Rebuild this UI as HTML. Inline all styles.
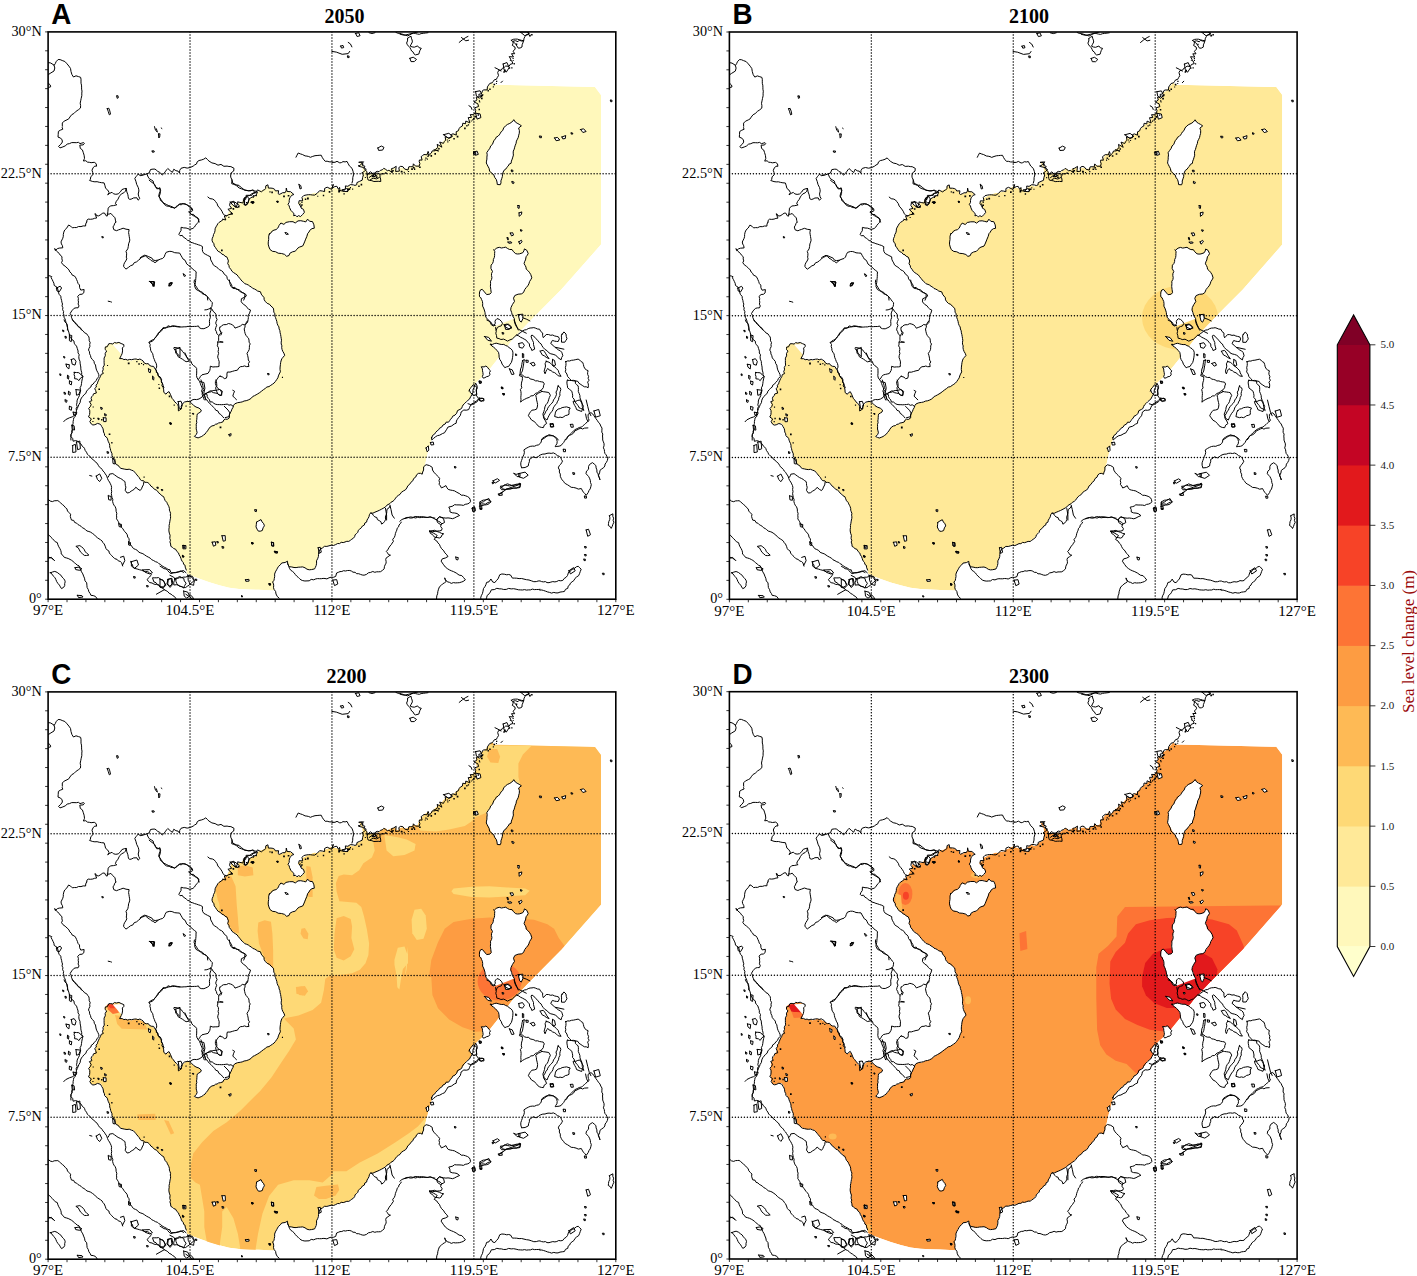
<!DOCTYPE html>
<html><head><meta charset="utf-8"><style>
html,body{margin:0;padding:0;background:#fff;width:1417px;height:1276px;overflow:hidden}
svg{display:block}
text{font-family:"Liberation Serif",serif}
</style></head><body>
<svg width="1417" height="1276" viewBox="0 0 1417 1276">
<defs>
<clipPath id="clp"><rect x="0" y="0" width="567.7" height="567.3"/></clipPath>
<g id="coast" fill="none" stroke="#000" stroke-width="1" stroke-linejoin="round" stroke-linecap="round"><path d="M480.4,-0.6 480.7,2.7 478.1,3.0 477.0,4.5 476.0,6.2 475.5,9.1 473.4,9.1 471.1,8.3 469.9,9.8 467.3,8.8 465.0,9.3 464.9,11.6 464.2,13.5 466.8,15.1 467.1,17.1 465.0,19.3 466.6,21.8 463.4,21.8 465.4,25.1 461.1,24.7 462.7,27.4 461.9,28.3 463.6,28.8 464.8,31.6 462.0,32.5 460.9,34.5 457.6,34.1 456.2,35.4 454.2,36.4 453.3,38.1 450.6,38.5 449.6,40.6 450.4,43.7 449.2,45.6 448.3,47.4 446.2,47.9 445.2,49.4 444.1,50.9 441.7,51.5 440.5,53.2 439.3,55.0 439.1,58.0 435.7,58.0 434.5,58.6 433.7,60.9 432.8,62.0 430.7,62.4 431.2,64.9 428.1,65.2 428.9,68.0 425.9,70.1 429.7,71.8 430.5,74.6 426.6,75.9 427.6,78.6 427.1,80.8 425.6,82.8 422.1,82.7 423.4,85.5 420.1,85.7 420.8,87.9 421.8,91.0 417.7,89.1 417.4,91.9 414.7,91.3 414.3,94.1 412.3,95.1 411.0,96.7 410.2,98.9 408.1,99.8 408.2,103.2 404.9,101.9 403.2,102.6 402.9,105.7 400.3,105.9 397.0,104.7 397.6,108.2 396.3,109.6 395.3,111.5 391.6,110.1 393.8,115.3 389.1,112.4 389.7,115.7 388.0,116.9 387.0,118.9 384.1,119.0 383.3,121.1 381.8,122.4 379.7,125.0 380.8,121.8 380.0,119.5 379.0,122.9 375.9,122.6 374.4,123.7 373.1,124.7 374.0,128.2 371.3,128.1 371.1,129.8 371.8,131.7 371.1,134.3 367.4,134.2 365.3,131.9 364.8,135.0 362.5,134.7 360.7,134.9 359.9,138.1 356.6,137.2 354.8,134.8 352.6,134.4 350.7,135.7 351.3,139.2 347.5,139.6 348.1,134.4 345.3,136.2 343.4,136.7 344.2,140.6 340.8,138.4 339.3,138.8 337.4,137.4 335.7,136.4 334.2,137.9 332.2,138.5 330.9,139.8 329.1,139.4 327.6,140.1 326.1,142.3 324.2,141.6 322.5,139.8 318.9,142.8 318.8,139.9 317.9,138.8 315.8,136.5 316.8,134.3 314.4,133.6 313.8,130.3 310.6,130.4 315.5,129.9 310.9,134.5 315.6,135.6 318.2,137.5 316.0,139.6 313.6,141.2 315.4,142.9 314.5,145.6 314.1,148.3 311.6,149.4 308.8,150.7 308.7,152.8 306.9,153.5 305.2,153.0 302.3,152.7 299.7,154.4 297.3,154.0 297.4,156.9 295.3,159.3 291.8,158.6 291.5,155.5 290.4,157.5 288.8,154.4 286.8,154.6 284.2,156.2 285.2,152.5 283.6,157.5 279.1,155.3 276.5,156.5 276.5,159.7 274.2,159.1 271.5,158.8 269.1,161.4 266.6,163.2 264.2,163.1 262.2,162.8 260.2,162.8 258.0,163.1 255.6,163.7 253.9,165.4 254.6,169.0 251.0,168.8 250.6,171.5 251.1,172.0 252.6,174.8M253.1,173.7 252.9,176.1 255.4,177.5 256.3,180.4 254.5,182.6 252.4,184.7 250.5,183.7 248.9,184.9 247.4,183.4 245.5,183.8 245.9,182.0 244.8,180.5 242.8,178.5 241.5,175.8 241.1,174.0 239.9,172.5 241.1,170.4 241.1,168.4 241.7,165.7 242.9,164.6 243.7,163.3 245.8,162.6 244.8,161.8 242.5,159.8 239.0,159.6 238.2,156.1 238.0,159.0 237.0,160.8 234.6,160.8 232.8,161.8 231.1,162.5 230.1,161.8 230.5,158.8 227.3,159.0 226.4,157.3 224.8,156.5 222.9,156.2 220.3,156.2 219.8,152.9 217.7,153.9 217.5,156.6 216.1,158.2M215.5,158.1 213.3,159.9 209.4,158.0 207.5,160.9 204.7,161.2 203.8,163.4 201.5,163.4 198.0,163.4 197.7,167.3 195.4,168.1 195.0,171.1 191.8,170.5 189.5,169.9 189.7,171.1 187.8,175.8 185.6,169.3 182.0,170.8 181.5,173.6 183.6,176.4 179.8,177.4 184.8,182.1 180.8,182.7 178.6,183.9 176.2,184.1 177.7,188.1 174.4,187.3M174.8,187.8 173.0,189.2 171.0,190.5 169.8,191.7 169.0,193.2 167.9,195.0 167.0,196.9 166.9,198.9 166.4,200.8 165.4,202.6 165.1,204.5 164.2,206.3 163.9,208.3 164.5,210.1 165.8,211.8 166.1,214.0 167.4,215.7 168.6,217.6 170.1,219.5 172.2,220.4 173.8,222.3 175.6,222.8 176.8,224.3 178.7,225.0 179.6,227.0 180.3,229.0 179.6,231.8 180.8,233.5 181.2,235.6 182.7,237.4 183.9,239.4 185.5,240.7 187.2,241.8 188.9,242.9 190.3,244.8 191.8,246.6 192.9,248.0 194.1,249.4 195.5,250.5 196.7,251.8 198.6,252.4 200.2,253.1 201.7,254.3 203.3,255.1 204.6,256.5 206.4,257.1 208.0,258.0 209.4,259.1 212.4,259.9 213.1,262.2 214.5,264.0 215.9,265.6 216.1,267.9 217.4,269.8 219.1,271.5 221.3,272.3 222.9,274.2 225.2,276.2 225.6,278.2 225.7,280.2 226.8,281.9 226.6,283.9 227.4,285.7 228.1,287.6 228.7,289.5 229.0,291.4 229.7,293.3 230.8,295.0 231.0,297.0 231.8,298.8 232.0,300.8 232.5,302.7 232.8,304.5 233.1,306.4 233.4,308.3 233.1,310.2 233.1,312.1 233.8,313.9 233.6,315.8 234.0,317.7 234.7,319.5 235.8,321.3 236.6,323.4 235.0,325.3 233.9,326.6 233.2,328.1 232.6,330.4 232.3,332.8 232.0,335.1 231.9,337.5 232.3,339.9 231.1,342.1 230.3,344.0 229.8,345.9 228.5,347.8 227.3,349.6 226.0,351.1 224.4,352.3 222.7,353.4 220.9,354.7 218.8,355.1 217.2,356.5 215.3,357.8 213.4,359.3 211.6,360.7 209.6,362.0 208.0,362.9 206.4,363.8 204.7,364.5 203.4,366.1 201.9,367.2 200.1,368.1 198.1,368.8 196.0,369.1 194.1,370.0 192.1,370.4 189.4,370.8 186.7,371.9 185.5,373.4 184.9,375.5 183.8,377.3 183.1,379.3 182.0,381.1 181.2,383.0 181.3,385.9 179.2,387.4 177.1,387.2 175.7,388.1 174.8,390.0 172.6,390.7 170.4,391.1 169.0,392.1 167.3,392.4 166.0,393.6 163.9,394.0 162.1,395.1 160.5,397.2 159.4,399.0 158.0,400.6 156.9,402.2 155.3,403.3 153.7,404.5 151.8,405.3 150.0,406.0 148.0,405.4 146.3,404.5 148.1,402.7 149.0,400.8 148.6,398.9 148.1,397.0 148.2,394.7 148.1,392.3 148.7,390.7 148.4,389.0 148.7,387.4 148.8,385.7 148.9,383.8 149.2,382.1 150.8,381.1 152.6,380.0 153.2,378.2 150.9,376.2 147.9,375.1 145.6,373.6 143.5,371.4 142.0,370.0 139.6,369.4M139.4,369.5 136.4,370.1 135.0,371.3 133.8,372.7 133.1,374.4 133.5,376.8 130.3,379.0 130.2,374.4 129.6,372.7 128.4,371.5 126.6,369.9 125.3,367.9 124.1,366.7 123.4,365.1 122.3,362.4 120.9,359.7 119.0,360.8 117.9,362.3 115.7,360.5 115.6,358.0 115.1,355.6 113.8,353.9 114.3,351.8 113.1,350.1 113.6,347.9 112.2,345.1 110.1,343.9 110.0,341.5 108.2,340.5 108.3,338.3 106.9,337.0 105.5,334.5 103.1,334.3 101.2,333.3 100.2,331.7 98.1,331.9 96.2,331.2 94.9,329.0 93.4,328.0 91.8,327.1 89.8,327.8 88.1,327.1 86.1,327.2 83.3,327.8 81.6,327.5 79.5,328.2 77.7,327.4 75.8,327.7 74.1,326.7 71.5,326.7 73.1,323.7 73.9,322.0 74.3,320.1 74.5,318.2 74.2,316.1 75.8,314.5 75.7,312.7 73.0,311.6 70.8,310.5 68.3,311.1 66.3,310.6 64.7,312.1 62.7,311.7 60.7,311.8 59.1,314.9 57.3,315.0 57.1,316.3 57.1,317.7 58.6,319.1 57.1,321.4 57.2,323.9 56.0,326.1 56.0,328.5 56.0,330.9 56.2,333.2 54.9,335.4 55.1,337.9 54.3,339.4 55.2,341.6 53.0,342.5 52.4,344.6 51.3,346.4 50.5,348.3 49.6,350.2 49.2,351.9 47.9,353.2 48.3,355.1 46.6,356.6 47.6,358.7 48.3,361.1 45.4,361.9 44.8,363.6 43.4,365.0 43.0,366.7 43.8,368.8 41.3,369.7 43.1,372.6 42.2,374.8 40.5,376.5 41.6,378.4 41.7,380.3 41.5,382.6 40.4,385.0 43.3,387.0 41.7,389.7 43.3,392.2 44.8,393.1 46.8,392.8 49.5,391.5 52.1,392.3 52.9,393.2 53.6,394.6 54.7,396.3 55.2,398.1 55.4,400.1 56.3,401.8 56.5,403.6 57.7,404.9M57.8,404.8 59.2,406.3 59.7,408.2 60.3,409.9 61.2,411.6 61.6,413.4 61.6,415.1 62.2,416.7 62.5,418.4 63.1,420.0 63.9,421.8 63.9,423.8 64.8,425.5 65.3,427.4 66.7,428.9 67.1,430.8 68.1,432.6 70.2,433.5 71.3,435.3 72.9,436.5 74.9,436.9 76.7,437.3 78.9,437.6 81.1,437.3 83.2,438.2 85.3,438.9 86.5,440.2 87.7,441.6 88.8,443.0 90.0,444.4 91.2,445.8 92.0,447.5 93.5,448.7 95.6,448.9 96.6,450.4 98.1,450.4 99.8,450.7 101.5,452.3 102.8,454.2 104.8,455.6 106.3,457.4 108.1,458.1 109.5,459.3 110.5,460.9 112.2,462.1 113.5,463.7 115.5,464.7 116.3,466.8 117.1,468.8 118.7,470.4 119.3,471.9 120.1,473.3 120.8,474.8 121.3,476.5 121.3,478.2 121.9,479.8 122.5,481.5 122.2,483.1 122.5,484.8 122.4,486.4 122.0,488.0 121.7,489.9 121.4,491.7 121.0,493.5 121.1,495.4 120.8,497.2 120.8,499.0 121.2,501.2 122.0,503.4 121.8,505.1 121.7,506.7 122.4,508.4 121.8,510.0 122.5,512.1 122.7,514.4 124.3,515.4 125.6,516.7 127.5,517.3 128.7,519.5 130.4,521.0 131.0,522.9 132.1,524.6 132.8,526.4 133.3,528.0 134.1,529.4 135.2,530.7 135.5,532.4 137.0,533.4 137.1,535.2 138.2,538.1"/><path fill="#000" stroke="none" d="M483.0,2.0h1.5v1.5h-1.5zM480.9,2.8h1.8v1.8h-1.8zM467.9,11.7h1.3v1.3h-1.3zM464.4,26.0h1.2v1.2h-1.2zM464.6,28.1h1.0v1.0h-1.0zM465.5,31.2h1.3v1.3h-1.3zM463.1,35.3h1.3v1.3h-1.3zM460.7,35.4h1.4v1.4h-1.4zM455.8,37.7h1.8v1.8h-1.8zM455.2,39.3h1.5v1.5h-1.5zM447.9,48.8h1.3v1.3h-1.3zM447.8,51.0h1.0v1.0h-1.0zM445.4,51.8h1.6v1.6h-1.6zM444.7,54.4h1.1v1.1h-1.1zM441.1,56.5h1.5v1.5h-1.5zM439.4,58.1h1.4v1.4h-1.4zM434.1,62.3h1.2v1.2h-1.2zM433.6,63.0h1.3v1.3h-1.3zM432.2,63.2h1.8v1.8h-1.8zM432.8,65.7h1.7v1.7h-1.7zM430.7,68.3h1.2v1.2h-1.2zM431.2,69.6h1.0v1.0h-1.0zM430.4,76.9h1.5v1.5h-1.5zM429.5,82.4h1.4v1.4h-1.4zM426.3,84.0h1.7v1.7h-1.7zM424.9,85.8h1.7v1.7h-1.7zM424.1,87.4h1.3v1.3h-1.3zM422.6,88.6h1.1v1.1h-1.1zM419.7,92.4h1.3v1.3h-1.3zM418.1,93.2h1.3v1.3h-1.3zM416.0,95.7h1.6v1.6h-1.6zM408.6,103.8h1.7v1.7h-1.7zM405.2,106.0h1.5v1.5h-1.5zM400.7,108.1h1.0v1.0h-1.0zM398.7,107.5h1.1v1.1h-1.1zM399.2,109.4h1.1v1.1h-1.1zM390.1,116.2h1.5v1.5h-1.5zM389.0,117.9h1.3v1.3h-1.3zM386.3,121.2h1.6v1.6h-1.6zM382.4,123.2h1.6v1.6h-1.6zM378.7,126.7h1.1v1.1h-1.1zM377.2,125.6h1.3v1.3h-1.3zM376.6,127.6h1.1v1.1h-1.1zM371.0,134.5h1.6v1.6h-1.6zM364.9,135.0h1.6v1.6h-1.6zM365.9,136.7h1.3v1.3h-1.3zM363.1,136.4h1.7v1.7h-1.7zM359.8,139.0h1.2v1.2h-1.2zM355.6,139.9h1.1v1.1h-1.1zM352.6,138.8h1.7v1.7h-1.7zM352.9,139.1h1.6v1.6h-1.6zM344.2,138.0h1.5v1.5h-1.5zM342.9,139.0h1.6v1.6h-1.6zM337.2,140.5h1.6v1.6h-1.6zM336.8,140.4h1.0v1.0h-1.0zM333.9,141.0h1.6v1.6h-1.6zM332.2,142.3h1.1v1.1h-1.1zM327.7,144.4h1.7v1.7h-1.7zM325.6,144.1h1.2v1.2h-1.2zM323.6,143.7h1.6v1.6h-1.6zM310.1,133.2h1.5v1.5h-1.5zM313.9,131.5h1.4v1.4h-1.4zM316.7,145.1h1.1v1.1h-1.1zM312.5,151.9h1.6v1.6h-1.6zM310.1,153.7h1.5v1.5h-1.5zM304.0,156.7h1.1v1.1h-1.1zM301.8,155.2h1.1v1.1h-1.1zM300.5,156.4h1.6v1.6h-1.6zM299.0,156.5h1.8v1.8h-1.8zM298.7,158.7h1.3v1.3h-1.3zM295.3,161.3h1.4v1.4h-1.4zM290.1,158.8h1.7v1.7h-1.7zM290.2,158.0h1.8v1.8h-1.8zM290.6,159.2h1.0v1.0h-1.0zM280.6,159.2h1.7v1.7h-1.7zM274.7,162.9h1.4v1.4h-1.4zM269.1,163.8h1.1v1.1h-1.1zM258.9,165.7h1.8v1.8h-1.8zM256.7,166.6h1.5v1.5h-1.5zM253.1,172.4h1.5v1.5h-1.5zM251.7,171.6h1.1v1.1h-1.1zM253.2,169.8h1.2v1.2h-1.2zM239.6,163.0h1.7v1.7h-1.7zM235.0,163.5h1.8v1.8h-1.8zM223.2,159.7h1.6v1.6h-1.6zM221.3,159.3h1.2v1.2h-1.2zM207.6,163.1h1.2v1.2h-1.2zM205.1,163.1h1.2v1.2h-1.2zM204.5,165.0h1.1v1.1h-1.1zM197.9,170.0h1.6v1.6h-1.6zM195.4,171.7h1.1v1.1h-1.1zM189.7,174.0h1.7v1.7h-1.7zM188.1,174.4h1.0v1.0h-1.0zM186.2,174.2h1.0v1.0h-1.0zM184.5,176.2h1.6v1.6h-1.6zM182.5,180.6h1.5v1.5h-1.5zM180.2,184.9h1.1v1.1h-1.1zM172.9,217.6h1.7v1.7h-1.7zM233.8,344.9h1.1v1.1h-1.1zM171.5,394.6h1.8v1.8h-1.8zM137.4,373.7h1.1v1.1h-1.1zM125.5,372.6h1.2v1.2h-1.2zM120.6,363.7h1.6v1.6h-1.6zM110.5,355.7h1.5v1.5h-1.5zM110.2,352.1h1.1v1.1h-1.1zM94.8,332.2h1.2v1.2h-1.2zM92.9,331.1h1.1v1.1h-1.1zM90.2,331.4h1.5v1.5h-1.5zM88.1,329.1h1.3v1.3h-1.3zM79.7,330.6h1.8v1.8h-1.8zM58.9,333.0h1.1v1.1h-1.1zM50.3,356.6h1.6v1.6h-1.6zM44.5,374.5h1.2v1.2h-1.2zM45.0,385.8h1.4v1.4h-1.4zM44.2,389.0h1.2v1.2h-1.2zM53.0,387.1h1.4v1.4h-1.4zM60.6,401.5h1.7v1.7h-1.7zM63.1,410.2h1.3v1.3h-1.3zM95.4,444.6h1.2v1.2h-1.2z"/><path d="M-0.1,30.6 2.6,31.1 5.9,33.2 6.7,36.1 5.9,39.1 2.0,41.5 -0.1,43.0M-0.1,51.0 2.1,53.0 2.6,54.9 0.6,55.5M6.1,33.3 7.2,31.7 8.0,29.8 10.0,27.6 12.0,27.7 14.1,28.6 16.8,29.6 18.9,31.9 20.8,34.2 22.4,36.5 22.9,39.6 23.8,42.6 25.4,45.1 27.9,43.9 30.4,44.7 32.5,45.4 32.9,47.3 32.9,49.2 32.9,51.3 33.4,53.2 33.5,55.2 33.5,57.2 33.9,59.2 33.7,61.2 33.7,63.8 33.1,66.4 32.6,68.9 32.1,71.3 32.5,73.6 32.4,76.1 30.4,77.8 28.1,79.3 25.8,81.6 23.7,82.7 21.8,85.1 20.7,86.9 18.9,87.9 16.1,89.2 14.2,91.1 14.2,94.2M92.4,143.2 95.9,142.9 98.4,142.0 101.1,141.0 102.4,137.6 104.9,137.2 106.8,137.2 108.4,138.2 109.6,139.6 111.4,140.2 112.7,141.8 114.2,143.0 116.1,141.3 117.5,139.3 118.6,137.8 119.7,136.6 122.1,138.8 124.3,140.5 125.0,138.9 125.7,137.3 127.8,138.8 129.9,139.2 131.4,141.2 131.6,138.5 132.9,136.4 136.1,135.5 139.1,136.2 142.1,135.6 145.1,134.2 146.6,133.0 148.4,132.1 149.1,129.9 150.9,128.6 153.2,128.1 155.6,127.3 157.7,125.9 159.3,127.6 160.9,129.2 163.8,131.0 167.0,131.7 169.9,133.3 172.9,132.5 175.8,134.4 179.0,134.2 180.8,134.6 182.8,134.7 185.9,136.4 185.6,139.1 183.1,140.9 182.6,143.0 182.6,145.2 184.0,148.2 184.7,151.3 187.8,152.7 189.9,153.7M98.8,142.1 100.1,145.2 101.3,146.9 103.2,148.0 105.0,149.1 105.5,151.3 106.8,153.0 107.3,155.0 110.1,156.6 111.8,155.8 112.5,158.7 111.3,161.1 110.6,164.2 112.0,166.2 112.3,168.5 114.0,169.6 115.1,171.0 118.2,172.5 120.1,173.5 122.3,174.2 124.6,175.1 126.4,176.3 129.1,174.6 131.1,172.6 133.1,172.9 134.8,171.8 136.8,172.3 138.7,172.8 141.5,174.5 144.3,176.8 144.6,178.7 141.6,180.4 142.9,182.5 145.4,182.5 147.2,184.4 149.9,186.2 150.4,188.3 151.1,190.1M68.7,64.1 69.9,63.8 70.2,65.9 69.0,66.4 68.7,64.1ZM59.2,76.8 60.7,76.3 61.7,79.0 62.4,82.3 61.2,82.9 60.2,79.8 59.2,76.8ZM106.4,94.7 107.4,98.4 109.3,100.2 108.3,96.9M113.1,96.1 113.8,96.6M110.4,102.1 111.9,101.9 111.6,105.1 110.7,106.1 110.4,102.1ZM104.1,119.2 105.9,118.9 106.2,120.1 104.4,120.4 104.1,119.2ZM14.3,95.2 14.1,95.7 14.7,97.3 12.4,98.2 10.3,99.5 10.1,102.6 9.9,105.2 12.4,106.1 14.0,108.0 14.3,110.1 12.7,112.4 10.4,114.5 11.9,116.0 14.8,115.0 17.1,114.0 19.1,112.2 21.4,111.7 23.6,110.7 25.9,110.7 28.2,110.8 30.3,110.4 31.9,111.7 33.7,111.2 35.6,110.7 36.3,111.5 35.1,113.0 31.7,113.2 32.2,116.5 34.3,118.0 35.1,120.4 36.0,123.3 36.4,126.4 35.3,129.1 37.7,128.8 39.3,130.2 41.2,130.4 43.0,130.8 46.2,130.4 48.1,131.8 48.5,134.3 46.6,134.2 44.9,136.0 43.9,138.3 44.6,140.5 44.8,142.8 42.7,144.8 42.3,147.4 41.4,148.5 44.6,149.6 46.8,149.9 49.0,149.8 51.2,150.4 53.5,150.8 56.0,151.0 56.9,153.9 57.5,156.4 59.5,158.0 61.0,160.5 59.6,162.9 61.7,161.4 63.9,160.4 65.4,161.9 67.7,162.4 70.1,162.0 72.3,160.0 73.8,157.7 76.5,156.7 78.1,156.5 78.7,159.9 79.8,162.9 80.1,164.8 80.4,166.7 81.8,167.5 83.7,167.0 85.5,166.0 88.8,165.9 90.0,168.3 91.7,166.6 90.7,164.7 90.1,162.1 90.8,159.1 90.6,157.3 90.1,155.5 88.6,152.5 87.8,149.4 86.7,146.5 88.0,144.7 89.1,143.4 90.0,142.2 92.2,143.7 94.9,143.1M78.1,156.5 77.4,159.2 75.7,160.9 73.4,161.9 72.1,163.4 71.0,164.9 69.9,167.3 68.2,169.4 67.3,171.7 68.7,172.9 65.4,173.7 62.3,174.0 60.1,176.2 59.8,179.3 59.5,182.2 59.1,184.2 57.9,183.8 56.4,181.1 54.7,181.2 52.8,182.6 50.6,184.0 48.2,183.7 47.7,182.0 46.8,181.8 47.5,183.7 48.6,186.1 46.5,186.4 44.7,187.1 42.3,187.4 40.1,187.2 38.8,188.3 38.6,190.2M59.1,182.2 61.0,182.2 62.8,181.5 64.7,183.7 66.9,185.9 67.3,188.2 67.7,190.1M189.9,153.0 193.3,155.6 196.6,158.3 200.6,158.9 204.6,158.3 206.3,159.7 206.7,161.0M247.9,125.3 248.9,123.3 250.1,121.1 252.3,122.0 254.3,122.6 257.0,124.0 258.8,124.2 260.6,124.6 262.3,125.4 264.6,124.5 266.9,123.8 269.0,123.6 271.0,123.4 273.1,123.3 274.1,125.4 275.3,127.3 277.1,129.4 279.0,129.3 281.0,129.9 282.9,130.0 284.9,130.4M196.6,166.4 199.3,164.7 201.0,167.0 200.0,171.1 197.9,173.7 196.3,172.4 196.6,166.4ZM250.9,152.6 252.6,153.6 253.3,156.6 251.9,157.0 250.9,152.6ZM229.1,169.4 230.1,169.4 230.0,170.4 229.1,170.4 229.1,169.4ZM203.6,170.0 205.7,169.7 205.3,171.1 204.0,171.4 203.6,170.0ZM463.3,8.3 465.2,7.4 467.2,7.2 469.2,7.2 471.1,7.8 473.2,8.4 475.5,8.8 474.8,11.0 474.0,12.9 473.9,15.1 472.0,16.1 470.1,16.2 468.9,14.2 467.5,12.2 466.3,10.7 464.7,9.6 463.1,8.5ZM472.2,0.1 478.2,0.1 481.2,1.6 476.7,3.8 472.2,0.1ZM455.1,32.1 458.8,30.6 461.1,35.8 458.1,40.3 455.8,37.3 455.1,32.1ZM427.5,59.7 432.0,58.9 434.2,63.4 431.3,66.4 428.3,64.1 427.5,59.7ZM427.5,81.3 432.0,82.0 432.8,85.7 429.0,87.2 427.5,81.3ZM395.5,102.8 400.7,101.4 404.5,104.3 400.7,106.6 395.5,102.8ZM446.9,35.8 449.9,37.3 452.9,39.1M420.8,73.8 423.1,75.3 423.8,77.5M385.9,117.7 390.3,119.2M426.1,120.0 429.0,119.2 430.2,122.5 427.3,123.4 426.1,120.0ZM452.9,50.7 454.4,49.2M491.6,104.3 493.4,104.3 493.4,105.8 491.6,105.8 491.6,104.3ZM506.5,106.1 509.4,105.5 511.7,108.1 508.0,108.8 506.5,106.1ZM513.9,105.1 517.6,103.6 517.2,106.6 514.7,107.0 513.9,105.1ZM523.1,101.1 524.6,101.1 524.6,102.2 523.1,102.2 523.1,101.1ZM532.5,97.6 535.5,96.9 538.0,99.6 534.8,100.6 532.5,97.6ZM562.5,68.3 563.9,68.3 563.9,69.8 562.5,69.8 562.5,68.3ZM463.3,138.3 464.8,138.3 464.8,139.8 463.3,139.8 463.3,138.3ZM464.0,149.7 466.0,150.2 465.5,151.7 464.0,151.2 464.0,149.7ZM469.8,173.6 471.3,173.6 471.0,176.5 469.8,176.1 469.8,173.6ZM471.0,181.0 473.7,180.0 473.4,182.5 471.0,184.4 471.0,181.0ZM465.9,88.1 467.2,90.1 469.0,91.3 471.1,92.4 473.3,93.9 470.5,96.1 471.3,98.7 471.2,101.3 470.6,103.3 470.2,105.4 469.3,107.3 468.3,109.2 468.0,111.4 467.2,113.3 466.6,115.3 466.1,117.3 465.2,119.2 465.1,121.2 465.3,123.2 464.7,125.2 464.1,127.2 463.3,129.2 463.0,131.4 461.0,132.3 460.1,134.2 458.7,135.5 457.7,137.2 456.0,138.3 455.1,140.1 454.4,142.3 454.3,144.7 453.6,146.8 452.8,149.0 452.9,150.9 452.2,152.8 449.2,152.6 448.9,150.1 448.2,147.6 446.6,145.5 445.7,142.9 443.4,141.1 441.5,139.2 441.0,136.5 439.8,134.3 439.0,132.7 438.2,131.1 438.4,129.2 438.8,127.2 438.8,125.2 439.1,122.9 438.7,120.7 440.2,118.5 441.8,116.3 442.6,114.0 444.4,112.4 445.2,110.1 446.0,108.4 447.3,107.0 448.1,105.3 449.9,104.3 451.2,103.0 452.2,101.4 453.1,99.8 454.6,98.6 455.6,96.0 457.4,94.0 459.4,92.5 461.7,91.5 463.7,90.2 465.3,88.4ZM319.1,142.2 321.1,142.0 323.1,141.8 325.1,141.3 327.4,141.3 329.6,141.3 331.6,141.9 331.8,143.5 332.0,145.3 332.5,147.1 332.7,149.6 330.1,149.4 327.9,149.5 325.8,149.6 323.8,148.8 321.8,148.5 320.0,148.1 319.4,146.3 319.1,144.3 319.3,142.3M321.1,145.6 323.8,143.6 326.5,144.6 329.1,143.0M322.4,147.7 325.1,146.3 328.5,147.0 331.2,145.6M325.1,143.0 327.8,142.6 327.1,144.3 325.5,144.6 325.1,143.0ZM294.3,158.0 298.3,156.7 300.7,157.7 299.3,159.7 295.0,159.4 294.3,158.0ZM284.5,130.4 286.9,130.4 288.9,129.4 291.7,131.0 293.3,130.7 294.9,129.7 297.0,130.0 298.9,129.5 300.1,131.8 301.3,134.0 303.9,136.4 305.0,139.6 305.4,143.0 304.7,145.6 304.6,148.4 303.9,151.1M329.8,116.1 333.2,114.1 335.9,115.5 334.5,118.2 330.5,118.5 329.8,116.1ZM196.5,166.3 198.0,164.7 200.0,164.0 201.8,163.5 203.2,162.1 204.9,161.6 207.1,160.6 209.4,159.9 208.2,163.0 206.6,164.0 204.6,164.8 202.8,165.9 201.0,167.0 200.5,168.8 199.8,170.7 199.0,172.4 196.4,173.2 196.5,171.6 196.5,169.7 195.3,167.8 196.3,166.0ZM182.2,170.2 186.9,170.2 191.1,173.5 189.7,175.8 185.0,173.5 182.2,170.2ZM204.3,170.2 205.7,170.2 205.7,171.1 204.3,171.1 204.3,170.2ZM159.8,165.1 161.8,166.7 164.4,167.1 166.1,168.0 167.3,169.5 168.9,171.6 169.8,174.1 171.5,176.0 173.0,178.0 174.1,179.8 174.8,181.7 176.3,183.1 178.4,183.9M183.8,148.0 183.7,149.9 183.6,151.8 185.8,152.5 188.0,153.4 189.7,155.1 191.7,156.4 193.6,157.0 195.4,157.7 197.7,158.3 200.1,158.8 202.4,158.9 204.8,158.1 206.6,159.0 208.5,159.5M101.1,148.3 102.8,149.7 104.7,151.0 106.2,152.6 107.5,154.6 108.7,156.9 111.6,156.6 112.2,159.4 112.2,161.3 111.6,163.1 111.0,165.1 112.6,167.3 114.1,169.3 115.3,171.1 116.5,172.8 118.6,174.1 121.1,174.4 122.8,175.4 124.8,175.7 126.7,176.2 127.9,174.7 129.6,173.6 131.2,172.2 133.3,171.7 135.2,171.8 137.1,171.9 139.2,173.2 140.9,174.7 143.9,177.0 142.0,178.6 140.5,180.2 143.0,182.2 144.7,183.5 146.6,184.5 148.7,185.9 150.9,187.5 150.1,190.4 148.8,191.8 147.5,193.3 146.4,195.1 144.8,196.5 141.8,197.4 139.8,196.7 138.0,196.1 135.6,196.0 133.0,195.4 132.9,198.8 131.6,200.6 130.8,202.6 131.9,203.8 134.2,203.5 135.3,205.3 136.9,206.2 138.3,207.3 139.7,208.6 141.6,208.9 142.8,210.5 144.7,210.9 146.5,211.7 148.4,212.2 150.3,212.9 152.3,213.5 154.4,214.7 154.2,217.7 154.6,219.7 155.8,221.5 157.7,222.5 159.5,223.5 162.3,224.9 162.4,227.2 163.2,229.1 164.3,230.9 165.1,232.9 166.7,234.1 168.5,235.2 170.0,236.4 171.4,237.9 173.3,238.7 174.9,240.0 175.8,241.9 177.5,243.1 178.8,244.8 179.2,246.9 180.4,248.4 181.5,249.8 182.5,251.3 183.5,252.9 184.0,254.7 184.9,256.4 187.4,256.8 189.7,257.7 191.4,259.2 193.2,260.4 195.4,261.2 196.8,262.4 196.6,265.8 195.6,268.2M91.9,226.1 93.3,224.9 94.9,224.1 96.6,223.3 98.2,224.5 99.6,226.1 101.4,227.0 103.0,228.6 105.1,229.5 106.9,230.8 108.8,229.4 110.6,227.9 112.6,227.1 114.6,226.5 116.1,225.0 116.9,222.7 118.1,220.4 121.1,219.5 123.0,219.5 124.8,220.0 126.6,220.8 129.0,221.0 131.6,221.2 132.7,223.3 133.9,225.3 135.0,227.2 136.9,228.3 137.8,230.1 138.6,232.0 140.7,233.7 142.9,235.3 144.4,237.1 146.3,238.5 148.1,239.9 147.9,242.2 147.9,244.3 147.7,246.5 147.5,248.7 147.3,250.7 146.9,252.5 146.5,254.4 148.0,257.5 150.2,258.7 152.3,259.8 153.9,261.6 156.1,262.5 157.9,263.4 159.3,264.8 159.6,268.1M135.2,242.1 136.6,242.6 137.5,244.0 136.1,244.5 135.2,242.1ZM102.2,249.7 106.0,249.7 106.0,254.4 104.6,252.0 102.2,249.7ZM122.0,251.1 123.9,250.6 122.9,253.0 121.2,253.9 122.0,251.1ZM221.1,202.1 222.9,201.0 224.1,199.1 225.9,198.2 228.0,197.7 229.4,196.5 230.4,195.0 230.9,193.6 232.8,191.1 235.8,192.5 237.9,190.5 241.4,189.8 244.9,189.8 247.1,191.1 249.9,189.0 252.7,188.8 255.4,189.4 257.7,190.0 259.5,187.2 261.5,189.4 264.4,189.7 265.8,192.9 266.2,196.3 263.9,196.7 261.6,198.5 260.9,200.2 259.6,201.5 258.8,204.4 257.6,207.2 256.5,210.0 255.6,212.1 254.6,214.1 251.6,215.1 250.0,215.9 248.9,217.4 247.0,219.3 244.2,220.0 241.7,221.4 240.9,223.6 238.5,224.4 236.5,222.5 233.5,221.6 230.1,221.3 227.4,219.8 224.3,219.4 221.9,217.6 220.8,215.0 220.1,212.2 220.2,209.9 220.6,207.6 220.6,204.2 221.4,202.0ZM237.2,200.8 238.6,200.8 240.3,202.3 238.0,202.5 237.2,200.8ZM203.0,170.4 205.3,169.8 205.9,170.6 204.2,171.5 203.0,170.4ZM229.0,169.5 230.1,169.5 229.8,170.6 229.1,170.4 229.0,169.5ZM181.3,248.1 181.6,250.4 182.1,252.7 182.8,254.3 184.1,255.9 186.8,255.4 188.2,257.2 191.0,257.8 192.6,259.3 194.3,260.6 197.4,262.1 198.3,264.1 196.3,265.4 193.3,266.8 193.1,269.9 195.4,272.5 197.5,273.7 198.9,275.7 200.3,277.0 202.4,278.1 201.5,281.2 199.8,283.9 200.3,285.7 200.0,287.6 199.4,290.6 198.1,291.9 197.0,293.3 196.9,295.2 196.1,297.0 196.5,299.4 197.1,301.8 197.9,303.5 199.0,304.9 200.4,306.3 200.9,308.2 201.0,310.3 202.1,312.0 201.3,313.9 201.3,315.8 201.1,317.7 200.1,319.6 198.9,321.4 199.6,323.8 200.1,326.2 200.2,328.1 201.4,329.9 200.3,331.7 200.8,334.6 198.2,334.7 196.4,334.0 194.6,334.6 192.6,334.7 190.7,336.0 189.3,338.3 186.6,338.8 184.2,339.5 181.9,340.2 179.3,340.1 178.8,342.1 178.9,344.1 178.3,346.2 176.2,346.7 174.6,345.2 171.8,344.3M172.1,295.4 173.6,293.8 175.5,292.8 178.2,292.7 180.4,291.6 182.4,292.1 184.4,292.9 185.8,294.4 186.9,296.2 188.8,295.5 190.6,294.8 192.5,294.0 194.2,292.5 196.4,293.0 197.5,291.6 199.2,289.2M219.7,341.7 221.0,341.7 221.0,342.9 219.7,342.9 219.7,341.7ZM171.9,298.9 173.8,300.8 172.8,303.1M171.9,309.7 174.7,310.2M152.9,348.0 153.5,350.0 154.3,351.9 154.7,353.7 155.0,355.6 156.0,357.5 154.7,359.4 154.4,361.3 155.4,363.0 156.8,364.3 157.0,366.4 158.5,367.7 159.8,369.5 161.2,371.3 162.9,372.7 164.1,374.0 165.4,375.4 166.7,376.7 167.6,378.3 169.9,379.2 170.8,381.4 172.7,382.6 174.2,384.3 175.6,385.9M157.2,361.4 159.0,362.6 159.1,364.7 160.0,366.4 161.4,367.9 161.9,370.0 164.1,370.0 165.8,371.5 167.6,372.4 169.6,372.7 171.5,372.7 173.4,372.8 175.3,372.7 177.1,372.5 179.1,372.2 180.9,373.3 182.9,372.8 184.8,374.2M176.2,374.4 180.0,378.2 181.8,381.0 180.9,384.8 177.1,385.7M142.2,370.0 143.7,368.2 146.0,367.5 148.5,367.7 150.9,367.1 153.8,365.3 155.0,363.5 156.6,362.3 158.3,361.2 160.1,360.2 162.0,359.0 164.0,359.0 165.8,358.5 167.7,358.5 169.6,358.0 171.5,357.6 174.3,359.4 173.6,361.2 173.6,363.4 171.4,363.1 169.7,362.1 168.7,359.8 167.8,357.5 167.6,355.6 168.7,353.8 168.6,351.9 168.4,349.9 167.8,348.1M130.1,369.7 132.9,369.3 134.3,373.0 132.9,376.8 131.1,376.3 130.1,369.7ZM122.0,391.2 123.3,391.2 123.3,392.3 122.0,392.3 122.0,391.2ZM180.9,402.6 183.0,401.7 182.8,403.8 181.4,404.3 180.9,402.6ZM144.7,381.5 145.6,381.5 145.6,382.4 144.7,382.4 144.7,381.5ZM184.7,358.4 186.5,359.4 185.6,361.3 184.7,364.1 186.5,366.0 188.4,367.8M16.0,287.9 16.7,289.9 18.5,291.4 18.8,293.6 19.4,295.9 19.9,298.1 20.7,300.2 21.2,302.2 21.5,304.1 22.6,305.8 23.9,307.7 25.9,309.2 26.1,311.3 27.1,312.8 28.4,314.2 29.2,316.6 30.0,319.1 29.9,321.0 31.1,322.8 30.7,324.8 30.9,327.2 31.9,329.4 32.0,331.3 32.3,333.2 32.7,335.1 32.7,337.0 33.1,338.9 33.6,340.7 33.6,342.8 34.8,344.5 34.2,346.9 33.7,349.3 33.4,351.7 33.0,354.0 32.0,355.8 32.4,357.8 31.9,359.6 31.0,361.4 31.4,363.5 30.5,365.4 29.5,367.1 28.9,369.0 28.9,370.9 28.4,372.8 29.1,374.7 28.1,376.5 28.3,378.4 28.2,380.3 26.9,382.0 27.5,384.3 25.7,385.8 25.4,387.7 25.0,389.6 25.0,391.5 24.4,393.4 24.8,395.4 24.9,397.3 23.7,399.1 23.9,401.0 22.8,402.8 22.8,405.5 22.8,408.1M24.4,287.8 25.9,289.4 27.4,291.1 29.0,292.7 30.2,294.6 32.2,295.7 33.4,297.7 35.1,299.1 36.5,300.9 38.6,301.9 39.6,303.5 40.8,305.0 41.1,306.9 41.1,308.8 42.1,310.6 41.6,312.5 41.8,314.6 40.9,316.4 40.4,318.2 41.4,319.9 41.5,321.9 42.4,323.7 42.9,325.9 44.4,327.7 45.9,329.4 46.2,331.4 47.4,333.1 47.7,335.1 48.1,337.1 48.8,338.9 49.8,340.7 50.6,342.5 50.9,344.6 49.1,346.4 48.1,348.6 46.4,350.3 45.0,352.2 43.3,353.2 42.8,355.1 41.2,356.2 40.0,357.6 38.5,359.2 37.7,361.5 36.0,362.8 34.7,364.4 33.3,366.1 32.4,368.2 32.0,370.7 30.7,372.8 30.1,374.6 29.2,376.4 28.5,378.3M101.1,310.4 102.4,309.1 104.0,308.2 105.7,307.5 107.1,306.2 108.3,304.5 109.7,303.1 110.6,301.2 112.4,299.9 113.9,298.3 114.9,295.8 117.8,296.0 119.8,293.9 122.3,294.7 124.4,293.8 126.6,294.1 129.2,294.5 131.8,295.0M100.9,310.7 102.1,312.5 101.8,314.5 102.4,316.3 102.5,318.3 103.4,320.1 104.6,321.8 105.0,323.7 105.4,325.7 106.2,327.5 106.9,329.5 108.0,331.3 108.5,333.3 108.6,335.2 107.6,337.0 108.1,339.0 109.2,340.7 109.6,342.7 110.5,344.3 111.4,345.9 112.8,347.2 113.5,349.7 114.6,352.0 115.1,353.9 115.8,355.7M127.6,317.3 131.9,315.4 131.9,324.8 128.5,321.0 127.6,317.3ZM55.2,385.9 58.0,385.9 58.0,389.7 55.6,389.7 55.2,385.9ZM56.6,382.1 58.2,382.6 58.0,384.0 56.6,383.8 56.6,382.1ZM52.8,375.6 54.2,376.0 54.0,377.4 52.8,377.3 52.8,375.6ZM50.0,386.4 51.2,386.7 50.9,387.8 50.0,387.6 50.0,386.4ZM121.9,391.1 123.1,391.1 123.1,392.3 121.9,392.3 121.9,391.1ZM100.3,337.0 102.7,337.9 102.2,340.8 100.8,340.3 100.3,337.0ZM104.5,344.5 105.9,345.5 105.5,348.3 104.5,347.3 104.5,344.5ZM14.7,298.4 15.8,298.6 15.7,299.9 14.7,299.6 14.7,298.4ZM17.1,304.6 18.3,304.8 18.1,306.4 17.1,306.2 17.1,304.6ZM21.3,303.1 23.7,303.6 23.2,309.7 21.3,308.8 21.3,303.1ZM15.7,324.8 16.8,325.0 16.6,326.2 15.7,325.9 15.7,324.8ZM18.0,332.3 21.3,332.8 20.8,337.0 18.5,335.1 18.0,332.3ZM23.2,327.6 26.0,326.7 27.9,329.5 26.9,333.2 24.1,332.3 23.2,327.6ZM26.0,340.5 28.4,340.6 30.7,340.8 32.7,342.5 34.7,344.5 32.4,346.2 30.8,348.7 29.0,347.1 26.5,346.8 26.6,344.5 26.0,342.7 26.4,340.7ZM19.4,343.6 20.8,344.1 20.4,347.3 19.2,346.4 19.4,343.6ZM21.3,349.2 23.7,349.7 23.2,353.0 21.3,352.0 21.3,349.2ZM16.1,360.5 17.5,361.0 17.4,362.4 16.1,362.2 16.1,360.5ZM20.4,359.6 22.2,360.5 21.8,363.3 20.2,362.4 20.4,359.6ZM27.9,357.7 32.6,358.2 31.6,362.4 28.4,363.3 27.9,357.7ZM17.1,368.0 19.0,368.5 18.5,370.4 17.1,369.9 17.1,368.0ZM21.3,374.6 23.7,375.1 23.2,378.4 21.1,377.4 21.3,374.6ZM25.1,380.3 28.8,380.7 27.9,383.1 25.5,383.1 25.1,380.3ZM15.7,389.7 17.5,387.8 21.3,385.9 24.1,385.0 26.9,383.1M23.7,393.4 26.0,393.9 26.5,398.1 24.1,397.7 23.7,393.4ZM11.9,342.2 12.8,342.2 12.8,343.6 11.9,343.6 11.9,342.2ZM24.0,398.1 24.0,400.3 23.0,402.4 22.8,404.7 24.6,406.6 25.0,409.3 27.3,408.7 29.5,409.2 31.0,410.9 33.0,412.2 33.8,413.9 35.3,415.1 36.4,416.5 37.1,418.6 38.4,420.3 39.3,422.3 40.8,423.8 42.5,425.0 43.6,426.8 45.6,428.1 47.1,429.9 49.0,431.3 50.2,433.4 51.1,434.9 52.7,436.1 53.9,437.4 54.8,439.0 56.2,440.3 57.1,441.9 58.6,444.0 59.4,446.6 60.2,448.4 61.4,450.1 62.3,451.9 63.1,453.6 63.5,455.5 63.2,457.4 63.6,459.5 63.2,461.7 63.6,463.9 63.9,465.8 64.7,467.5 64.5,469.5 65.0,471.4 65.8,473.2 67.1,474.8 67.9,477.0 68.0,479.4 68.7,481.5 68.4,483.3 68.6,485.2 68.4,486.9 69.3,488.2 70.3,489.8 71.0,491.5 72.5,493.1 73.1,495.2 74.7,496.7 75.6,498.3 76.7,499.8 78.0,501.1 79.2,502.9 79.6,505.1 80.9,506.8 81.1,508.5 80.7,510.4 81.4,512.1 83.0,513.3 84.1,515.0 85.4,516.7 87.4,517.5 89.3,518.5 90.7,520.3 92.7,521.1 94.8,521.8 96.6,523.0 98.3,524.2 100.2,525.2 102.1,526.2 103.6,527.8 105.6,528.7 107.4,529.8 109.4,530.4 110.8,531.8 112.6,532.6 114.0,534.1 116.2,535.3 118.4,536.4 119.9,537.5 121.7,538.0M59.9,445.4 60.9,443.8 61.4,442.2 64.7,441.7 66.4,442.9 68.0,444.1 70.0,445.5 72.2,446.5 73.8,447.4 75.2,448.6 76.8,449.6 77.1,451.5 77.2,453.4 77.8,455.2 77.1,458.4 79.0,461.1 81.2,460.7 83.1,459.2 84.7,458.3 86.2,457.3 87.7,455.3 89.9,457.3 92.1,458.6 93.4,456.9 94.1,455.1 95.3,452.9 95.7,450.4M0.1,467.4 2.0,469.1 4.3,469.7 6.1,468.9 8.0,468.8 9.7,468.7 11.2,469.8 12.7,471.2 14.3,472.6 15.9,473.9 17.2,475.6 18.8,476.9 19.4,479.1 20.9,480.7 22.5,482.3 22.2,484.5 22.7,486.3 23.4,488.2 25.6,488.5 26.6,490.6 28.5,491.2 29.8,492.6 31.4,493.5 33.0,494.4 34.2,495.8 35.9,496.6 37.3,497.7 38.9,499.1 40.8,499.6 42.6,500.3 44.5,501.6 46.4,503.0 48.0,504.8 49.4,505.9 50.9,506.9 52.5,507.9 54.0,509.1 54.8,510.7 56.1,512.0 57.1,514.3 57.9,516.7 59.1,518.1 60.8,519.1 61.2,521.1 62.4,522.5 63.6,523.8 64.9,525.0 66.7,526.8 69.0,527.5 70.2,529.0 72.1,529.5 73.5,530.8 74.6,534.1M-0.2,502.4 1.5,503.7 2.8,505.3 4.3,506.7 5.7,508.2 7.1,509.8 9.2,510.7 9.8,512.9 10.7,514.9 11.8,516.7 12.6,518.4 13.1,520.2 13.1,522.1 14.9,523.6 16.2,525.5 18.2,526.0 20.1,526.6 21.9,527.5 23.5,528.4 24.9,529.5 26.3,530.8 27.7,531.9 29.1,533.2 30.9,533.9 31.8,536.1 32.5,538.3M28.4,514.3 31.7,513.7 33.4,514.9 35.2,516.4 36.3,517.9 36.9,519.7 38.4,520.9 40.8,523.2 38.3,523.6 36.2,523.5 34.4,521.9 32.5,520.2 31.3,518.1 30.2,516.0 28.1,514.7ZM24.6,413.5 27.3,412.4 27.9,420.0 24.6,420.6 24.6,413.5ZM28.4,410.2 31.7,409.1 32.3,416.8 29.5,417.8 28.4,410.2ZM48.2,444.2 51.5,442.0 53.7,446.4 51.5,449.7 49.3,447.5 48.2,444.2ZM41.6,443.6 43.8,444.2M59.1,420.0 60.5,420.0 60.5,421.4 59.1,421.4 59.1,420.0ZM64.6,426.6 66.8,427.2 67.0,432.1 64.9,431.6 64.6,426.6ZM60.2,463.9 63.0,464.5 63.0,468.3 60.5,467.8 60.2,463.9ZM70.7,491.9 73.4,492.5 73.2,495.2 71.0,494.7 70.7,491.9ZM80.5,510.0 82.4,510.6 82.2,513.5 80.5,513.1 80.5,510.0ZM109.1,455.4 110.2,455.4 110.2,456.5 109.1,456.5 109.1,455.4ZM113.5,457.6 114.6,457.6 114.6,458.7 113.5,458.7 113.5,457.6ZM135.1,513.5 136.8,513.9 136.5,516.0 135.1,515.7 135.1,513.5ZM134.3,523.7 135.7,524.1 135.4,525.2 134.3,524.9 134.3,523.7ZM72.3,525.4 75.6,524.3 76.7,528.7 74.5,533.1M83.3,529.8 88.8,528.1 90.4,533.1 86.6,536.3 83.3,534.2 83.3,529.8ZM-0.1,526.5 3.2,525.4 6.5,528.7M38.5,190.2 37.6,192.1 37.5,194.1 35.1,194.0 32.9,194.7 30.5,194.6 28.2,195.7 26.3,195.6 24.2,195.9 22.5,194.2 20.5,193.1 18.8,196.0 16.6,198.1 15.7,200.2 15.2,202.6 15.2,204.4 14.7,206.3 13.8,208.1 12.9,210.0 13.3,212.0 14.3,213.7 14.7,215.9 11.1,216.2 9.2,216.8 7.2,218.6 6.6,216.6 8.5,219.3 11.1,221.5 12.1,223.2 13.9,224.8 13.8,226.9 14.3,228.9 13.4,230.7 14.8,232.7 17.0,234.3 19.0,236.1 20.9,238.0 21.7,240.0 23.2,241.3 24.1,243.2 26.4,244.1 27.8,246.0 28.5,247.7 29.3,249.5 29.9,251.5 31.4,253.1 31.5,255.8 32.7,258.2 36.0,257.6 35.7,260.9 34.0,262.3 31.7,262.5 29.6,264.4 30.3,266.5 30.1,268.4 30.4,270.2 30.0,272.1 30.9,274.0 30.0,275.9 28.0,275.9 26.0,276.4 23.7,278.9 22.1,281.5 23.1,283.4 23.3,285.3 24.1,287.1 24.7,288.8 26.5,290.6 28.2,292.7 30.2,294.5 31.9,296.5 33.7,298.1M67.7,190.2 66.7,191.3 66.0,193.3 64.9,195.0 65.7,197.8 68.5,198.8 70.3,198.0 72.2,197.4 75.0,196.3 77.9,197.3 81.0,197.7 80.5,200.7 80.8,202.5 81.1,204.4 81.4,206.3 81.7,208.2 81.2,210.1 80.5,211.9 80.2,214.5 79.7,216.9 77.9,219.5 78.5,221.3 78.5,223.2 78.2,225.2 78.7,226.9 77.7,229.0 76.4,230.9 75.7,232.7 75.5,234.4 76.5,235.9 77.9,237.2 80.6,235.3 82.5,233.8 84.8,233.0 86.1,230.8 88.4,230.0 90.2,228.5 92.1,227.0 93.7,225.3 96.0,224.5 97.6,223.5 100.7,224.8 103.8,226.2 105.1,228.2 107.1,228.6 110.0,228.2M-0.1,243.7 1.9,244.0 3.7,244.8 3.0,245.8 4.0,247.5 4.9,249.4 5.8,251.3 6.1,253.5 9.2,255.6 10.1,259.0 10.4,260.9 11.2,262.7 12.7,264.3 12.9,266.5 13.5,268.4 13.8,270.3 14.4,272.1 13.9,274.0 14.8,275.8 14.5,277.8 15.5,279.6 15.2,281.5 15.9,283.3 15.9,285.3 16.9,287.0 17.5,288.8 17.9,290.9 19.1,292.7 19.5,295.4 19.3,298.1M8.4,256.1 12.1,254.3 13.5,256.1 11.2,259.9 8.8,259.0 8.4,256.1ZM54.0,204.9 55.2,204.9 55.2,205.9 54.0,205.9 54.0,204.9ZM60.1,269.3 62.4,269.8 63.4,270.2M102.4,249.6 106.6,250.0 105.7,254.3 104.3,252.4 102.4,249.6ZM146.3,248.1 146.0,250.5 146.8,252.7 148.6,255.4 149.5,257.2 151.0,258.6 152.7,259.7 154.5,260.5 155.8,262.2 157.7,263.2 159.6,265.0 161.7,267.7 162.8,269.3 164.2,270.7 164.1,272.6 163.7,274.6 162.5,276.4 160.6,277.1 158.7,277.8 156.7,278.0M162.6,276.3 163.0,278.3 162.2,280.1 161.7,282.0 162.2,283.8 162.2,285.7 161.5,287.6 161.3,289.5 161.5,291.4 161.4,293.6 159.6,295.1 157.7,296.0 155.8,296.8 153.1,296.7 151.3,295.9 150.3,294.0 148.3,294.5 146.5,294.5 144.1,294.6 141.8,294.8 139.9,294.4 138.0,294.9 136.1,294.9 133.8,295.1 131.4,295.0 129.0,294.9 126.7,294.4 124.4,294.6 122.0,294.8 120.1,295.2 118.3,295.8 116.5,296.3 114.4,296.9 112.8,298.2 111.7,299.6 110.4,300.9 109.4,302.4 108.2,304.4 106.7,306.2 105.6,307.9 104.3,309.4 101.1,310.3M162.5,276.2 164.1,277.4 165.0,279.4 166.8,280.9 168.0,282.9 167.9,285.3 169.0,287.6 168.1,289.5 167.6,291.3 168.6,293.4 167.7,295.6 167.2,297.9 168.3,299.7 168.8,301.8 170.7,303.7 170.5,305.9 170.6,308.4 169.5,310.1 169.7,312.1 169.2,313.9 170.3,315.7 170.4,317.6 170.0,319.6 170.5,321.5 169.9,323.3 169.6,325.2 170.4,327.6 171.1,329.9 170.9,332.3 170.9,334.6 169.0,334.9 167.1,334.9 164.8,335.1 162.2,334.3 162.1,336.5 161.7,338.5 159.9,341.5 157.8,342.0 156.0,342.4 153.9,342.9 152.4,344.4 151.5,346.1 150.0,347.7M136.8,320.9 137.8,323.1 138.7,325.4 140.3,326.7 141.6,328.2 143.0,329.7 143.8,332.0 145.4,333.7 147.2,334.8 148.5,336.5 148.6,338.9 148.6,341.2 148.4,343.6 148.9,346.0 150.3,347.7 151.4,349.6 152.2,351.4 152.8,353.3 153.7,355.2 154.3,357.0 153.5,359.1 154.2,360.9 154.1,362.8 154.9,364.5 155.5,366.3 156.2,368.0M152.1,349.7 155.8,350.6 156.8,356.3 155.8,361.0 157.7,368.1M126.3,315.6 129.5,316.0 131.4,316.7 133.2,317.8 134.5,319.7 136.1,321.5 137.5,323.3 138.7,325.4 139.7,327.2 141.2,329.2 138.0,329.8 136.1,328.6 134.2,327.2 132.1,326.0 130.0,324.8 129.2,322.7 127.7,321.4 127.4,319.0 126.0,316.9ZM172.1,344.1 170.4,345.3 169.2,347.0 167.3,349.7 167.3,351.6 167.9,353.5 169.7,356.5 172.5,358.3 173.8,361.0 172.8,363.8 170.9,362.9 169.2,361.5 167.1,361.1 165.2,360.7 163.4,359.7 161.5,360.3 159.4,360.6 157.6,362.7M170.9,303.6 172.8,300.8 171.4,297.0 171.9,295.1M170.0,310.2 174.7,310.2M101.3,249.5 106.0,250.0 105.1,254.7 104.1,251.9 101.3,249.5ZM121.1,251.9 124.3,250.9 122.9,253.7 120.6,254.2 121.1,251.9ZM322.8,481.0 324.4,482.1 325.4,483.7 326.7,485.0 328.7,485.6 329.3,487.7 331.1,488.7 332.8,489.8 333.5,492.2 335.4,490.9 336.6,489.4 337.5,487.4 337.3,485.1 338.0,483.0 338.6,481.2 338.7,479.3 338.9,477.4 340.8,476.1 341.9,474.2M239.9,532.0 240.6,534.4 241.5,536.7 242.7,538.4 244.4,539.5 246.0,540.9 247.2,542.6 248.6,544.2 250.2,545.5 251.5,546.8 252.9,548.0 254.6,548.7 256.8,549.1 258.9,549.0 261.1,548.9 263.1,547.5 265.6,547.9 267.7,547.0 269.5,546.7 271.4,546.8 273.2,546.8 275.0,546.5 276.9,546.6 278.8,547.0 280.9,545.9 283.0,545.3 285.4,545.4 287.6,544.5 288.5,541.1 290.3,540.4 291.9,539.7 293.7,539.6 295.5,538.8 297.4,539.1 299.5,538.6 301.7,538.6 303.4,539.2 304.9,540.3 307.0,540.4 308.6,541.8 310.6,541.8 312.4,542.5 314.1,543.1 316.0,543.3 318.4,542.5 320.3,540.9 322.6,540.5 324.7,539.6 326.7,540.4 328.6,539.9 330.5,539.9 332.4,539.8 334.3,538.5 336.1,536.9 336.3,534.8 337.0,533.0 338.0,531.2 338.0,529.4 337.6,527.6 338.2,525.9 340.0,524.8 341.8,523.4M208.3,490.4 210.5,489.0 212.9,487.7 214.0,490.0 215.6,491.8 216.3,493.9 215.0,495.9 214.2,498.6 212.2,499.3 210.2,499.2 209.0,497.3 207.9,495.0 208.2,492.8 208.4,490.6ZM206.8,478.0 208.5,477.7 208.3,479.7 206.8,479.4 206.8,478.0ZM203.5,510.9 205.0,510.9 205.0,512.0 203.5,512.0 203.5,510.9ZM223.3,510.4 225.2,510.6 225.5,514.2 223.6,513.9 223.3,510.4ZM226.9,519.4 229.3,520.0 229.1,521.1 226.9,520.5 226.9,519.4ZM221.1,551.9 222.5,551.9 222.5,553.2 221.1,553.2 221.1,551.9ZM270.1,515.9 272.1,515.3 273.2,520.3 271.0,521.4 270.1,515.9ZM284.7,548.2 288.6,547.7 289.7,552.1 286.4,553.7 284.7,548.2ZM383.7,405.7 384.5,403.5 386.5,402.2 387.7,400.3 389.0,399.0 390.5,397.9 391.5,396.3 393.6,395.2 394.9,393.1 397.1,392.1 398.1,390.2 400.4,390.3 401.5,388.8 402.5,387.3 403.8,386.0 404.6,384.3 406.9,383.2 408.6,381.3 409.4,378.7 411.9,377.5 413.5,376.5 414.2,374.6 415.0,373.0 416.7,371.4 418.3,369.8 419.7,368.5 421.3,367.3 422.6,364.8 423.8,362.7 424.8,360.4 424.9,357.8 426.0,355.6 426.7,353.2 427.5,351.2 429.1,354.2 428.7,356.1 428.0,358.1 428.5,361.0 428.0,362.8 428.6,364.0 430.3,366.4 429.2,369.7 426.2,371.5 424.5,372.5 422.5,373.3 421.5,375.4 420.6,377.7 418.2,378.3 415.7,378.1 413.0,380.1 412.7,381.8 412.1,383.8 410.5,385.6 409.2,387.5 408.3,389.1 408.1,391.3 406.2,392.1 403.3,394.2 399.8,395.2 398.7,397.3 397.5,399.1 396.4,400.9 394.5,401.6 391.5,403.3 389.4,403.7 387.5,404.8 385.6,406.4 383.7,408.0 383.4,405.7ZM421.0,358.9 421.6,357.0 423.0,355.6 424.1,354.1 425.2,352.7 427.1,354.1 429.2,355.7 428.4,357.9 428.3,360.1 428.8,362.7 425.1,363.8 423.9,362.0 422.3,360.8 421.6,358.9ZM430.6,367.8 433.9,366.2 436.1,367.3 433.4,369.5 430.6,367.8ZM431.2,349.7 432.8,349.7 432.8,351.4 431.2,351.4 431.2,349.7ZM453.7,355.8 455.0,355.8 455.0,356.9 453.7,356.9 453.7,355.8ZM455.0,361.8 456.4,361.8 456.4,362.9 455.0,362.9 455.0,361.8ZM378.0,416.1 380.2,413.9 380.7,418.3 379.1,420.0 378.0,416.1ZM382.4,410.6 385.1,410.1 385.7,412.8 382.9,413.1 382.4,410.6ZM406.5,434.8 407.8,434.8 407.8,436.1 406.5,436.1 406.5,434.8ZM452.5,454.3 454.8,454.0 457.0,453.2 459.1,451.9 461.4,452.6 463.5,453.5 465.8,453.5 467.7,452.4 469.9,452.2 471.9,451.2 471.8,453.4 471.9,455.6 469.8,456.0 467.8,456.3 465.6,456.3 463.6,456.8 461.4,457.1 459.1,457.2 457.0,457.6 455.3,457.0 453.9,455.8 452.5,454.7ZM444.9,449.0 449.3,446.8 451.5,448.5 447.1,451.2 444.9,449.0ZM450.4,462.2 453.7,461.1 454.2,463.3 450.9,463.5 450.4,462.2ZM465.8,441.4 468.0,442.5 471.9,441.4 471.9,444.7 469.0,444.7 465.8,441.4ZM431.9,470.3 433.4,469.0 435.1,468.2 437.1,468.1 438.9,467.6 440.6,466.5 441.6,468.3 442.7,469.9 440.8,470.3 439.0,471.1 437.3,472.3 435.4,472.0 433.6,472.1 431.5,472.3 432.1,469.9ZM424.1,476.5 426.8,475.9 427.1,479.2 424.6,479.5 424.1,476.5ZM431.7,474.3 433.7,474.3 433.7,477.3 431.7,477.3 431.7,474.3ZM341.8,473.2 342.9,477.6 344.0,483.1 346.2,486.3M337.4,476.5 338.5,483.1 338.5,488.1M356.1,486.7 358.3,486.4 360.4,485.5 362.6,485.0 364.9,485.5 367.0,484.6 369.2,484.8 371.4,484.8 373.6,484.8 375.8,485.0 378.0,485.6 380.2,485.5 382.4,484.9 384.5,485.9 386.8,486.2M351.7,489.4 353.8,487.6 355.9,486.8 357.9,485.8 359.8,485.5 361.8,486.1 363.8,486.1 365.7,485.6 367.7,486.1 369.7,485.2 371.7,485.8 373.6,485.5 375.6,485.4 377.6,485.3 379.6,485.5 381.6,485.1 384.6,485.8 387.5,487.6M388.5,487.6 391.4,484.7 395.4,486.6 396.4,490.6 392.4,492.6 389.4,490.6 388.5,487.6ZM381.5,499.1 384.0,498.8 386.5,498.4 388.9,499.6 391.4,500.4 393.3,501.4 395.6,501.9 393.8,503.2 393.0,505.2 391.3,506.1 389.0,505.6 386.5,505.4 385.4,503.8 384.0,502.5 382.2,501.4 381.8,499.3ZM407.7,525.2 410.2,525.7 409.7,528.1 408.0,527.6 407.7,525.2ZM424.5,475.8 426.5,474.8 427.0,478.7 425.0,479.7 424.5,475.8ZM432.0,472.0 433.5,470.4 435.5,469.8 437.1,468.4 438.8,467.4 441.0,468.3 443.0,469.8 440.9,471.9 438.6,472.8 436.2,473.1 433.9,473.6 431.5,474.2 432.3,471.8ZM432.4,476.3 433.7,476.3 433.7,477.5 432.4,477.5 432.4,476.3ZM452.6,455.9 454.7,454.5 456.6,452.9 459.1,453.6 461.6,454.0 464.0,453.4 466.5,452.9 468.5,453.0 470.5,452.7 472.6,452.0 471.9,455.0 470.1,455.3 468.4,456.0 466.5,456.0 464.5,456.2 462.6,456.9 460.6,457.1 458.5,457.2 456.6,457.8 453.5,457.8 452.5,456.1ZM450.7,462.9 452.7,460.9 454.7,460.0M444.3,450.6 445.8,450.1 445.6,451.6 444.3,451.9 444.3,450.6ZM437.8,568.1 438.5,565.8 439.1,563.5 441.1,561.9 442.2,560.2 443.3,557.9 446.2,557.7 448.7,556.4 451.1,556.9 453.4,557.0 455.6,557.6 458.2,557.5 460.6,556.5 463.1,557.0 465.5,556.8 468.0,557.3 470.4,557.9 472.4,558.0 474.4,558.1 476.4,557.7 478.4,558.2 480.3,558.0 482.3,558.0 484.3,557.2 486.3,557.7 488.2,557.6 490.1,557.6 491.9,557.4M462.2,201.2 464.6,200.8 465.4,203.2 463.4,204.0 462.2,201.2ZM459.1,205.9 459.9,205.5 460.3,207.9 459.5,207.9 459.1,205.9ZM459.9,210.2 463.0,209.9 463.8,211.0 460.7,211.4 459.9,210.2ZM470.8,209.9 473.2,208.3 474.0,209.9 471.6,212.2 470.8,209.9ZM472.4,198.1 474.0,198.1 473.6,199.3 472.6,199.3 472.4,198.1ZM470.1,282.7 474.8,282.3 474.8,286.7 473.2,290.2 471.6,289.0 470.1,282.7ZM474.8,285.9 478.7,287.4 481.8,289.0M456.0,292.9 459.1,292.1 462.2,294.5 463.8,296.1 460.7,296.8 457.5,295.3 456.0,292.9ZM438.7,288.1 442.5,290.0 444.4,292.8 447.2,293.7M447.5,295.6 447.7,297.5 448.2,299.3 447.7,301.3 448.4,303.7 448.7,306.2 451.0,306.7 452.8,307.6 455.6,307.2 457.4,308.1 459.4,309.2 461.8,308.0 464.2,307.1 466.7,304.7 468.6,302.9M466.0,288.1 466.9,291.9 468.8,295.6 470.7,297.5 474.4,299.4 478.2,301.3M436.4,304.6 440.6,305.5 443.4,309.3 439.6,308.3 436.4,304.6ZM442.5,312.8 444.4,312.5 446.2,311.7 448.1,311.3 450.0,311.8 451.8,312.3 453.7,312.6 455.7,312.5 457.5,313.6 459.4,314.3 461.0,315.7 462.7,316.8 464.1,318.3 464.8,320.2 464.8,322.0 464.7,323.9 464.4,325.8 464.0,328.1 463.3,330.5 461.9,332.4 460.6,334.5 458.4,335.0 456.7,335.8 455.4,334.0 454.0,332.2 453.2,329.8 451.7,327.6 451.0,325.3 450.9,322.9 450.4,320.4 448.7,318.4 447.2,316.7 445.4,315.2 443.7,314.1 442.8,312.2ZM470.7,311.6 474.4,310.7 476.3,313.5 474.4,316.3 471.2,315.4 470.7,311.6ZM482.4,331.4 485.7,330.4 487.1,333.2 484.8,334.2 482.4,331.4ZM474.5,328.6 476.3,327.6 475.9,329.4 475.6,331.3 475.4,333.2 475.0,335.0 474.7,337.0 474.3,339.0 473.4,340.8 472.3,342.8 474.6,343.3 476.2,344.8 478.2,345.5 480.6,345.4 482.1,347.1 484.0,347.4 485.8,347.9 487.5,349.0 489.5,348.9 491.3,349.6 493.2,349.9 495.1,350.2 496.2,352.0 495.4,353.9 495.2,355.8 493.5,357.9 491.2,359.3 489.6,360.8 487.6,361.4 485.1,363.8 482.8,364.0 481.1,365.5 478.7,366.3 476.5,367.4 474.5,368.5 472.5,370.2 472.9,367.7 472.7,365.5 472.9,363.4 473.0,361.5 472.8,359.6 472.3,357.6 473.7,355.9 473.2,353.9 473.3,352.0 473.6,350.1 474.2,348.3 474.3,346.4 474.3,344.7 471.3,343.8 472.0,341.4 472.2,339.2 472.5,337.0 473.4,335.0 473.7,332.8 474.0,330.7 474.6,328.6ZM493.3,359.2 495.1,359.8 497.0,360.0 498.9,360.3 500.7,360.6 502.3,363.4 501.3,365.5 500.5,367.9 500.0,369.7 499.2,371.3 497.9,372.7 496.8,375.0 496.4,377.5 495.7,379.8 494.8,382.1 495.3,384.5 495.9,386.9 497.4,389.0 498.5,391.6 496.2,393.2 495.3,395.7 493.3,395.5 491.6,395.0 489.6,393.7 488.3,391.8 485.9,389.5 483.5,388.2 481.9,385.9 480.3,383.8 481.4,381.3 482.5,379.8 483.8,378.3 486.2,378.0 488.4,377.3 489.2,375.1 489.5,372.7 489.1,370.4 488.5,368.0 488.2,365.7 487.6,363.3 490.3,361.3 493.4,359.8ZM509.9,354.3 512.3,355.9 512.7,357.7 512.1,359.6 511.7,361.4 511.9,363.4 510.8,365.5 510.4,367.9 509.2,369.9 508.6,371.6 507.2,373.0 506.2,374.5 505.2,376.0 504.8,377.9 503.8,379.5 502.3,381.3 501.1,383.3 500.0,385.5 498.9,388.1 495.9,386.0 495.6,383.4 497.1,381.2 497.6,379.5 499.1,378.2 499.6,376.3 500.9,374.4 502.4,372.6 503.8,371.3 504.9,369.8 505.4,368.0 506.7,366.3 507.7,364.4 508.4,362.4 507.9,360.1 509.1,358.1 509.3,356.0 510.2,353.9ZM508.4,378.7 510.0,377.2 512.2,376.7 514.0,375.7 516.3,375.3 518.5,375.0 522.1,376.1 520.9,378.3 520.9,380.3 520.9,382.4 519.1,383.3 517.2,383.7 515.8,384.8 514.0,385.7 512.0,385.2 510.2,385.7 506.5,384.6 507.1,382.0 507.4,380.2 508.5,378.4ZM517.8,329.8 519.6,329.0 521.5,329.1 523.3,328.4 525.5,328.2 527.7,327.7 530.0,327.2 531.7,328.2 533.0,329.7 534.6,330.5 535.3,332.6 535.8,334.8 536.8,336.8 538.2,337.9 540.0,338.8 539.5,340.8 539.6,342.6 540.5,344.5 540.0,346.4 541.0,348.3 539.5,350.2 540.2,352.0 540.3,353.9 540.0,355.9 538.2,354.9 536.3,354.9 534.7,353.9 532.8,352.6 530.9,351.4 529.8,349.5 527.7,349.0 525.5,349.0 523.2,348.6 521.3,346.5 519.5,344.6 518.8,342.1 517.2,339.9 517.7,337.8 517.3,335.7 517.8,333.6 517.9,331.5 517.6,329.5ZM519.6,348.4 521.5,348.6 523.3,348.6 525.2,348.4 527.3,349.0 527.3,351.4 528.5,352.8 530.0,353.9 530.3,355.8 530.3,357.7 530.2,359.6 531.0,361.4 531.8,363.6 531.9,365.9 532.7,368.1 533.7,370.1 534.0,372.4 534.2,374.7 535.1,376.5 535.8,378.6 534.2,377.1 532.5,376.5 530.8,375.6 530.2,373.8 528.8,372.5 527.7,371.0 526.5,369.3 526.0,367.2 524.4,365.5 524.6,363.3 524.2,361.4 523.7,359.3 521.6,357.6 519.5,355.9 519.3,353.9 518.9,352.0 518.8,350.1 519.3,348.2ZM498.0,329.4 500.9,330.3 502.4,331.4 503.7,332.7 504.9,334.1 506.6,335.0 508.5,336.8 510.3,338.8 510.8,340.9 511.9,342.7 513.0,344.4 510.1,343.9 508.4,342.2 506.6,340.8 504.4,340.0 502.9,338.6 500.8,338.0 499.9,336.5 498.6,337.8 497.8,339.7 497.0,341.9 496.1,339.9 496.3,338.0 497.0,336.0 497.4,334.1 497.0,331.8 498.3,329.5ZM469.0,303.4 470.8,301.8 472.7,300.5 474.3,299.1 476.2,298.1 478.3,297.8 480.1,296.7 482.0,296.1 483.9,296.0 485.7,295.7 487.6,296.3 489.4,297.1 491.5,297.3 492.6,299.5 494.6,301.1 494.5,303.6 495.2,305.8 496.7,304.2 498.1,302.6 500.3,302.6 502.6,303.4 504.6,303.1 506.4,304.0 508.1,304.4 510.3,304.9 511.3,306.9 510.1,309.6 508.3,309.5 506.4,309.2 504.3,308.5 502.6,311.6 504.8,313.3 506.5,315.2 508.5,316.5 510.3,318.0 512.2,318.9 513.6,320.3 514.2,322.0 514.7,323.8 513.6,325.5 513.0,327.9 510.0,325.9 508.8,324.3 507.2,323.2 505.0,322.4 502.7,321.9 500.6,320.8 499.1,318.9 496.8,317.5 495.0,315.5 493.8,313.8 493.0,312.0 491.3,310.8 489.7,308.5 487.8,306.8 485.6,304.2 483.8,303.1 482.9,304.1 483.7,307.0 484.6,308.8 485.4,310.6 485.4,312.6 486.0,314.9 486.6,317.2 483.7,318.6 482.9,316.3 481.5,314.6 481.3,312.0 479.5,310.2 478.2,308.4 476.1,307.2 474.3,306.2 472.4,305.3 470.7,304.0 468.7,303.3M514.1,302.4 515.8,300.0 517.9,302.1 518.2,304.6 518.9,306.9 517.6,308.8 516.7,310.3 513.4,310.3 513.4,307.9 513.5,306.0 513.2,304.0 513.9,302.2ZM492.3,319.1 495.1,318.4 496.5,320.0 497.7,321.9 498.8,323.9 501.0,326.8 498.1,325.4 496.3,324.0 494.1,323.0 493.1,321.1 491.9,319.3ZM504.5,327.6 506.4,328.5 507.4,333.2 505.5,334.2 504.1,331.4 504.5,327.6ZM507.4,315.4 515.8,317.3M454.2,300.8 455.6,300.8 455.6,302.2 454.2,302.2 454.2,300.8ZM467.4,322.4 468.6,322.4 468.6,323.6 467.4,323.6 467.4,322.4ZM474.3,322.0 475.6,322.0 475.6,325.7 474.3,325.7 474.3,322.0ZM461.3,337.0 464.1,337.9 466.0,342.2 463.6,342.6 461.3,337.0ZM453.3,355.3 454.5,355.3 454.5,356.6 453.3,356.6 453.3,355.3ZM454.9,361.6 456.2,361.6 456.2,363.0 454.9,363.0 454.9,361.6ZM431.2,349.2 433.1,349.2 433.3,351.1 431.4,351.1 431.2,349.2ZM502.2,392.0 505.0,391.5 505.7,394.8 502.7,395.1 502.2,392.0ZM522.4,392.5 524.8,392.3 525.2,395.3 522.9,395.3 522.4,392.5ZM478.0,328.4 480.1,328.4 480.1,330.4 478.0,330.4 478.0,328.4ZM434.0,334.9 436.0,335.0 437.8,334.1 439.6,335.5 440.8,337.4 442.4,338.9 441.4,340.6 441.8,342.8 440.4,344.4 438.6,344.7 436.8,345.8 435.1,346.2 434.3,344.6 435.0,342.6 434.8,340.7 434.4,338.9 434.3,337.0 433.3,335.2ZM431.2,366.2 435.4,366.6 435.9,369.0 431.7,369.0 431.2,366.2ZM419.9,371.8 422.7,372.7 425.5,370.9 428.4,369.0M493.3,408.1 497.0,405.7 500.8,402.8 504.5,403.8 508.3,405.7 510.2,408.1M517.5,407.9 519.0,406.7 519.5,404.6 521.2,403.5 523.5,402.6 525.4,401.2 526.7,399.0 528.9,398.0 530.8,397.0 532.8,396.3 534.5,397.1 536.4,396.2 539.8,396.0M537.5,382.1 538.4,386.8 539.9,389.7M456.6,293.7 460.3,292.3 463.2,294.7 461.3,297.5 457.5,297.5 456.6,293.7ZM473.4,435.6 472.7,433.2 472.7,430.8 473.4,428.7 474.2,426.5 475.0,424.4 475.9,422.4 476.3,420.4 475.8,418.0 478.0,416.5 480.2,415.3 482.1,414.5 484.2,414.2 486.4,414.3 488.4,413.4 490.6,412.9 492.2,411.5 493.1,410.1 493.4,408.2 494.2,406.5 496.2,405.2 498.2,404.0 500.5,403.8 502.8,403.8 505.3,403.9 507.0,405.4 508.5,407.2 509.1,409.6 508.8,411.9 507.7,413.4 507.1,414.8 508.8,414.5 511.0,414.3 513.0,413.6 514.2,412.0 515.6,410.6 516.5,408.8 517.5,407.1 519.2,405.6 520.6,403.9 522.1,402.3 523.7,400.7 525.3,399.2 527.0,397.7 529.1,396.7 531.2,395.6 533.6,395.1 535.0,393.7 536.5,392.6 537.8,391.3 539.4,389.8 541.1,388.4 540.2,386.5 540.0,384.3 540.0,382.4 542.8,380.7 544.6,382.0 545.8,383.8 547.8,386.7 549.1,388.4 550.3,390.3 551.8,392.0 552.7,394.2 553.9,396.2 553.8,398.3 553.7,400.3 554.7,402.1 554.4,404.1 554.6,406.1 554.6,408.1 555.3,410.0 556.0,411.9 555.9,413.9 555.3,415.9 556.2,417.8 556.4,419.7 556.8,421.5 558.0,422.9 558.9,424.6 559.8,426.1 559.3,428.5 558.2,430.6 557.0,432.1 556.7,434.1 555.6,435.7 553.7,437.0 551.9,438.4 551.5,441.0 550.4,443.3 551.1,445.7 551.9,448.0 551.4,446.0 550.4,444.2 550.0,442.0 548.8,440.2 548.8,438.0 548.0,436.0 547.8,433.7 546.1,432.1 544.3,430.7 541.4,432.6 540.4,434.7 540.5,437.3 538.4,439.2 537.9,441.7 539.2,443.2 540.5,444.6 541.4,446.3 542.2,448.4 542.4,450.6 543.2,452.7 542.7,454.9 542.1,457.0 540.8,458.8 540.2,460.5 539.1,462.1 538.1,463.4 536.8,461.8 535.3,460.3 534.0,458.2 533.2,456.6 530.2,457.2 528.0,456.2 525.6,455.6 523.1,455.4 521.0,453.9 519.5,452.9 517.8,452.0 516.3,450.9 515.4,449.4 514.0,448.0 513.1,446.4 512.2,444.4 512.2,442.2 511.2,440.2 511.4,438.1 510.2,436.0 511.1,433.8 512.6,432.4 513.6,430.8 514.4,429.2 513.4,427.7 512.8,425.9 511.4,424.5 509.2,423.7 507.4,422.1 505.3,421.0 503.1,421.5 501.0,421.2 498.9,421.4 496.9,422.1 494.7,422.2 492.6,422.9 490.9,423.8 489.6,425.1 488.0,425.9 484.8,424.8 483.5,426.3 481.3,427.4 481.3,429.8 480.5,431.8 480.2,434.0 477.0,435.6 473.8,435.9ZM525.5,369.4 527.7,369.4 529.7,368.5 531.8,368.1 533.0,370.1 534.2,372.1 535.3,374.3 534.4,376.8 533.6,379.6 530.9,378.6 528.5,377.7 527.8,375.6 526.7,373.7 525.7,371.9 525.1,369.8ZM538.1,368.1 539.6,374.4 541.2,380.6 542.8,383.8M545.9,379.1 550.6,377.5 552.2,383.8 547.5,385.3 545.9,379.1ZM470.7,441.7 477.0,440.2 480.1,443.3 475.4,446.4 470.7,444.9 470.7,441.7ZM451.9,462.1 458.2,457.4 464.4,455.0 469.1,453.5 472.3,451.9M502.3,392.4 505.2,392.4 505.2,395.0 502.3,395.0 502.3,392.4ZM515.3,417.4 517.4,417.4 517.4,419.8 515.3,419.8 515.3,417.4ZM524.9,440.9 526.5,440.9 526.5,442.5 524.9,442.5 524.9,440.9ZM536.5,464.3 538.4,464.3 538.4,466.2 536.5,466.2 536.5,464.3ZM561.4,483.7 564.8,481.9 564.7,484.4 565.5,486.3 565.0,488.4 565.8,490.3 564.8,492.4 564.1,494.5 563.1,496.5 562.2,494.8 560.2,493.6 560.4,491.5 560.7,489.6 561.6,487.8 561.8,485.9 561.3,484.0ZM538.1,498.1 540.4,497.3 542.4,502.8 539.6,504.4 538.1,498.1ZM536.7,514.7 538.1,514.7 538.1,516.1 536.7,516.1 536.7,514.7ZM536.7,522.6 538.1,522.6 538.1,524.0 536.7,524.0 536.7,522.6ZM535.9,527.3 537.3,527.3 537.3,528.7 535.9,528.7 535.9,527.3ZM554.7,541.4 556.1,541.4 556.1,542.8 554.7,542.8 554.7,541.4ZM520.8,538.9 525.5,535.7 527.1,538.9 522.4,542.0 520.8,538.9ZM164.1,510.3 167.2,509.8 167.7,513.3 165.3,514.3 164.1,510.3ZM173.9,503.9 177.1,503.7 177.3,508.8 175.1,509.3 173.9,503.9ZM174.1,514.8 175.6,514.8 175.6,516.3 174.1,516.3 174.1,514.8ZM203.8,510.8 205.0,510.8 205.0,512.0 203.8,512.0 203.8,510.8ZM223.5,510.6 225.5,510.6 225.7,514.3 223.7,514.0 223.5,510.6ZM226.5,519.5 229.5,519.7 229.3,521.2 226.7,520.9 226.5,519.5ZM197.4,547.9 200.8,547.4 201.0,549.2 197.7,549.4 197.4,547.9ZM169.0,509.8 170.2,509.8 170.2,511.0 169.0,511.0 169.0,509.8ZM134.8,513.6 137.8,513.6 137.8,516.9 134.8,516.9 134.8,513.6ZM134.4,524.2 135.8,524.2 135.8,525.2 134.4,525.2 134.4,524.2ZM126.8,546.7 129.3,545.8 131.7,544.6 133.5,545.6 135.6,546.4 136.2,549.0 138.0,551.3 136.5,553.8 135.4,556.0 134.2,555.0 132.2,554.4 130.5,553.6 128.7,552.8 125.7,553.1 125.7,550.3 126.4,548.4 126.5,546.4ZM139.6,543.2 142.0,544.0 144.4,544.5 145.6,546.8 146.4,549.4 145.7,551.3 145.6,553.4 143.5,552.8 141.7,552.1 141.1,550.2 140.1,548.4 140.0,545.9 139.7,543.4ZM119.8,547.4 123.8,546.4 124.7,551.3 121.8,554.3 118.8,552.3 119.8,547.4ZM111.9,547.4 114.9,548.4 117.8,553.3 114.9,556.3 111.9,555.3 111.9,547.4ZM135.6,559.2 139.6,560.2 141.5,564.2 138.6,566.2 136.1,564.2 135.6,559.2ZM112.0,534.3 113.9,535.4 115.7,536.7 118.1,537.1 119.6,538.7 121.0,540.3 122.7,541.7 125.2,540.9 127.7,540.5 130.2,539.9 132.7,539.0 135.6,540.5M121.8,543.4 125.7,545.4 127.7,547.4M147.5,547.4 148.7,547.4 148.7,548.6 147.5,548.6 147.5,547.4ZM141.5,562.2 144.5,565.2 145.5,567.1M221.1,551.8 222.4,551.8 222.4,553.1 221.1,553.1 221.1,551.8ZM193.4,564.0 194.4,564.0 194.4,565.0 193.4,565.0 193.4,564.0ZM351.9,2.3 356.3,3.4 360.7,2.3 365.1,1.2 369.5,0.1M359.4,6.5 361.0,5.3 362.9,4.3 363.3,6.3 364.0,8.1 364.3,10.0 363.1,12.3 362.1,14.2 364.0,15.0 366.2,15.3 369.5,14.0 370.9,15.8 373.2,16.4 371.9,18.4 371.3,20.2 370.7,22.2 367.3,23.0 365.8,21.9 365.1,20.2 363.5,19.1 362.7,17.4 361.9,15.8 360.6,14.4 359.3,12.9 358.5,11.1 359.4,9.0 359.5,6.7ZM361.8,26.4 365.1,25.3 368.4,27.5 366.2,29.7 362.9,29.7 361.8,26.4ZM411.1,10.5 414.4,7.8 417.7,5.6 419.9,4.5M413.3,5.6 417.7,8.9 420.5,8.3M425.4,120.2 427.6,120.2 427.6,122.4 425.4,122.4 425.4,120.2ZM283.7,19.5 288.2,20.2 294.1,22.4 300.1,21.7 301.6,19.5M292.6,14.2 294.9,13.5 295.6,15.7 293.4,16.2 292.6,14.2ZM300.1,10.5 302.3,12.0 303.8,15.0M299.5,24.2 301.0,24.2 301.0,25.7 299.5,25.7 299.5,24.2ZM307.5,1.6 310.5,0.8 312.0,3.8 309.0,4.6 307.5,1.6ZM320.9,0.8 323.9,1.6 326.9,0.8M347.8,0.5 349.7,1.3 351.8,1.5 353.7,2.1 355.7,2.7 357.7,3.4 359.7,4.0 361.6,3.0 363.5,2.0 365.6,1.2 367.5,1.7 369.3,2.1 371.2,2.4 373.0,1.7 375.2,1.4 377.6,1.1 379.9,0.8M32.7,538.1 33.4,539.9 34.7,542.0 35.5,544.2 36.4,546.3 36.9,548.9 38.6,550.9 38.8,553.3 39.0,555.6 40.2,557.7 40.8,559.9 42.0,561.5 42.8,563.4 45.1,563.7 47.3,564.5 48.6,566.2 49.6,568.1M2.2,541.0 4.4,540.1 6.7,539.5 9.1,540.5 11.1,542.1 12.8,543.3 14.0,545.2 15.5,546.7 16.6,548.2 17.1,549.9 16.6,551.7 16.6,553.7 15.6,555.4 13.4,556.7 12.3,555.0 11.3,553.2 9.8,551.5 8.6,549.7 7.8,547.7 6.9,545.9 5.6,544.6 4.5,543.1 2.4,540.6ZM29.3,563.4 33.8,563.7 34.9,565.1 30.4,565.7 29.3,563.4ZM27.0,535.8 31.0,535.2 33.8,536.9 31.5,538.4 27.6,537.7 27.0,535.8ZM82.7,529.4 83.1,531.3 84.4,532.8 84.8,534.7 85.7,536.3 89.0,537.1 91.3,537.8 93.7,538.4 96.9,539.9 99.5,539.5 101.4,541.1 103.4,542.7 102.4,543.8 101.4,545.2 99.0,547.5 100.2,549.4 101.7,550.7 103.9,551.1 106.0,552.3 108.3,552.6 110.6,553.2 112.2,554.5 114.1,555.4 116.1,557.9 118.0,558.7 119.7,559.8 121.1,561.4 123.0,562.3 124.5,563.6 126.3,564.6 127.6,566.3 128.5,568.1M94.7,538.0 101.5,537.7 104.3,540.8 101.5,542.0 97.0,540.3 94.7,538.0ZM104.8,545.9 106.7,545.9 108.7,545.9 110.5,545.7 111.8,546.8 113.5,547.7 115.3,548.5 116.5,550.9 117.0,553.2 115.6,554.4 113.9,555.2 111.9,555.2 110.9,553.3 109.2,552.5 107.9,550.8 105.8,550.0 104.6,546.6ZM108.3,562.3 116.2,557.8M120.2,547.6 123.0,546.5 124.1,553.3 121.8,555.5 119.6,552.1 120.2,547.6ZM127.4,547.1 129.4,546.6 131.3,545.8 133.4,545.8 135.4,545.2 137.4,545.2 139.3,544.6 141.3,544.7 143.1,544.6 144.4,546.5 146.0,548.8 144.1,550.4 142.5,551.7 141.1,553.3 139.3,554.3 137.6,555.6 135.4,555.8 133.5,554.7 131.5,554.3 129.9,553.1 128.6,551.5 127.9,549.6 127.6,547.6ZM137.7,562.3 141.0,564.6 145.6,568.1M85.7,544.8 87.1,544.8 87.1,546.2 85.7,546.2 85.7,544.8ZM98.7,553.8 100.1,553.8 100.1,555.0 98.7,555.0 98.7,553.8ZM121.7,538.1 123.0,540.8 127.5,540.8 132.0,539.7 135.4,538.6 137.9,540.8M-0.1,525.0 3.3,526.2 5.5,527.9M342.2,523.3 340.3,522.6 339.4,520.9 338.2,519.6 339.6,518.0 340.7,516.0 341.9,514.1 343.2,512.7 344.1,511.1 345.3,509.6 344.6,507.4 346.1,505.7 346.9,503.8 347.3,501.7 348.0,499.8 348.7,498.2 349.1,496.3 350.5,495.0 350.9,493.1 352.2,491.8 353.2,490.2M231.1,566.3 229.1,564.5 227.9,562.1 227.5,559.6 226.0,557.6 225.4,555.8 225.6,553.9 225.4,552.1 224.5,550.1 225.9,548.4 226.2,546.6 226.6,544.4 226.5,542.2 227.3,540.0 228.5,537.9 229.4,536.2 230.4,534.5 232.2,533.0 233.6,531.1 237.0,530.6 239.4,529.3 239.6,532.4 241.2,534.8 243.7,535.1 245.9,535.6 248.0,535.7 250.1,535.3 252.3,535.2 254.6,535.0 256.9,535.9 258.9,537.3 261.1,537.9 263.3,537.7 266.5,537.0 267.3,535.4 268.1,533.5 268.5,531.3 268.4,528.9 269.5,526.9 270.3,524.7 270.4,522.4 270.7,520.2 272.3,517.1 274.4,516.0 276.4,514.4 278.8,514.5 280.9,513.9 283.1,513.3 285.4,513.6 287.5,512.7 289.6,511.6 291.5,511.7 293.1,510.4 295.1,510.7 296.9,510.1 298.7,509.4 300.7,509.5 302.3,508.4 303.7,507.3 305.3,506.3 306.5,504.8 307.0,502.9 308.4,501.7 309.7,500.4 310.2,498.4 311.6,497.2 313.2,495.9 314.3,494.1 316.3,493.1 316.7,491.1 318.5,490.2 318.9,488.2 319.9,486.6 320.9,484.8 321.3,482.8 322.5,481.1 324.8,481.3 326.8,480.3 329.0,479.4 331.3,478.4 333.6,477.2 335.8,476.0 337.5,474.9 338.8,473.3 341.7,471.7 343.0,470.3 344.9,469.3 346.4,467.9 347.5,466.2 348.7,464.7 350.2,463.5 351.9,462.5 353.2,460.5 355.2,459.1 357.3,458.0 358.7,456.1 359.7,453.9 361.6,452.4 362.8,450.4 364.7,448.9 365.6,446.6 367.6,445.2 368.5,442.9 370.3,441.5 372.4,441.4 374.1,442.3 374.6,440.1 375.5,438.1 375.5,434.9 378.0,432.8 381.3,433.6 384.1,435.4 384.4,438.1 385.7,440.2 387.3,442.0 389.0,443.6 390.4,445.0 391.6,446.7 390.9,448.7 391.4,450.5 391.0,452.4 392.3,454.0 393.3,456.0 395.6,455.0 397.8,453.7 398.9,455.9 400.1,457.5 402.1,458.1 404.3,458.5 406.5,459.0 408.1,460.0 409.9,461.0 411.7,461.9 413.1,463.3 415.4,463.3 417.5,463.9 419.5,464.7 421.2,465.9 422.1,467.7 422.4,469.8 421.1,471.3 419.1,472.1 417.1,472.4 415.3,473.5 413.1,473.1 410.9,473.0 408.7,473.0 406.4,472.8 404.8,474.1 402.9,474.7 400.7,475.2 401.8,477.5 401.9,480.0 404.2,480.9 406.6,481.1 408.9,481.6 411.5,483.6 408.7,484.8 406.6,486.0 404.4,486.8 402.1,486.3 399.9,486.0 397.8,486.2 395.5,485.9 393.3,485.4 391.2,485.0 390.0,486.4 388.6,488.2 390.3,489.4 392.1,490.2 393.4,491.6 392.5,494.5 394.0,496.6 393.4,498.5 391.4,499.0 389.4,499.1 387.0,499.4 384.5,499.8 382.5,499.5 380.9,499.3 383.1,500.2 385.5,501.3 387.5,502.5 389.1,503.5 387.8,505.3 386.1,507.4 388.7,509.1 389.8,511.0 391.3,512.4 392.1,514.4 393.2,516.4 395.7,519.0 396.7,520.9 398.2,522.3 399.9,524.6 397.3,526.1 394.2,526.9 393.0,529.2 395.1,532.3 397.2,535.1 399.2,536.7 401.3,538.0 403.3,538.9 405.4,539.7 408.1,541.1 411.0,543.2 413.7,543.7 415.4,545.6 417.3,547.9 415.0,549.6 413.2,550.2 411.2,550.8 409.2,550.9 407.2,551.0 405.3,550.7 403.2,551.5 401.3,550.4 399.2,549.9 396.8,547.3 396.6,545.9 397.4,547.9 398.0,549.7 396.4,550.9 394.5,552.0 393.1,553.5 391.4,554.8 390.4,557.3 389.7,559.8 389.5,561.9 388.7,563.9 388.5,566.0 388.3,568.1M433.1,568.2 432.6,565.9 433.2,563.8 434.3,561.8 434.9,559.3 435.4,556.6 436.8,554.8 437.8,552.8 438.5,550.5 440.9,549.9 442.8,547.1 444.6,550.1 446.7,550.7 448.2,548.8 449.9,547.0 450.8,545.0 451.6,542.9 453.7,542.1 456.2,542.3 458.6,542.9 460.6,542.6 462.4,543.1 464.3,546.2 466.6,546.2 468.5,546.3 471.0,546.7 473.5,546.6 475.9,547.2 478.4,547.8 480.9,548.1 483.3,548.9 485.7,549.8 488.2,549.7 490.0,549.1 491.9,549.0 493.5,549.7 495.3,550.0 497.3,549.7 498.9,550.7 500.9,550.8 502.8,550.2 504.7,549.7 506.8,550.0 508.7,549.6 510.6,548.6 512.7,548.9 514.7,548.5 516.1,546.6 518.0,545.4 519.4,543.6 520.5,540.2 522.4,539.4 523.4,537.5 525.4,537.1 526.9,536.0 528.4,534.8 530.2,534.4 531.6,535.9 533.1,537.3 532.2,539.5 531.4,541.8 530.5,543.8 528.6,545.0 526.9,546.5 525.8,548.6 524.0,549.9 522.3,551.3 521.6,553.1 520.0,554.3 519.7,556.4 517.4,557.4 516.3,559.6 514.1,559.9 511.9,560.2 509.9,561.0 507.8,561.0 505.7,560.5 503.5,561.2 501.4,560.5 499.4,560.0 497.3,559.2 495.5,558.6 493.7,558.1 491.7,558.2M446.6,217.8 448.7,216.1 451.2,215.4 453.3,216.1 455.4,215.7 457.6,215.3 459.5,216.6 461.5,217.6 463.9,217.6 465.3,219.7 467.6,221.8 469.6,222.1 471.6,221.9 474.7,220.8 475.8,219.0 476.3,217.0 478.7,218.4 480.1,221.6 479.2,223.3 478.0,224.8 477.4,228.0 476.5,229.8 476.0,231.8 477.1,233.6 477.9,235.3 478.1,237.2 479.7,238.6 481.2,240.3 482.7,242.7 483.7,245.9 482.6,247.9 481.5,249.6 480.8,251.9 479.7,253.9 478.2,255.6 476.7,257.5 475.4,260.6 473.3,262.0 470.0,262.3 466.7,263.6 465.4,266.3 466.4,269.5 464.4,272.5 462.9,275.6 462.6,278.0 463.5,280.5 464.3,283.6 466.2,286.6 466.5,289.1 467.6,292.2 468.9,295.1 470.1,298.1M448.2,298.2 449.2,295.6 451.0,294.6 453.1,294.0 454.4,291.4 453.2,289.3 451.2,287.5 448.9,286.7 447.5,288.1 446.9,289.4 447.2,291.3 445.7,294.2 443.3,293.0 441.8,289.8 439.7,287.3 438.0,285.8 437.1,282.8 436.9,280.4 436.2,278.1 435.5,276.1 434.5,274.2 434.6,271.7 434.3,269.4 433.4,267.5 432.7,265.8 431.4,264.8 431.3,262.4 431.5,260.0 432.4,258.0 434.1,257.4 436.3,260.0 438.6,262.7 441.8,262.2 443.1,260.7 442.7,257.6 442.3,254.5 442.5,251.4 442.4,249.3 443.5,247.5 443.8,245.5 443.4,243.6 443.5,241.5 444.4,239.6 442.8,236.5 443.0,233.2 444.5,231.5 445.2,229.5 445.3,227.5 446.2,225.6 446.5,223.6 446.5,221.6 446.7,219.7 445.6,217.8"/></g>
<g id="grid" stroke="#000" stroke-width="1.5" stroke-dasharray="0 3" stroke-linecap="round" fill="none">
<line x1="141.93" y1="0" x2="141.93" y2="567.3"/>
<line x1="283.85" y1="0" x2="283.85" y2="567.3"/>
<line x1="425.78" y1="0" x2="425.78" y2="567.3"/>
<line x1="0" y1="425.47" x2="567.7" y2="425.47"/>
<line x1="0" y1="283.65" x2="567.7" y2="283.65"/>
<line x1="0" y1="141.82" x2="567.7" y2="141.82"/>
</g>
<g id="axes">
<g stroke="#000" stroke-width="0.8">
<line x1="0.00" y1="567.3" x2="0.00" y2="570.3"/>
<line x1="-3" y1="567.30" x2="0" y2="567.30"/>
<line x1="18.92" y1="567.3" x2="18.92" y2="570.3"/>
<line x1="-3" y1="548.39" x2="0" y2="548.39"/>
<line x1="37.85" y1="567.3" x2="37.85" y2="570.3"/>
<line x1="-3" y1="529.48" x2="0" y2="529.48"/>
<line x1="56.77" y1="567.3" x2="56.77" y2="570.3"/>
<line x1="-3" y1="510.57" x2="0" y2="510.57"/>
<line x1="75.69" y1="567.3" x2="75.69" y2="570.3"/>
<line x1="-3" y1="491.66" x2="0" y2="491.66"/>
<line x1="94.62" y1="567.3" x2="94.62" y2="570.3"/>
<line x1="-3" y1="472.75" x2="0" y2="472.75"/>
<line x1="113.54" y1="567.3" x2="113.54" y2="570.3"/>
<line x1="-3" y1="453.84" x2="0" y2="453.84"/>
<line x1="132.46" y1="567.3" x2="132.46" y2="570.3"/>
<line x1="-3" y1="434.93" x2="0" y2="434.93"/>
<line x1="151.39" y1="567.3" x2="151.39" y2="570.3"/>
<line x1="-3" y1="416.02" x2="0" y2="416.02"/>
<line x1="170.31" y1="567.3" x2="170.31" y2="570.3"/>
<line x1="-3" y1="397.11" x2="0" y2="397.11"/>
<line x1="189.23" y1="567.3" x2="189.23" y2="570.3"/>
<line x1="-3" y1="378.20" x2="0" y2="378.20"/>
<line x1="208.16" y1="567.3" x2="208.16" y2="570.3"/>
<line x1="-3" y1="359.29" x2="0" y2="359.29"/>
<line x1="227.08" y1="567.3" x2="227.08" y2="570.3"/>
<line x1="-3" y1="340.38" x2="0" y2="340.38"/>
<line x1="246.00" y1="567.3" x2="246.00" y2="570.3"/>
<line x1="-3" y1="321.47" x2="0" y2="321.47"/>
<line x1="264.93" y1="567.3" x2="264.93" y2="570.3"/>
<line x1="-3" y1="302.56" x2="0" y2="302.56"/>
<line x1="283.85" y1="567.3" x2="283.85" y2="570.3"/>
<line x1="-3" y1="283.65" x2="0" y2="283.65"/>
<line x1="302.77" y1="567.3" x2="302.77" y2="570.3"/>
<line x1="-3" y1="264.74" x2="0" y2="264.74"/>
<line x1="321.70" y1="567.3" x2="321.70" y2="570.3"/>
<line x1="-3" y1="245.83" x2="0" y2="245.83"/>
<line x1="340.62" y1="567.3" x2="340.62" y2="570.3"/>
<line x1="-3" y1="226.92" x2="0" y2="226.92"/>
<line x1="359.54" y1="567.3" x2="359.54" y2="570.3"/>
<line x1="-3" y1="208.01" x2="0" y2="208.01"/>
<line x1="378.47" y1="567.3" x2="378.47" y2="570.3"/>
<line x1="-3" y1="189.10" x2="0" y2="189.10"/>
<line x1="397.39" y1="567.3" x2="397.39" y2="570.3"/>
<line x1="-3" y1="170.19" x2="0" y2="170.19"/>
<line x1="416.31" y1="567.3" x2="416.31" y2="570.3"/>
<line x1="-3" y1="151.28" x2="0" y2="151.28"/>
<line x1="435.24" y1="567.3" x2="435.24" y2="570.3"/>
<line x1="-3" y1="132.37" x2="0" y2="132.37"/>
<line x1="454.16" y1="567.3" x2="454.16" y2="570.3"/>
<line x1="-3" y1="113.46" x2="0" y2="113.46"/>
<line x1="473.08" y1="567.3" x2="473.08" y2="570.3"/>
<line x1="-3" y1="94.55" x2="0" y2="94.55"/>
<line x1="492.01" y1="567.3" x2="492.01" y2="570.3"/>
<line x1="-3" y1="75.64" x2="0" y2="75.64"/>
<line x1="510.93" y1="567.3" x2="510.93" y2="570.3"/>
<line x1="-3" y1="56.73" x2="0" y2="56.73"/>
<line x1="529.85" y1="567.3" x2="529.85" y2="570.3"/>
<line x1="-3" y1="37.82" x2="0" y2="37.82"/>
<line x1="548.78" y1="567.3" x2="548.78" y2="570.3"/>
<line x1="-3" y1="18.91" x2="0" y2="18.91"/>
<line x1="567.70" y1="567.3" x2="567.70" y2="570.3"/>
<line x1="-3" y1="0.00" x2="0" y2="0.00"/>
</g>
<rect x="0" y="0" width="567.7" height="567.3" fill="none" stroke="#000" stroke-width="1.6"/>
<g font-size="15" fill="#000">
<text transform="translate(-6.4,3.90) scale(0.95,1)" text-anchor="end">30°N</text>
<text transform="translate(-6.4,145.72) scale(0.95,1)" text-anchor="end">22.5°N</text>
<text transform="translate(-6.4,287.55) scale(0.95,1)" text-anchor="end">15°N</text>
<text transform="translate(-6.4,429.37) scale(0.95,1)" text-anchor="end">7.5°N</text>
<text transform="translate(-6.4,571.20) scale(0.95,1)" text-anchor="end">0°</text>
<text x="0.00" y="583.6" text-anchor="middle">97°E</text>
<text x="141.93" y="583.6" text-anchor="middle">104.5°E</text>
<text x="283.85" y="583.6" text-anchor="middle">112°E</text>
<text x="425.78" y="583.6" text-anchor="middle">119.5°E</text>
<text x="567.70" y="583.6" text-anchor="middle">127°E</text>
</g></g>
</defs>
<g transform="translate(48.1,31.9)">
<g clip-path="url(#clp)">
<defs><clipPath id="hA"><path d="M446.9,53.0 443.9,50.7 439.5,55.2 436.5,58.9 432.0,61.2 429.0,65.6 427.5,70.1 429.0,74.6 426.8,80.5 423.1,83.5 420.1,89.4 415.6,92.4 411.2,96.9 406.7,101.4 402.2,104.3 397.8,105.8 394.0,110.3 388.8,114.8 384.4,119.2 379.9,123.4 379.9,120.2 376.1,122.8 374.1,125.5 371.4,128.2 370.0,132.9 367.4,133.6 365.4,132.9 362.7,134.9 359.3,136.3 356.6,136.9 354.6,135.6 351.3,136.3 350.6,138.3 348.6,138.3 347.3,135.6 343.2,136.3 339.2,138.9 337.9,136.6 335.9,136.9 332.5,138.9 331.2,140.3 327.8,141.3 322.4,141.6 319.8,141.3 318.4,138.3 315.7,136.6 314.4,133.6 313.1,131.2 310.7,130.6 312.4,133.6 314.1,136.3 314.4,139.6 314.1,143.0 314.4,145.6 314.1,148.3 311.7,149.7 309.0,151.0 307.0,153.7 305.0,154.4 302.3,153.0 299.6,154.4 297.0,156.4 295.0,158.0 292.9,157.4 291.6,155.0 290.3,157.0 288.3,156.0 284.9,155.4 284.9,154.3 282.4,155.0 279.7,156.6 277.1,157.6 274.4,159.7 271.7,159.7 269.0,161.0 266.3,160.7 263.6,161.7 260.3,163.0 258.3,163.7 256.3,165.0 254.3,165.7 253.6,168.4 251.6,169.7 249.6,171.1 250.2,173.1 252.9,173.7 253.6,175.7 254.9,177.8 256.3,180.4 254.9,183.1 252.3,184.1 248.9,184.5 245.5,183.8 244.9,180.4 242.9,178.4 241.5,175.7 240.5,172.4 240.9,168.4 241.5,165.7 243.5,163.0 245.5,162.3 244.9,161.7 242.2,160.3 239.5,159.0 238.2,157.0 236.8,160.7 232.8,162.0 229.5,162.0 230.1,159.0 227.4,158.6 224.8,156.6 222.8,156.6 220.7,155.6 219.4,153.6 218.1,154.3 215.4,157.6 212.7,158.3 210.0,159.7 207.3,160.3 204.6,161.0 201.3,163.0 198.6,164.3 196.6,166.4 193.9,169.7 189.9,171.7 189.7,171.1 185.9,171.1 183.1,172.1 182.0,175.8 180.3,180.1 178.4,183.8 174.7,187.6 170.9,190.4 169.0,193.2 167.1,197.0 166.2,200.8 165.3,204.5 163.6,208.3 165.3,212.0 167.1,215.8 170.0,219.6 173.7,222.4 178.4,225.2 180.3,229.0 179.5,231.8 181.2,235.6 184.1,239.3 188.8,243.1 191.6,246.8 195.3,250.6 200.1,253.4 204.8,256.3 209.5,259.1 211.9,260.5 214.2,264.1 216.1,267.8 218.9,271.6 222.7,274.4 225.0,276.3 226.0,280.1 227.4,285.7 229.3,291.4 231.1,297.0 232.6,302.6 233.0,308.3 233.5,313.9 234.4,319.6 236.3,323.3 234.9,325.2 233.0,328.0 232.1,332.7 231.6,337.4 231.1,342.1 229.7,345.9 227.4,349.7 224.6,352.5 220.8,354.4 217.0,356.3 213.3,359.1 209.5,361.9 204.8,364.7 200.1,368.1 195.9,369.0 192.2,370.7 189.4,370.7 186.5,371.6 184.7,375.4 182.8,379.1 180.9,382.9 180.9,385.7 179.0,387.1 175.3,387.6 174.3,389.5 170.6,391.4 165.8,393.2 162.1,395.1 160.2,397.0 158.3,400.8 155.5,403.6 151.7,405.0 148.0,405.7 146.1,404.5 148.0,402.6 148.9,400.8 148.5,397.0 148.5,392.3 148.9,385.7 148.9,382.0 152.7,380.1 153.2,378.2 150.8,376.3 148.0,374.9 145.6,373.5 143.3,371.6 141.9,370.2 139.5,369.7 136.7,370.7 134.3,373.0 132.9,376.3 131.5,377.3 130.1,374.4 128.2,371.6 125.4,367.8 123.5,365.0 122.6,362.2 120.7,360.3 117.9,362.2 116.0,360.3 115.1,355.6 114.1,351.9 113.2,348.1 111.6,345.5 109.7,341.7 106.9,337.0 105.0,335.1 101.2,333.2 98.4,331.4 94.7,329.5 90.0,326.7 86.2,327.6 83.4,328.5 79.6,327.6 75.8,327.6 72.1,326.7 73.5,323.8 74.0,320.1 74.9,316.3 75.8,312.6 73.0,311.6 68.3,310.7 64.6,311.6 60.8,312.1 58.0,313.5 56.1,316.3 58.0,319.1 57.0,323.8 56.1,328.5 56.1,333.2 55.2,337.9 53.3,342.6 51.4,346.4 49.5,350.2 47.6,354.9 46.7,360.5 43.9,365.2 42.0,369.9 41.1,374.6 41.1,380.3 41.1,385.0 42.0,389.7 42.9,392.5 46.7,392.5 49.5,391.5 52.3,391.5 54.2,394.4 55.2,398.1 56.1,401.9 58.0,404.7 59.9,408.1 61.3,413.5 63.0,420.0 64.6,425.5 66.8,431.0 71.2,435.4 76.7,437.6 81.1,437.0 85.5,438.7 88.8,443.1 92.1,447.5 96.5,450.8 99.7,450.8 103.0,454.1 106.3,457.3 110.7,460.6 115.1,465.0 118.4,470.5 120.6,474.9 122.2,481.5 122.2,488.1 121.1,493.6 120.6,499.0 121.7,503.4 121.7,510.0 122.8,514.4 127.2,517.7 130.5,521.0 132.7,526.5 134.9,530.9 137.0,535.2 138.1,538.1 138.6,541.5 144.5,544.4 151.4,546.9 161.3,550.4 171.2,553.3 181.1,555.8 190.9,557.1 200.8,557.6 210.7,557.9 220.6,558.3 225.5,558.5 226.0,557.6 225.5,552.1 226.0,546.6 226.6,542.2 228.2,537.8 230.4,534.5 233.7,531.2 237.0,530.7 239.2,529.6 239.8,532.3 241.4,534.5 245.8,536.2 250.2,535.6 254.6,535.1 259.0,537.3 263.3,537.8 266.6,537.3 267.7,533.4 268.8,529.0 269.9,524.7 271.0,520.3 272.1,517.0 276.5,514.8 280.9,513.7 285.3,513.1 289.7,512.0 295.2,510.9 300.6,509.3 305.0,506.0 308.3,501.6 311.6,497.2 316.0,492.8 319.3,488.4 321.5,483.0 322.6,481.3 327.0,480.8 331.4,478.6 335.8,475.8 339.0,473.6 341.9,472.0 346.2,467.7 351.6,462.2 357.1,457.8 361.5,452.3 365.9,446.8 370.3,441.4 374.1,442.5 375.8,438.1 379.9,420.1 383.7,407.1 383.7,405.7 387.6,400.2 391.5,396.3 397.0,392.0 400.1,390.0 404.8,384.5 408.7,381.4 411.9,377.5 415.8,373.6 418.1,369.6 421.3,367.3 422.8,364.9 423.6,362.6 425.2,357.9 426.8,353.2 427.4,351.3 438.7,340.8 450.0,326.7 465.0,306.9 481.0,290.0 513.2,257.7 552.9,212.6 552.9,63.1 546.9,55.1 448.3,52.8Z"/></clipPath></defs><g clip-path="url(#hA)"><path fill="#fff8bb" d="M446.9,53.0 443.9,50.7 439.5,55.2 436.5,58.9 432.0,61.2 429.0,65.6 427.5,70.1 429.0,74.6 426.8,80.5 423.1,83.5 420.1,89.4 415.6,92.4 411.2,96.9 406.7,101.4 402.2,104.3 397.8,105.8 394.0,110.3 388.8,114.8 384.4,119.2 379.9,123.4 379.9,120.2 376.1,122.8 374.1,125.5 371.4,128.2 370.0,132.9 367.4,133.6 365.4,132.9 362.7,134.9 359.3,136.3 356.6,136.9 354.6,135.6 351.3,136.3 350.6,138.3 348.6,138.3 347.3,135.6 343.2,136.3 339.2,138.9 337.9,136.6 335.9,136.9 332.5,138.9 331.2,140.3 327.8,141.3 322.4,141.6 319.8,141.3 318.4,138.3 315.7,136.6 314.4,133.6 313.1,131.2 310.7,130.6 312.4,133.6 314.1,136.3 314.4,139.6 314.1,143.0 314.4,145.6 314.1,148.3 311.7,149.7 309.0,151.0 307.0,153.7 305.0,154.4 302.3,153.0 299.6,154.4 297.0,156.4 295.0,158.0 292.9,157.4 291.6,155.0 290.3,157.0 288.3,156.0 284.9,155.4 284.9,154.3 282.4,155.0 279.7,156.6 277.1,157.6 274.4,159.7 271.7,159.7 269.0,161.0 266.3,160.7 263.6,161.7 260.3,163.0 258.3,163.7 256.3,165.0 254.3,165.7 253.6,168.4 251.6,169.7 249.6,171.1 250.2,173.1 252.9,173.7 253.6,175.7 254.9,177.8 256.3,180.4 254.9,183.1 252.3,184.1 248.9,184.5 245.5,183.8 244.9,180.4 242.9,178.4 241.5,175.7 240.5,172.4 240.9,168.4 241.5,165.7 243.5,163.0 245.5,162.3 244.9,161.7 242.2,160.3 239.5,159.0 238.2,157.0 236.8,160.7 232.8,162.0 229.5,162.0 230.1,159.0 227.4,158.6 224.8,156.6 222.8,156.6 220.7,155.6 219.4,153.6 218.1,154.3 215.4,157.6 212.7,158.3 210.0,159.7 207.3,160.3 204.6,161.0 201.3,163.0 198.6,164.3 196.6,166.4 193.9,169.7 189.9,171.7 189.7,171.1 185.9,171.1 183.1,172.1 182.0,175.8 180.3,180.1 178.4,183.8 174.7,187.6 170.9,190.4 169.0,193.2 167.1,197.0 166.2,200.8 165.3,204.5 163.6,208.3 165.3,212.0 167.1,215.8 170.0,219.6 173.7,222.4 178.4,225.2 180.3,229.0 179.5,231.8 181.2,235.6 184.1,239.3 188.8,243.1 191.6,246.8 195.3,250.6 200.1,253.4 204.8,256.3 209.5,259.1 211.9,260.5 214.2,264.1 216.1,267.8 218.9,271.6 222.7,274.4 225.0,276.3 226.0,280.1 227.4,285.7 229.3,291.4 231.1,297.0 232.6,302.6 233.0,308.3 233.5,313.9 234.4,319.6 236.3,323.3 234.9,325.2 233.0,328.0 232.1,332.7 231.6,337.4 231.1,342.1 229.7,345.9 227.4,349.7 224.6,352.5 220.8,354.4 217.0,356.3 213.3,359.1 209.5,361.9 204.8,364.7 200.1,368.1 195.9,369.0 192.2,370.7 189.4,370.7 186.5,371.6 184.7,375.4 182.8,379.1 180.9,382.9 180.9,385.7 179.0,387.1 175.3,387.6 174.3,389.5 170.6,391.4 165.8,393.2 162.1,395.1 160.2,397.0 158.3,400.8 155.5,403.6 151.7,405.0 148.0,405.7 146.1,404.5 148.0,402.6 148.9,400.8 148.5,397.0 148.5,392.3 148.9,385.7 148.9,382.0 152.7,380.1 153.2,378.2 150.8,376.3 148.0,374.9 145.6,373.5 143.3,371.6 141.9,370.2 139.5,369.7 136.7,370.7 134.3,373.0 132.9,376.3 131.5,377.3 130.1,374.4 128.2,371.6 125.4,367.8 123.5,365.0 122.6,362.2 120.7,360.3 117.9,362.2 116.0,360.3 115.1,355.6 114.1,351.9 113.2,348.1 111.6,345.5 109.7,341.7 106.9,337.0 105.0,335.1 101.2,333.2 98.4,331.4 94.7,329.5 90.0,326.7 86.2,327.6 83.4,328.5 79.6,327.6 75.8,327.6 72.1,326.7 73.5,323.8 74.0,320.1 74.9,316.3 75.8,312.6 73.0,311.6 68.3,310.7 64.6,311.6 60.8,312.1 58.0,313.5 56.1,316.3 58.0,319.1 57.0,323.8 56.1,328.5 56.1,333.2 55.2,337.9 53.3,342.6 51.4,346.4 49.5,350.2 47.6,354.9 46.7,360.5 43.9,365.2 42.0,369.9 41.1,374.6 41.1,380.3 41.1,385.0 42.0,389.7 42.9,392.5 46.7,392.5 49.5,391.5 52.3,391.5 54.2,394.4 55.2,398.1 56.1,401.9 58.0,404.7 59.9,408.1 61.3,413.5 63.0,420.0 64.6,425.5 66.8,431.0 71.2,435.4 76.7,437.6 81.1,437.0 85.5,438.7 88.8,443.1 92.1,447.5 96.5,450.8 99.7,450.8 103.0,454.1 106.3,457.3 110.7,460.6 115.1,465.0 118.4,470.5 120.6,474.9 122.2,481.5 122.2,488.1 121.1,493.6 120.6,499.0 121.7,503.4 121.7,510.0 122.8,514.4 127.2,517.7 130.5,521.0 132.7,526.5 134.9,530.9 137.0,535.2 138.1,538.1 138.6,541.5 144.5,544.4 151.4,546.9 161.3,550.4 171.2,553.3 181.1,555.8 190.9,557.1 200.8,557.6 210.7,557.9 220.6,558.3 225.5,558.5 226.0,557.6 225.5,552.1 226.0,546.6 226.6,542.2 228.2,537.8 230.4,534.5 233.7,531.2 237.0,530.7 239.2,529.6 239.8,532.3 241.4,534.5 245.8,536.2 250.2,535.6 254.6,535.1 259.0,537.3 263.3,537.8 266.6,537.3 267.7,533.4 268.8,529.0 269.9,524.7 271.0,520.3 272.1,517.0 276.5,514.8 280.9,513.7 285.3,513.1 289.7,512.0 295.2,510.9 300.6,509.3 305.0,506.0 308.3,501.6 311.6,497.2 316.0,492.8 319.3,488.4 321.5,483.0 322.6,481.3 327.0,480.8 331.4,478.6 335.8,475.8 339.0,473.6 341.9,472.0 346.2,467.7 351.6,462.2 357.1,457.8 361.5,452.3 365.9,446.8 370.3,441.4 374.1,442.5 375.8,438.1 379.9,420.1 383.7,407.1 383.7,405.7 387.6,400.2 391.5,396.3 397.0,392.0 400.1,390.0 404.8,384.5 408.7,381.4 411.9,377.5 415.8,373.6 418.1,369.6 421.3,367.3 422.8,364.9 423.6,362.6 425.2,357.9 426.8,353.2 427.4,351.3 438.7,340.8 450.0,326.7 465.0,306.9 481.0,290.0 513.2,257.7 552.9,212.6 552.9,63.1 546.9,55.1 448.3,52.8Z"/></g><path fill="#fff" d="M68.7,64.1 69.9,63.8 70.2,65.9 69.0,66.4ZM59.2,76.8 60.7,76.3 61.7,79.0 62.4,82.3 61.2,82.9 60.2,79.8ZM110.4,102.1 111.9,101.9 111.6,105.1 110.7,106.1ZM104.1,119.2 105.9,118.9 106.2,120.1 104.4,120.4ZM196.6,166.4 199.3,164.7 201.0,167.0 200.0,171.1 197.9,173.7 196.3,172.4ZM250.9,152.6 252.6,153.6 253.3,156.6 251.9,157.0ZM229.1,169.4 230.1,169.4 230.0,170.4 229.1,170.4ZM203.6,170.0 205.7,169.7 205.3,171.1 204.0,171.4ZM463.3,8.3 469.2,6.8 475.2,9.0 473.7,15.0 470.0,16.5 467.8,12.0ZM472.2,0.1 478.2,0.1 481.2,1.6 476.7,3.8ZM455.1,32.1 458.8,30.6 461.1,35.8 458.1,40.3 455.8,37.3ZM427.5,59.7 432.0,58.9 434.2,63.4 431.3,66.4 428.3,64.1ZM427.5,81.3 432.0,82.0 432.8,85.7 429.0,87.2ZM395.5,102.8 400.7,101.4 404.5,104.3 400.7,106.6ZM426.1,120.0 429.0,119.2 430.2,122.5 427.3,123.4ZM491.6,104.3 493.4,104.3 493.4,105.8 491.6,105.8ZM506.5,106.1 509.4,105.5 511.7,108.1 508.0,108.8ZM513.9,105.1 517.6,103.6 517.2,106.6 514.7,107.0ZM523.1,101.1 524.6,101.1 524.6,102.2 523.1,102.2ZM532.5,97.6 535.5,96.9 538.0,99.6 534.8,100.6ZM562.5,68.3 563.9,68.3 563.9,69.8 562.5,69.8ZM463.3,138.3 464.8,138.3 464.8,139.8 463.3,139.8ZM464.0,149.7 466.0,150.2 465.5,151.7 464.0,151.2ZM469.8,173.6 471.3,173.6 471.0,176.5 469.8,176.1ZM471.0,181.0 473.7,180.0 473.4,182.5 471.0,184.4ZM465.5,88.7 469.2,90.9 473.0,93.9 470.7,96.1 471.5,101.4 469.2,107.3 467.0,113.3 465.5,119.2 464.8,125.2 462.5,131.1 458.8,135.6 455.1,140.1 453.6,144.5 452.9,149.0 452.1,152.7 449.1,152.7 448.4,147.5 445.4,143.0 442.4,138.6 440.2,134.1 438.0,131.1 438.7,125.2 438.7,120.7 441.7,116.2 445.4,110.3 449.9,104.3 454.4,98.4 457.3,93.9 461.8,91.7ZM325.1,143.0 327.8,142.6 327.1,144.3 325.5,144.6ZM294.3,158.0 298.3,156.7 300.7,157.7 299.3,159.7 295.0,159.4ZM329.8,116.1 333.2,114.1 335.9,115.5 334.5,118.2 330.5,118.5ZM196.3,166.0 200.1,164.1 204.8,161.3 209.5,159.9 208.5,163.1 201.0,166.9 199.1,172.6 196.3,173.5ZM182.2,170.2 186.9,170.2 191.1,173.5 189.7,175.8 185.0,173.5ZM204.3,170.2 205.7,170.2 205.7,171.1 204.3,171.1ZM135.2,242.1 136.6,242.6 137.5,244.0 136.1,244.5ZM102.2,249.7 106.0,249.7 106.0,254.4 104.6,252.0ZM122.0,251.1 123.9,250.6 122.9,253.0 121.2,253.9ZM221.1,202.0 224.5,199.7 227.9,197.5 230.7,195.2 230.7,193.5 233.0,191.8 235.8,192.4 238.0,190.7 241.4,189.6 244.8,190.1 247.1,190.7 249.9,189.0 252.7,188.4 255.5,189.0 257.8,190.1 259.5,187.0 261.7,189.0 264.6,189.6 265.7,192.9 266.3,196.3 264.0,196.9 261.7,198.6 259.5,201.4 258.4,204.2 257.2,207.1 256.1,209.9 255.8,212.1 254.4,213.8 251.6,215.0 248.8,217.2 247.1,219.5 244.2,220.0 242.0,221.7 240.9,223.4 238.6,224.0 236.3,222.9 233.5,221.7 230.1,221.2 227.3,220.0 224.5,218.9 221.7,217.8 221.1,215.0 220.5,212.1 220.5,207.6 220.8,204.2ZM237.2,200.8 238.6,200.8 240.3,202.3 238.0,202.5ZM203.0,170.4 205.3,169.8 205.9,170.6 204.2,171.5ZM229.0,169.5 230.1,169.5 229.8,170.6 229.1,170.4ZM219.7,341.7 221.0,341.7 221.0,342.9 219.7,342.9ZM130.1,369.7 132.9,369.3 134.3,373.0 132.9,376.8 131.1,376.3ZM122.0,391.2 123.3,391.2 123.3,392.3 122.0,392.3ZM180.9,402.6 183.0,401.7 182.8,403.8 181.4,404.3ZM144.7,381.5 145.6,381.5 145.6,382.4 144.7,382.4ZM127.6,317.3 131.9,315.4 131.9,324.8 128.5,321.0ZM55.2,385.9 58.0,385.9 58.0,389.7 55.6,389.7ZM56.6,382.1 58.2,382.6 58.0,384.0 56.6,383.8ZM52.8,375.6 54.2,376.0 54.0,377.4 52.8,377.3ZM50.0,386.4 51.2,386.7 50.9,387.8 50.0,387.6ZM121.9,391.1 123.1,391.1 123.1,392.3 121.9,392.3ZM100.3,337.0 102.7,337.9 102.2,340.8 100.8,340.3ZM104.5,344.5 105.9,345.5 105.5,348.3 104.5,347.3ZM14.7,298.4 15.8,298.6 15.7,299.9 14.7,299.6ZM17.1,304.6 18.3,304.8 18.1,306.4 17.1,306.2ZM21.3,303.1 23.7,303.6 23.2,309.7 21.3,308.8ZM15.7,324.8 16.8,325.0 16.6,326.2 15.7,325.9ZM18.0,332.3 21.3,332.8 20.8,337.0 18.5,335.1ZM23.2,327.6 26.0,326.7 27.9,329.5 26.9,333.2 24.1,332.3ZM26.0,340.8 30.7,340.8 34.5,344.5 30.7,348.3 26.9,346.4ZM19.4,343.6 20.8,344.1 20.4,347.3 19.2,346.4ZM21.3,349.2 23.7,349.7 23.2,353.0 21.3,352.0ZM16.1,360.5 17.5,361.0 17.4,362.4 16.1,362.2ZM20.4,359.6 22.2,360.5 21.8,363.3 20.2,362.4ZM27.9,357.7 32.6,358.2 31.6,362.4 28.4,363.3ZM17.1,368.0 19.0,368.5 18.5,370.4 17.1,369.9ZM21.3,374.6 23.7,375.1 23.2,378.4 21.1,377.4ZM25.1,380.3 28.8,380.7 27.9,383.1 25.5,383.1ZM23.7,393.4 26.0,393.9 26.5,398.1 24.1,397.7ZM11.9,342.2 12.8,342.2 12.8,343.6 11.9,343.6ZM28.4,514.4 31.7,513.3 35.0,516.6 38.3,521.0 40.5,523.2 36.1,523.7 32.8,519.9ZM24.6,413.5 27.3,412.4 27.9,420.0 24.6,420.6ZM28.4,410.2 31.7,409.1 32.3,416.8 29.5,417.8ZM48.2,444.2 51.5,442.0 53.7,446.4 51.5,449.7 49.3,447.5ZM59.1,420.0 60.5,420.0 60.5,421.4 59.1,421.4ZM64.6,426.6 66.8,427.2 67.0,432.1 64.9,431.6ZM60.2,463.9 63.0,464.5 63.0,468.3 60.5,467.8ZM70.7,491.9 73.4,492.5 73.2,495.2 71.0,494.7ZM80.5,510.0 82.4,510.6 82.2,513.5 80.5,513.1ZM109.1,455.4 110.2,455.4 110.2,456.5 109.1,456.5ZM113.5,457.6 114.6,457.6 114.6,458.7 113.5,458.7ZM135.1,513.5 136.8,513.9 136.5,516.0 135.1,515.7ZM134.3,523.7 135.7,524.1 135.4,525.2 134.3,524.9ZM83.3,529.8 88.8,528.1 90.4,533.1 86.6,536.3 83.3,534.2ZM8.4,256.1 12.1,254.3 13.5,256.1 11.2,259.9 8.8,259.0ZM54.0,204.9 55.2,204.9 55.2,205.9 54.0,205.9ZM102.4,249.6 106.6,250.0 105.7,254.3 104.3,252.4ZM126.7,316.8 129.5,315.8 133.3,317.7 136.1,321.5 138.9,325.2 140.8,329.0 138.0,329.9 134.2,327.1 130.5,324.3 127.6,321.5ZM101.3,249.5 106.0,250.0 105.1,254.7 104.1,251.9ZM121.1,251.9 124.3,250.9 122.9,253.7 120.6,254.2ZM208.5,490.6 212.9,487.9 216.7,493.9 214.0,498.3 210.1,499.4 207.9,495.0ZM206.8,478.0 208.5,477.7 208.3,479.7 206.8,479.4ZM203.5,510.9 205.0,510.9 205.0,512.0 203.5,512.0ZM223.3,510.4 225.2,510.6 225.5,514.2 223.6,513.9ZM226.9,519.4 229.3,520.0 229.1,521.1 226.9,520.5ZM221.1,551.9 222.5,551.9 222.5,553.2 221.1,553.2ZM270.1,515.9 272.1,515.3 273.2,520.3 271.0,521.4ZM284.7,548.2 288.6,547.7 289.7,552.1 286.4,553.7ZM383.7,405.7 387.6,400.2 391.5,396.3 397.0,392.0 400.1,390.0 404.8,384.5 408.7,381.4 411.9,377.5 415.8,373.6 418.1,369.6 421.3,367.3 422.8,364.9 423.6,362.6 425.2,357.9 426.8,353.2 427.4,351.6 429.4,354.1 428.4,358.1 428.9,361.1 426.8,362.6 428.3,364.2 429.9,366.5 429.1,369.6 426.0,371.2 422.8,373.6 420.5,377.5 415.8,378.3 412.7,379.8 411.9,383.7 409.5,387.7 406.4,392.4 403.2,393.9 400.1,395.5 397.8,399.4 394.6,401.8 391.5,403.3 387.6,404.9 383.7,408.0ZM421.3,359.1 425.2,352.5 429.0,355.8 428.5,362.4 425.2,363.5ZM430.6,367.8 433.9,366.2 436.1,367.3 433.4,369.5ZM431.2,349.7 432.8,349.7 432.8,351.4 431.2,351.4ZM453.7,355.8 455.0,355.8 455.0,356.9 453.7,356.9ZM455.0,361.8 456.4,361.8 456.4,362.9 455.0,362.9ZM378.0,416.1 380.2,413.9 380.7,418.3 379.1,420.0ZM382.4,410.6 385.1,410.1 385.7,412.8 382.9,413.1ZM406.5,434.8 407.8,434.8 407.8,436.1 406.5,436.1ZM452.6,454.5 459.2,452.3 465.8,453.4 471.9,451.2 471.9,455.6 463.6,456.7 457.0,457.8ZM444.9,449.0 449.3,446.8 451.5,448.5 447.1,451.2ZM450.4,462.2 453.7,461.1 454.2,463.3 450.9,463.5ZM465.8,441.4 468.0,442.5 471.9,441.4 471.9,444.7 469.0,444.7ZM431.7,469.9 440.5,466.6 442.7,469.9 437.2,472.1 431.7,472.1ZM424.1,476.5 426.8,475.9 427.1,479.2 424.6,479.5ZM431.7,474.3 433.7,474.3 433.7,477.3 431.7,477.3ZM388.5,487.6 391.4,484.7 395.4,486.6 396.4,490.6 392.4,492.6 389.4,490.6ZM381.5,499.5 386.5,498.5 391.4,500.5 395.4,501.9 391.4,506.4 386.5,505.4ZM407.7,525.2 410.2,525.7 409.7,528.1 408.0,527.6ZM424.5,475.8 426.5,474.8 427.0,478.7 425.0,479.7ZM431.9,471.8 438.8,467.4 442.8,469.8 440.8,471.8 433.9,473.8 431.9,473.8ZM432.4,476.3 433.7,476.3 433.7,477.5 432.4,477.5ZM452.7,456.0 456.6,453.0 461.6,454.0 466.5,453.0 472.4,452.1 471.9,455.0 466.5,456.0 460.6,457.0 456.6,458.0 453.7,457.5ZM444.3,450.6 445.8,450.1 445.6,451.6 444.3,451.9ZM462.2,201.2 464.6,200.8 465.4,203.2 463.4,204.0ZM459.1,205.9 459.9,205.5 460.3,207.9 459.5,207.9ZM459.9,210.2 463.0,209.9 463.8,211.0 460.7,211.4ZM470.8,209.9 473.2,208.3 474.0,209.9 471.6,212.2ZM472.4,198.1 474.0,198.1 473.6,199.3 472.6,199.3ZM470.1,282.7 474.8,282.3 474.8,286.7 473.2,290.2 471.6,289.0ZM456.0,292.9 459.1,292.1 462.2,294.5 463.8,296.1 460.7,296.8 457.5,295.3ZM436.4,304.6 440.6,305.5 443.4,309.3 439.6,308.3ZM442.5,312.6 448.1,311.6 455.6,312.6 461.3,315.4 465.0,320.1 464.1,325.7 463.2,330.4 460.3,334.2 456.6,336.1 453.8,332.3 451.9,327.6 450.9,322.9 449.1,318.2 445.3,315.4ZM470.7,311.6 474.4,310.7 476.3,313.5 474.4,316.3 471.2,315.4ZM482.4,331.4 485.7,330.4 487.1,333.2 484.8,334.2ZM474.4,328.5 476.3,327.6 475.4,335.1 472.6,342.6 476.3,344.5 482.0,347.3 485.7,348.3 491.4,349.2 495.1,350.2 495.1,355.8 491.4,359.6 487.6,361.5 484.8,363.3 481.0,365.2 476.3,367.1 472.6,369.9 472.6,363.3 473.5,353.9 474.4,344.5 471.6,343.6 472.6,337.0ZM493.3,359.6 500.8,360.5 502.7,363.3 500.8,368.0 498.0,372.7 496.1,377.4 495.1,382.1 496.1,386.8 498.0,391.5 495.1,395.3 491.4,395.3 488.6,391.5 485.7,389.7 482.0,385.9 481.0,381.2 483.8,378.4 488.6,377.4 489.5,372.7 488.6,368.0 487.6,363.3 490.4,361.5ZM510.2,353.9 512.5,355.8 511.6,363.3 509.2,369.9 506.4,374.6 503.6,379.3 500.8,383.1 498.9,387.8 496.1,385.9 497.0,381.2 499.8,376.5 502.7,372.7 505.5,368.0 508.3,362.4ZM508.3,378.4 513.9,375.6 518.6,374.6 521.5,376.5 520.5,382.1 515.8,385.0 510.2,385.9 507.4,384.0ZM517.7,329.5 523.3,328.5 529.9,327.6 534.6,330.4 536.5,337.0 539.9,338.9 539.9,355.8 534.6,353.9 529.9,349.2 523.3,348.3 519.6,344.5 517.7,339.8ZM519.6,348.3 525.2,348.3 529.9,353.9 530.9,361.5 532.8,368.0 534.6,374.6 535.6,378.4 530.9,375.6 528.1,370.9 525.2,365.2 523.3,359.6 519.6,355.8 518.6,352.0ZM498.0,329.5 500.8,330.4 506.4,335.1 510.2,338.9 513.0,344.5 510.2,343.6 504.5,339.8 499.8,336.1 497.0,341.7 496.1,337.9 498.0,334.2ZM513.9,302.2 515.8,300.3 517.7,302.2 518.6,306.9 516.8,310.7 513.9,309.7 513.0,306.0ZM492.3,319.1 495.1,318.2 498.9,323.8 500.8,326.7 498.0,325.7 494.2,322.9ZM504.5,327.6 506.4,328.5 507.4,333.2 505.5,334.2 504.1,331.4ZM454.2,300.8 455.6,300.8 455.6,302.2 454.2,302.2ZM467.4,322.4 468.6,322.4 468.6,323.6 467.4,323.6ZM474.3,322.0 475.6,322.0 475.6,325.7 474.3,325.7ZM461.3,337.0 464.1,337.9 466.0,342.2 463.6,342.6ZM453.3,355.3 454.5,355.3 454.5,356.6 453.3,356.6ZM454.9,361.6 456.2,361.6 456.2,363.0 454.9,363.0ZM431.2,349.2 433.1,349.2 433.3,351.1 431.4,351.1ZM502.2,392.0 505.0,391.5 505.7,394.8 502.7,395.1ZM522.4,392.5 524.8,392.3 525.2,395.3 522.9,395.3ZM478.0,328.4 480.1,328.4 480.1,330.4 478.0,330.4ZM434.0,335.1 437.8,334.2 442.5,338.9 440.6,344.5 434.9,346.4ZM431.2,366.2 435.4,366.6 435.9,369.0 431.7,369.0ZM456.6,293.7 460.3,292.3 463.2,294.7 461.3,297.5 457.5,297.5ZM473.8,435.5 472.3,430.8 475.4,424.5 476.2,418.2 480.1,415.1 486.4,414.3 492.6,412.0 494.2,406.5 500.5,403.3 505.2,404.1 508.3,407.3 509.1,412.0 506.7,415.1 513.0,413.5 517.7,407.3 522.4,402.6 527.1,397.9 533.4,394.7 538.1,391.6 541.2,388.5 539.6,382.2 542.8,380.6 545.9,383.8 547.5,386.9 550.6,390.0 553.7,396.3 554.5,404.1 555.3,412.0 556.1,419.8 560.0,426.1 558.4,430.8 555.3,435.5 552.2,438.6 550.6,443.3 552.2,448.0 549.0,440.2 547.5,433.9 544.3,430.8 541.2,432.3 539.6,437.0 538.1,441.7 541.2,446.4 542.8,452.7 541.2,459.0 538.1,463.7 534.9,460.5 533.4,455.8 530.2,457.4 525.5,455.8 520.8,454.3 516.1,451.1 513.0,446.4 511.4,440.2 511.4,433.9 514.6,429.2 511.4,424.5 505.2,421.4 498.9,421.4 492.6,422.9 487.9,426.1 484.8,424.5 481.7,427.6 480.1,433.9 477.0,435.5ZM525.5,369.7 531.8,368.1 534.9,374.4 533.4,379.1 528.7,377.5ZM545.9,379.1 550.6,377.5 552.2,383.8 547.5,385.3ZM470.7,441.7 477.0,440.2 480.1,443.3 475.4,446.4 470.7,444.9ZM502.3,392.4 505.2,392.4 505.2,395.0 502.3,395.0ZM515.3,417.4 517.4,417.4 517.4,419.8 515.3,419.8ZM524.9,440.9 526.5,440.9 526.5,442.5 524.9,442.5ZM536.5,464.3 538.4,464.3 538.4,466.2 536.5,466.2ZM561.6,484.0 564.7,482.5 565.5,490.3 563.1,496.6 560.8,493.4ZM538.1,498.1 540.4,497.3 542.4,502.8 539.6,504.4ZM536.7,514.7 538.1,514.7 538.1,516.1 536.7,516.1ZM536.7,522.6 538.1,522.6 538.1,524.0 536.7,524.0ZM535.9,527.3 537.3,527.3 537.3,528.7 535.9,528.7ZM554.7,541.4 556.1,541.4 556.1,542.8 554.7,542.8ZM520.8,538.9 525.5,535.7 527.1,538.9 522.4,542.0ZM164.1,510.3 167.2,509.8 167.7,513.3 165.3,514.3ZM173.9,503.9 177.1,503.7 177.3,508.8 175.1,509.3ZM174.1,514.8 175.6,514.8 175.6,516.3 174.1,516.3ZM203.8,510.8 205.0,510.8 205.0,512.0 203.8,512.0ZM223.5,510.6 225.5,510.6 225.7,514.3 223.7,514.0ZM226.5,519.5 229.5,519.7 229.3,521.2 226.7,520.9ZM197.4,547.9 200.8,547.4 201.0,549.2 197.7,549.4ZM169.0,509.8 170.2,509.8 170.2,511.0 169.0,511.0ZM134.8,513.6 137.8,513.6 137.8,516.9 134.8,516.9ZM134.4,524.2 135.8,524.2 135.8,525.2 134.4,525.2ZM126.7,546.4 131.7,544.4 135.6,546.4 137.6,551.3 135.6,556.3 130.7,553.3 126.7,552.3ZM139.6,543.4 144.5,544.4 146.5,549.4 145.5,553.3 141.5,552.3 140.1,548.4ZM119.8,547.4 123.8,546.4 124.7,551.3 121.8,554.3 118.8,552.3ZM111.9,547.4 114.9,548.4 117.8,553.3 114.9,556.3 111.9,555.3ZM135.6,559.2 139.6,560.2 141.5,564.2 138.6,566.2 136.1,564.2ZM147.5,547.4 148.7,547.4 148.7,548.6 147.5,548.6ZM221.1,551.8 222.4,551.8 222.4,553.1 221.1,553.1ZM193.4,564.0 194.4,564.0 194.4,565.0 193.4,565.0ZM359.6,6.7 362.9,4.5 364.0,10.0 361.8,14.4 366.2,15.5 369.5,14.4 372.7,16.6 370.6,22.0 367.3,23.1 364.0,18.8 360.7,14.4 358.5,11.1ZM361.8,26.4 365.1,25.3 368.4,27.5 366.2,29.7 362.9,29.7ZM425.4,120.2 427.6,120.2 427.6,122.4 425.4,122.4ZM292.6,14.2 294.9,13.5 295.6,15.7 293.4,16.2ZM299.5,24.2 301.0,24.2 301.0,25.7 299.5,25.7ZM307.5,1.6 310.5,0.8 312.0,3.8 309.0,4.6ZM2.2,540.8 6.7,539.7 11.2,542.0 15.7,546.5 17.4,549.9 15.7,555.5 13.4,556.7 11.2,553.3 7.8,547.6 4.4,543.1ZM29.3,563.4 33.8,563.7 34.9,565.1 30.4,565.7ZM27.0,535.8 31.0,535.2 33.8,536.9 31.5,538.4 27.6,537.7ZM94.7,538.0 101.5,537.7 104.3,540.8 101.5,542.0 97.0,540.3ZM104.9,546.5 110.6,545.4 115.1,548.7 117.3,553.3 113.9,555.5 109.4,552.1 106.0,549.9ZM120.2,547.6 123.0,546.5 124.1,553.3 121.8,555.5 119.6,552.1ZM127.5,547.6 135.4,545.4 143.3,544.2 145.6,548.7 141.0,553.3 135.4,555.5 129.8,553.3ZM85.7,544.8 87.1,544.8 87.1,546.2 85.7,546.2ZM98.7,553.8 100.1,553.8 100.1,555.0 98.7,555.0ZM446.5,217.7 451.2,215.7 457.5,215.7 461.4,217.7 465.4,219.7 467.7,221.6 471.6,222.0 474.8,220.8 476.3,216.9 478.7,218.5 480.2,221.6 477.9,224.7 477.1,227.9 476.3,231.8 477.9,237.3 481.0,240.4 482.6,242.8 483.4,245.9 481.8,249.8 479.5,253.7 477.1,257.7 475.5,260.8 473.2,261.6 470.1,262.4 466.9,263.9 465.4,266.3 466.1,269.4 464.6,272.6 463.0,275.7 462.2,278.0 463.8,280.4 464.6,283.5 466.1,286.7 445.8,294.5 443.4,292.9 441.8,289.8 439.5,287.4 437.9,285.9 437.1,282.7 436.4,278.0 434.8,274.1 434.0,269.4 433.2,265.5 431.7,264.7 431.7,260.0 432.4,258.1 434.0,257.7 436.4,260.0 438.7,262.4 441.8,262.4 443.4,260.8 442.6,257.7 441.8,254.5 442.2,251.4 443.4,247.5 443.4,243.6 444.2,239.6 442.6,236.5 443.4,233.4 445.0,229.4 445.8,225.5 446.9,221.6 446.5,217.7ZM64.6,312.6 75.9,312.1 73.5,323.8 77.7,327.6Z"/>
<use href="#coast"/>
<use href="#grid"/>
</g>
<use href="#axes"/>
</g>
<text transform="translate(51.3,24.0) scale(0.94,1)" font-size="29.6" font-weight="bold" style="font-family:'Liberation Sans',sans-serif">A</text>
<text x="344.6" y="22.9" font-size="20" font-weight="bold" text-anchor="middle">2050</text>
<g transform="translate(729.4,32.0)">
<g clip-path="url(#clp)">
<defs><clipPath id="hB"><path d="M446.9,53.0 443.9,50.7 439.5,55.2 436.5,58.9 432.0,61.2 429.0,65.6 427.5,70.1 429.0,74.6 426.8,80.5 423.1,83.5 420.1,89.4 415.6,92.4 411.2,96.9 406.7,101.4 402.2,104.3 397.8,105.8 394.0,110.3 388.8,114.8 384.4,119.2 379.9,123.4 379.9,120.2 376.1,122.8 374.1,125.5 371.4,128.2 370.0,132.9 367.4,133.6 365.4,132.9 362.7,134.9 359.3,136.3 356.6,136.9 354.6,135.6 351.3,136.3 350.6,138.3 348.6,138.3 347.3,135.6 343.2,136.3 339.2,138.9 337.9,136.6 335.9,136.9 332.5,138.9 331.2,140.3 327.8,141.3 322.4,141.6 319.8,141.3 318.4,138.3 315.7,136.6 314.4,133.6 313.1,131.2 310.7,130.6 312.4,133.6 314.1,136.3 314.4,139.6 314.1,143.0 314.4,145.6 314.1,148.3 311.7,149.7 309.0,151.0 307.0,153.7 305.0,154.4 302.3,153.0 299.6,154.4 297.0,156.4 295.0,158.0 292.9,157.4 291.6,155.0 290.3,157.0 288.3,156.0 284.9,155.4 284.9,154.3 282.4,155.0 279.7,156.6 277.1,157.6 274.4,159.7 271.7,159.7 269.0,161.0 266.3,160.7 263.6,161.7 260.3,163.0 258.3,163.7 256.3,165.0 254.3,165.7 253.6,168.4 251.6,169.7 249.6,171.1 250.2,173.1 252.9,173.7 253.6,175.7 254.9,177.8 256.3,180.4 254.9,183.1 252.3,184.1 248.9,184.5 245.5,183.8 244.9,180.4 242.9,178.4 241.5,175.7 240.5,172.4 240.9,168.4 241.5,165.7 243.5,163.0 245.5,162.3 244.9,161.7 242.2,160.3 239.5,159.0 238.2,157.0 236.8,160.7 232.8,162.0 229.5,162.0 230.1,159.0 227.4,158.6 224.8,156.6 222.8,156.6 220.7,155.6 219.4,153.6 218.1,154.3 215.4,157.6 212.7,158.3 210.0,159.7 207.3,160.3 204.6,161.0 201.3,163.0 198.6,164.3 196.6,166.4 193.9,169.7 189.9,171.7 189.7,171.1 185.9,171.1 183.1,172.1 182.0,175.8 180.3,180.1 178.4,183.8 174.7,187.6 170.9,190.4 169.0,193.2 167.1,197.0 166.2,200.8 165.3,204.5 163.6,208.3 165.3,212.0 167.1,215.8 170.0,219.6 173.7,222.4 178.4,225.2 180.3,229.0 179.5,231.8 181.2,235.6 184.1,239.3 188.8,243.1 191.6,246.8 195.3,250.6 200.1,253.4 204.8,256.3 209.5,259.1 211.9,260.5 214.2,264.1 216.1,267.8 218.9,271.6 222.7,274.4 225.0,276.3 226.0,280.1 227.4,285.7 229.3,291.4 231.1,297.0 232.6,302.6 233.0,308.3 233.5,313.9 234.4,319.6 236.3,323.3 234.9,325.2 233.0,328.0 232.1,332.7 231.6,337.4 231.1,342.1 229.7,345.9 227.4,349.7 224.6,352.5 220.8,354.4 217.0,356.3 213.3,359.1 209.5,361.9 204.8,364.7 200.1,368.1 195.9,369.0 192.2,370.7 189.4,370.7 186.5,371.6 184.7,375.4 182.8,379.1 180.9,382.9 180.9,385.7 179.0,387.1 175.3,387.6 174.3,389.5 170.6,391.4 165.8,393.2 162.1,395.1 160.2,397.0 158.3,400.8 155.5,403.6 151.7,405.0 148.0,405.7 146.1,404.5 148.0,402.6 148.9,400.8 148.5,397.0 148.5,392.3 148.9,385.7 148.9,382.0 152.7,380.1 153.2,378.2 150.8,376.3 148.0,374.9 145.6,373.5 143.3,371.6 141.9,370.2 139.5,369.7 136.7,370.7 134.3,373.0 132.9,376.3 131.5,377.3 130.1,374.4 128.2,371.6 125.4,367.8 123.5,365.0 122.6,362.2 120.7,360.3 117.9,362.2 116.0,360.3 115.1,355.6 114.1,351.9 113.2,348.1 111.6,345.5 109.7,341.7 106.9,337.0 105.0,335.1 101.2,333.2 98.4,331.4 94.7,329.5 90.0,326.7 86.2,327.6 83.4,328.5 79.6,327.6 75.8,327.6 72.1,326.7 73.5,323.8 74.0,320.1 74.9,316.3 75.8,312.6 73.0,311.6 68.3,310.7 64.6,311.6 60.8,312.1 58.0,313.5 56.1,316.3 58.0,319.1 57.0,323.8 56.1,328.5 56.1,333.2 55.2,337.9 53.3,342.6 51.4,346.4 49.5,350.2 47.6,354.9 46.7,360.5 43.9,365.2 42.0,369.9 41.1,374.6 41.1,380.3 41.1,385.0 42.0,389.7 42.9,392.5 46.7,392.5 49.5,391.5 52.3,391.5 54.2,394.4 55.2,398.1 56.1,401.9 58.0,404.7 59.9,408.1 61.3,413.5 63.0,420.0 64.6,425.5 66.8,431.0 71.2,435.4 76.7,437.6 81.1,437.0 85.5,438.7 88.8,443.1 92.1,447.5 96.5,450.8 99.7,450.8 103.0,454.1 106.3,457.3 110.7,460.6 115.1,465.0 118.4,470.5 120.6,474.9 122.2,481.5 122.2,488.1 121.1,493.6 120.6,499.0 121.7,503.4 121.7,510.0 122.8,514.4 127.2,517.7 130.5,521.0 132.7,526.5 134.9,530.9 137.0,535.2 138.1,538.1 138.6,541.5 144.5,544.4 151.4,546.9 161.3,550.4 171.2,553.3 181.1,555.8 190.9,557.1 200.8,557.6 210.7,557.9 220.6,558.3 225.5,558.5 226.0,557.6 225.5,552.1 226.0,546.6 226.6,542.2 228.2,537.8 230.4,534.5 233.7,531.2 237.0,530.7 239.2,529.6 239.8,532.3 241.4,534.5 245.8,536.2 250.2,535.6 254.6,535.1 259.0,537.3 263.3,537.8 266.6,537.3 267.7,533.4 268.8,529.0 269.9,524.7 271.0,520.3 272.1,517.0 276.5,514.8 280.9,513.7 285.3,513.1 289.7,512.0 295.2,510.9 300.6,509.3 305.0,506.0 308.3,501.6 311.6,497.2 316.0,492.8 319.3,488.4 321.5,483.0 322.6,481.3 327.0,480.8 331.4,478.6 335.8,475.8 339.0,473.6 341.9,472.0 346.2,467.7 351.6,462.2 357.1,457.8 361.5,452.3 365.9,446.8 370.3,441.4 374.1,442.5 375.8,438.1 379.9,420.1 383.7,407.1 383.7,405.7 387.6,400.2 391.5,396.3 397.0,392.0 400.1,390.0 404.8,384.5 408.7,381.4 411.9,377.5 415.8,373.6 418.1,369.6 421.3,367.3 422.8,364.9 423.6,362.6 425.2,357.9 426.8,353.2 427.4,351.3 438.7,340.8 450.0,326.7 465.0,306.9 481.0,290.0 513.2,257.7 552.9,212.6 552.9,63.1 546.9,55.1 448.3,52.8Z"/></clipPath></defs><g clip-path="url(#hB)"><path fill="#ffe998" d="M446.9,53.0 443.9,50.7 439.5,55.2 436.5,58.9 432.0,61.2 429.0,65.6 427.5,70.1 429.0,74.6 426.8,80.5 423.1,83.5 420.1,89.4 415.6,92.4 411.2,96.9 406.7,101.4 402.2,104.3 397.8,105.8 394.0,110.3 388.8,114.8 384.4,119.2 379.9,123.4 379.9,120.2 376.1,122.8 374.1,125.5 371.4,128.2 370.0,132.9 367.4,133.6 365.4,132.9 362.7,134.9 359.3,136.3 356.6,136.9 354.6,135.6 351.3,136.3 350.6,138.3 348.6,138.3 347.3,135.6 343.2,136.3 339.2,138.9 337.9,136.6 335.9,136.9 332.5,138.9 331.2,140.3 327.8,141.3 322.4,141.6 319.8,141.3 318.4,138.3 315.7,136.6 314.4,133.6 313.1,131.2 310.7,130.6 312.4,133.6 314.1,136.3 314.4,139.6 314.1,143.0 314.4,145.6 314.1,148.3 311.7,149.7 309.0,151.0 307.0,153.7 305.0,154.4 302.3,153.0 299.6,154.4 297.0,156.4 295.0,158.0 292.9,157.4 291.6,155.0 290.3,157.0 288.3,156.0 284.9,155.4 284.9,154.3 282.4,155.0 279.7,156.6 277.1,157.6 274.4,159.7 271.7,159.7 269.0,161.0 266.3,160.7 263.6,161.7 260.3,163.0 258.3,163.7 256.3,165.0 254.3,165.7 253.6,168.4 251.6,169.7 249.6,171.1 250.2,173.1 252.9,173.7 253.6,175.7 254.9,177.8 256.3,180.4 254.9,183.1 252.3,184.1 248.9,184.5 245.5,183.8 244.9,180.4 242.9,178.4 241.5,175.7 240.5,172.4 240.9,168.4 241.5,165.7 243.5,163.0 245.5,162.3 244.9,161.7 242.2,160.3 239.5,159.0 238.2,157.0 236.8,160.7 232.8,162.0 229.5,162.0 230.1,159.0 227.4,158.6 224.8,156.6 222.8,156.6 220.7,155.6 219.4,153.6 218.1,154.3 215.4,157.6 212.7,158.3 210.0,159.7 207.3,160.3 204.6,161.0 201.3,163.0 198.6,164.3 196.6,166.4 193.9,169.7 189.9,171.7 189.7,171.1 185.9,171.1 183.1,172.1 182.0,175.8 180.3,180.1 178.4,183.8 174.7,187.6 170.9,190.4 169.0,193.2 167.1,197.0 166.2,200.8 165.3,204.5 163.6,208.3 165.3,212.0 167.1,215.8 170.0,219.6 173.7,222.4 178.4,225.2 180.3,229.0 179.5,231.8 181.2,235.6 184.1,239.3 188.8,243.1 191.6,246.8 195.3,250.6 200.1,253.4 204.8,256.3 209.5,259.1 211.9,260.5 214.2,264.1 216.1,267.8 218.9,271.6 222.7,274.4 225.0,276.3 226.0,280.1 227.4,285.7 229.3,291.4 231.1,297.0 232.6,302.6 233.0,308.3 233.5,313.9 234.4,319.6 236.3,323.3 234.9,325.2 233.0,328.0 232.1,332.7 231.6,337.4 231.1,342.1 229.7,345.9 227.4,349.7 224.6,352.5 220.8,354.4 217.0,356.3 213.3,359.1 209.5,361.9 204.8,364.7 200.1,368.1 195.9,369.0 192.2,370.7 189.4,370.7 186.5,371.6 184.7,375.4 182.8,379.1 180.9,382.9 180.9,385.7 179.0,387.1 175.3,387.6 174.3,389.5 170.6,391.4 165.8,393.2 162.1,395.1 160.2,397.0 158.3,400.8 155.5,403.6 151.7,405.0 148.0,405.7 146.1,404.5 148.0,402.6 148.9,400.8 148.5,397.0 148.5,392.3 148.9,385.7 148.9,382.0 152.7,380.1 153.2,378.2 150.8,376.3 148.0,374.9 145.6,373.5 143.3,371.6 141.9,370.2 139.5,369.7 136.7,370.7 134.3,373.0 132.9,376.3 131.5,377.3 130.1,374.4 128.2,371.6 125.4,367.8 123.5,365.0 122.6,362.2 120.7,360.3 117.9,362.2 116.0,360.3 115.1,355.6 114.1,351.9 113.2,348.1 111.6,345.5 109.7,341.7 106.9,337.0 105.0,335.1 101.2,333.2 98.4,331.4 94.7,329.5 90.0,326.7 86.2,327.6 83.4,328.5 79.6,327.6 75.8,327.6 72.1,326.7 73.5,323.8 74.0,320.1 74.9,316.3 75.8,312.6 73.0,311.6 68.3,310.7 64.6,311.6 60.8,312.1 58.0,313.5 56.1,316.3 58.0,319.1 57.0,323.8 56.1,328.5 56.1,333.2 55.2,337.9 53.3,342.6 51.4,346.4 49.5,350.2 47.6,354.9 46.7,360.5 43.9,365.2 42.0,369.9 41.1,374.6 41.1,380.3 41.1,385.0 42.0,389.7 42.9,392.5 46.7,392.5 49.5,391.5 52.3,391.5 54.2,394.4 55.2,398.1 56.1,401.9 58.0,404.7 59.9,408.1 61.3,413.5 63.0,420.0 64.6,425.5 66.8,431.0 71.2,435.4 76.7,437.6 81.1,437.0 85.5,438.7 88.8,443.1 92.1,447.5 96.5,450.8 99.7,450.8 103.0,454.1 106.3,457.3 110.7,460.6 115.1,465.0 118.4,470.5 120.6,474.9 122.2,481.5 122.2,488.1 121.1,493.6 120.6,499.0 121.7,503.4 121.7,510.0 122.8,514.4 127.2,517.7 130.5,521.0 132.7,526.5 134.9,530.9 137.0,535.2 138.1,538.1 138.6,541.5 144.5,544.4 151.4,546.9 161.3,550.4 171.2,553.3 181.1,555.8 190.9,557.1 200.8,557.6 210.7,557.9 220.6,558.3 225.5,558.5 226.0,557.6 225.5,552.1 226.0,546.6 226.6,542.2 228.2,537.8 230.4,534.5 233.7,531.2 237.0,530.7 239.2,529.6 239.8,532.3 241.4,534.5 245.8,536.2 250.2,535.6 254.6,535.1 259.0,537.3 263.3,537.8 266.6,537.3 267.7,533.4 268.8,529.0 269.9,524.7 271.0,520.3 272.1,517.0 276.5,514.8 280.9,513.7 285.3,513.1 289.7,512.0 295.2,510.9 300.6,509.3 305.0,506.0 308.3,501.6 311.6,497.2 316.0,492.8 319.3,488.4 321.5,483.0 322.6,481.3 327.0,480.8 331.4,478.6 335.8,475.8 339.0,473.6 341.9,472.0 346.2,467.7 351.6,462.2 357.1,457.8 361.5,452.3 365.9,446.8 370.3,441.4 374.1,442.5 375.8,438.1 379.9,420.1 383.7,407.1 383.7,405.7 387.6,400.2 391.5,396.3 397.0,392.0 400.1,390.0 404.8,384.5 408.7,381.4 411.9,377.5 415.8,373.6 418.1,369.6 421.3,367.3 422.8,364.9 423.6,362.6 425.2,357.9 426.8,353.2 427.4,351.3 438.7,340.8 450.0,326.7 465.0,306.9 481.0,290.0 513.2,257.7 552.9,212.6 552.9,63.1 546.9,55.1 448.3,52.8Z"/><ellipse fill="#fed976" cx="450.6" cy="285.8" rx="38.0" ry="32.0"/></g><path fill="#fff" d="M68.7,64.1 69.9,63.8 70.2,65.9 69.0,66.4ZM59.2,76.8 60.7,76.3 61.7,79.0 62.4,82.3 61.2,82.9 60.2,79.8ZM110.4,102.1 111.9,101.9 111.6,105.1 110.7,106.1ZM104.1,119.2 105.9,118.9 106.2,120.1 104.4,120.4ZM196.6,166.4 199.3,164.7 201.0,167.0 200.0,171.1 197.9,173.7 196.3,172.4ZM250.9,152.6 252.6,153.6 253.3,156.6 251.9,157.0ZM229.1,169.4 230.1,169.4 230.0,170.4 229.1,170.4ZM203.6,170.0 205.7,169.7 205.3,171.1 204.0,171.4ZM463.3,8.3 469.2,6.8 475.2,9.0 473.7,15.0 470.0,16.5 467.8,12.0ZM472.2,0.1 478.2,0.1 481.2,1.6 476.7,3.8ZM455.1,32.1 458.8,30.6 461.1,35.8 458.1,40.3 455.8,37.3ZM427.5,59.7 432.0,58.9 434.2,63.4 431.3,66.4 428.3,64.1ZM427.5,81.3 432.0,82.0 432.8,85.7 429.0,87.2ZM395.5,102.8 400.7,101.4 404.5,104.3 400.7,106.6ZM426.1,120.0 429.0,119.2 430.2,122.5 427.3,123.4ZM491.6,104.3 493.4,104.3 493.4,105.8 491.6,105.8ZM506.5,106.1 509.4,105.5 511.7,108.1 508.0,108.8ZM513.9,105.1 517.6,103.6 517.2,106.6 514.7,107.0ZM523.1,101.1 524.6,101.1 524.6,102.2 523.1,102.2ZM532.5,97.6 535.5,96.9 538.0,99.6 534.8,100.6ZM562.5,68.3 563.9,68.3 563.9,69.8 562.5,69.8ZM463.3,138.3 464.8,138.3 464.8,139.8 463.3,139.8ZM464.0,149.7 466.0,150.2 465.5,151.7 464.0,151.2ZM469.8,173.6 471.3,173.6 471.0,176.5 469.8,176.1ZM471.0,181.0 473.7,180.0 473.4,182.5 471.0,184.4ZM465.5,88.7 469.2,90.9 473.0,93.9 470.7,96.1 471.5,101.4 469.2,107.3 467.0,113.3 465.5,119.2 464.8,125.2 462.5,131.1 458.8,135.6 455.1,140.1 453.6,144.5 452.9,149.0 452.1,152.7 449.1,152.7 448.4,147.5 445.4,143.0 442.4,138.6 440.2,134.1 438.0,131.1 438.7,125.2 438.7,120.7 441.7,116.2 445.4,110.3 449.9,104.3 454.4,98.4 457.3,93.9 461.8,91.7ZM325.1,143.0 327.8,142.6 327.1,144.3 325.5,144.6ZM294.3,158.0 298.3,156.7 300.7,157.7 299.3,159.7 295.0,159.4ZM329.8,116.1 333.2,114.1 335.9,115.5 334.5,118.2 330.5,118.5ZM196.3,166.0 200.1,164.1 204.8,161.3 209.5,159.9 208.5,163.1 201.0,166.9 199.1,172.6 196.3,173.5ZM182.2,170.2 186.9,170.2 191.1,173.5 189.7,175.8 185.0,173.5ZM204.3,170.2 205.7,170.2 205.7,171.1 204.3,171.1ZM135.2,242.1 136.6,242.6 137.5,244.0 136.1,244.5ZM102.2,249.7 106.0,249.7 106.0,254.4 104.6,252.0ZM122.0,251.1 123.9,250.6 122.9,253.0 121.2,253.9ZM221.1,202.0 224.5,199.7 227.9,197.5 230.7,195.2 230.7,193.5 233.0,191.8 235.8,192.4 238.0,190.7 241.4,189.6 244.8,190.1 247.1,190.7 249.9,189.0 252.7,188.4 255.5,189.0 257.8,190.1 259.5,187.0 261.7,189.0 264.6,189.6 265.7,192.9 266.3,196.3 264.0,196.9 261.7,198.6 259.5,201.4 258.4,204.2 257.2,207.1 256.1,209.9 255.8,212.1 254.4,213.8 251.6,215.0 248.8,217.2 247.1,219.5 244.2,220.0 242.0,221.7 240.9,223.4 238.6,224.0 236.3,222.9 233.5,221.7 230.1,221.2 227.3,220.0 224.5,218.9 221.7,217.8 221.1,215.0 220.5,212.1 220.5,207.6 220.8,204.2ZM237.2,200.8 238.6,200.8 240.3,202.3 238.0,202.5ZM203.0,170.4 205.3,169.8 205.9,170.6 204.2,171.5ZM229.0,169.5 230.1,169.5 229.8,170.6 229.1,170.4ZM219.7,341.7 221.0,341.7 221.0,342.9 219.7,342.9ZM130.1,369.7 132.9,369.3 134.3,373.0 132.9,376.8 131.1,376.3ZM122.0,391.2 123.3,391.2 123.3,392.3 122.0,392.3ZM180.9,402.6 183.0,401.7 182.8,403.8 181.4,404.3ZM144.7,381.5 145.6,381.5 145.6,382.4 144.7,382.4ZM127.6,317.3 131.9,315.4 131.9,324.8 128.5,321.0ZM55.2,385.9 58.0,385.9 58.0,389.7 55.6,389.7ZM56.6,382.1 58.2,382.6 58.0,384.0 56.6,383.8ZM52.8,375.6 54.2,376.0 54.0,377.4 52.8,377.3ZM50.0,386.4 51.2,386.7 50.9,387.8 50.0,387.6ZM121.9,391.1 123.1,391.1 123.1,392.3 121.9,392.3ZM100.3,337.0 102.7,337.9 102.2,340.8 100.8,340.3ZM104.5,344.5 105.9,345.5 105.5,348.3 104.5,347.3ZM14.7,298.4 15.8,298.6 15.7,299.9 14.7,299.6ZM17.1,304.6 18.3,304.8 18.1,306.4 17.1,306.2ZM21.3,303.1 23.7,303.6 23.2,309.7 21.3,308.8ZM15.7,324.8 16.8,325.0 16.6,326.2 15.7,325.9ZM18.0,332.3 21.3,332.8 20.8,337.0 18.5,335.1ZM23.2,327.6 26.0,326.7 27.9,329.5 26.9,333.2 24.1,332.3ZM26.0,340.8 30.7,340.8 34.5,344.5 30.7,348.3 26.9,346.4ZM19.4,343.6 20.8,344.1 20.4,347.3 19.2,346.4ZM21.3,349.2 23.7,349.7 23.2,353.0 21.3,352.0ZM16.1,360.5 17.5,361.0 17.4,362.4 16.1,362.2ZM20.4,359.6 22.2,360.5 21.8,363.3 20.2,362.4ZM27.9,357.7 32.6,358.2 31.6,362.4 28.4,363.3ZM17.1,368.0 19.0,368.5 18.5,370.4 17.1,369.9ZM21.3,374.6 23.7,375.1 23.2,378.4 21.1,377.4ZM25.1,380.3 28.8,380.7 27.9,383.1 25.5,383.1ZM23.7,393.4 26.0,393.9 26.5,398.1 24.1,397.7ZM11.9,342.2 12.8,342.2 12.8,343.6 11.9,343.6ZM28.4,514.4 31.7,513.3 35.0,516.6 38.3,521.0 40.5,523.2 36.1,523.7 32.8,519.9ZM24.6,413.5 27.3,412.4 27.9,420.0 24.6,420.6ZM28.4,410.2 31.7,409.1 32.3,416.8 29.5,417.8ZM48.2,444.2 51.5,442.0 53.7,446.4 51.5,449.7 49.3,447.5ZM59.1,420.0 60.5,420.0 60.5,421.4 59.1,421.4ZM64.6,426.6 66.8,427.2 67.0,432.1 64.9,431.6ZM60.2,463.9 63.0,464.5 63.0,468.3 60.5,467.8ZM70.7,491.9 73.4,492.5 73.2,495.2 71.0,494.7ZM80.5,510.0 82.4,510.6 82.2,513.5 80.5,513.1ZM109.1,455.4 110.2,455.4 110.2,456.5 109.1,456.5ZM113.5,457.6 114.6,457.6 114.6,458.7 113.5,458.7ZM135.1,513.5 136.8,513.9 136.5,516.0 135.1,515.7ZM134.3,523.7 135.7,524.1 135.4,525.2 134.3,524.9ZM83.3,529.8 88.8,528.1 90.4,533.1 86.6,536.3 83.3,534.2ZM8.4,256.1 12.1,254.3 13.5,256.1 11.2,259.9 8.8,259.0ZM54.0,204.9 55.2,204.9 55.2,205.9 54.0,205.9ZM102.4,249.6 106.6,250.0 105.7,254.3 104.3,252.4ZM126.7,316.8 129.5,315.8 133.3,317.7 136.1,321.5 138.9,325.2 140.8,329.0 138.0,329.9 134.2,327.1 130.5,324.3 127.6,321.5ZM101.3,249.5 106.0,250.0 105.1,254.7 104.1,251.9ZM121.1,251.9 124.3,250.9 122.9,253.7 120.6,254.2ZM208.5,490.6 212.9,487.9 216.7,493.9 214.0,498.3 210.1,499.4 207.9,495.0ZM206.8,478.0 208.5,477.7 208.3,479.7 206.8,479.4ZM203.5,510.9 205.0,510.9 205.0,512.0 203.5,512.0ZM223.3,510.4 225.2,510.6 225.5,514.2 223.6,513.9ZM226.9,519.4 229.3,520.0 229.1,521.1 226.9,520.5ZM221.1,551.9 222.5,551.9 222.5,553.2 221.1,553.2ZM270.1,515.9 272.1,515.3 273.2,520.3 271.0,521.4ZM284.7,548.2 288.6,547.7 289.7,552.1 286.4,553.7ZM383.7,405.7 387.6,400.2 391.5,396.3 397.0,392.0 400.1,390.0 404.8,384.5 408.7,381.4 411.9,377.5 415.8,373.6 418.1,369.6 421.3,367.3 422.8,364.9 423.6,362.6 425.2,357.9 426.8,353.2 427.4,351.6 429.4,354.1 428.4,358.1 428.9,361.1 426.8,362.6 428.3,364.2 429.9,366.5 429.1,369.6 426.0,371.2 422.8,373.6 420.5,377.5 415.8,378.3 412.7,379.8 411.9,383.7 409.5,387.7 406.4,392.4 403.2,393.9 400.1,395.5 397.8,399.4 394.6,401.8 391.5,403.3 387.6,404.9 383.7,408.0ZM421.3,359.1 425.2,352.5 429.0,355.8 428.5,362.4 425.2,363.5ZM430.6,367.8 433.9,366.2 436.1,367.3 433.4,369.5ZM431.2,349.7 432.8,349.7 432.8,351.4 431.2,351.4ZM453.7,355.8 455.0,355.8 455.0,356.9 453.7,356.9ZM455.0,361.8 456.4,361.8 456.4,362.9 455.0,362.9ZM378.0,416.1 380.2,413.9 380.7,418.3 379.1,420.0ZM382.4,410.6 385.1,410.1 385.7,412.8 382.9,413.1ZM406.5,434.8 407.8,434.8 407.8,436.1 406.5,436.1ZM452.6,454.5 459.2,452.3 465.8,453.4 471.9,451.2 471.9,455.6 463.6,456.7 457.0,457.8ZM444.9,449.0 449.3,446.8 451.5,448.5 447.1,451.2ZM450.4,462.2 453.7,461.1 454.2,463.3 450.9,463.5ZM465.8,441.4 468.0,442.5 471.9,441.4 471.9,444.7 469.0,444.7ZM431.7,469.9 440.5,466.6 442.7,469.9 437.2,472.1 431.7,472.1ZM424.1,476.5 426.8,475.9 427.1,479.2 424.6,479.5ZM431.7,474.3 433.7,474.3 433.7,477.3 431.7,477.3ZM388.5,487.6 391.4,484.7 395.4,486.6 396.4,490.6 392.4,492.6 389.4,490.6ZM381.5,499.5 386.5,498.5 391.4,500.5 395.4,501.9 391.4,506.4 386.5,505.4ZM407.7,525.2 410.2,525.7 409.7,528.1 408.0,527.6ZM424.5,475.8 426.5,474.8 427.0,478.7 425.0,479.7ZM431.9,471.8 438.8,467.4 442.8,469.8 440.8,471.8 433.9,473.8 431.9,473.8ZM432.4,476.3 433.7,476.3 433.7,477.5 432.4,477.5ZM452.7,456.0 456.6,453.0 461.6,454.0 466.5,453.0 472.4,452.1 471.9,455.0 466.5,456.0 460.6,457.0 456.6,458.0 453.7,457.5ZM444.3,450.6 445.8,450.1 445.6,451.6 444.3,451.9ZM462.2,201.2 464.6,200.8 465.4,203.2 463.4,204.0ZM459.1,205.9 459.9,205.5 460.3,207.9 459.5,207.9ZM459.9,210.2 463.0,209.9 463.8,211.0 460.7,211.4ZM470.8,209.9 473.2,208.3 474.0,209.9 471.6,212.2ZM472.4,198.1 474.0,198.1 473.6,199.3 472.6,199.3ZM470.1,282.7 474.8,282.3 474.8,286.7 473.2,290.2 471.6,289.0ZM456.0,292.9 459.1,292.1 462.2,294.5 463.8,296.1 460.7,296.8 457.5,295.3ZM436.4,304.6 440.6,305.5 443.4,309.3 439.6,308.3ZM442.5,312.6 448.1,311.6 455.6,312.6 461.3,315.4 465.0,320.1 464.1,325.7 463.2,330.4 460.3,334.2 456.6,336.1 453.8,332.3 451.9,327.6 450.9,322.9 449.1,318.2 445.3,315.4ZM470.7,311.6 474.4,310.7 476.3,313.5 474.4,316.3 471.2,315.4ZM482.4,331.4 485.7,330.4 487.1,333.2 484.8,334.2ZM474.4,328.5 476.3,327.6 475.4,335.1 472.6,342.6 476.3,344.5 482.0,347.3 485.7,348.3 491.4,349.2 495.1,350.2 495.1,355.8 491.4,359.6 487.6,361.5 484.8,363.3 481.0,365.2 476.3,367.1 472.6,369.9 472.6,363.3 473.5,353.9 474.4,344.5 471.6,343.6 472.6,337.0ZM493.3,359.6 500.8,360.5 502.7,363.3 500.8,368.0 498.0,372.7 496.1,377.4 495.1,382.1 496.1,386.8 498.0,391.5 495.1,395.3 491.4,395.3 488.6,391.5 485.7,389.7 482.0,385.9 481.0,381.2 483.8,378.4 488.6,377.4 489.5,372.7 488.6,368.0 487.6,363.3 490.4,361.5ZM510.2,353.9 512.5,355.8 511.6,363.3 509.2,369.9 506.4,374.6 503.6,379.3 500.8,383.1 498.9,387.8 496.1,385.9 497.0,381.2 499.8,376.5 502.7,372.7 505.5,368.0 508.3,362.4ZM508.3,378.4 513.9,375.6 518.6,374.6 521.5,376.5 520.5,382.1 515.8,385.0 510.2,385.9 507.4,384.0ZM517.7,329.5 523.3,328.5 529.9,327.6 534.6,330.4 536.5,337.0 539.9,338.9 539.9,355.8 534.6,353.9 529.9,349.2 523.3,348.3 519.6,344.5 517.7,339.8ZM519.6,348.3 525.2,348.3 529.9,353.9 530.9,361.5 532.8,368.0 534.6,374.6 535.6,378.4 530.9,375.6 528.1,370.9 525.2,365.2 523.3,359.6 519.6,355.8 518.6,352.0ZM498.0,329.5 500.8,330.4 506.4,335.1 510.2,338.9 513.0,344.5 510.2,343.6 504.5,339.8 499.8,336.1 497.0,341.7 496.1,337.9 498.0,334.2ZM513.9,302.2 515.8,300.3 517.7,302.2 518.6,306.9 516.8,310.7 513.9,309.7 513.0,306.0ZM492.3,319.1 495.1,318.2 498.9,323.8 500.8,326.7 498.0,325.7 494.2,322.9ZM504.5,327.6 506.4,328.5 507.4,333.2 505.5,334.2 504.1,331.4ZM454.2,300.8 455.6,300.8 455.6,302.2 454.2,302.2ZM467.4,322.4 468.6,322.4 468.6,323.6 467.4,323.6ZM474.3,322.0 475.6,322.0 475.6,325.7 474.3,325.7ZM461.3,337.0 464.1,337.9 466.0,342.2 463.6,342.6ZM453.3,355.3 454.5,355.3 454.5,356.6 453.3,356.6ZM454.9,361.6 456.2,361.6 456.2,363.0 454.9,363.0ZM431.2,349.2 433.1,349.2 433.3,351.1 431.4,351.1ZM502.2,392.0 505.0,391.5 505.7,394.8 502.7,395.1ZM522.4,392.5 524.8,392.3 525.2,395.3 522.9,395.3ZM478.0,328.4 480.1,328.4 480.1,330.4 478.0,330.4ZM434.0,335.1 437.8,334.2 442.5,338.9 440.6,344.5 434.9,346.4ZM431.2,366.2 435.4,366.6 435.9,369.0 431.7,369.0ZM456.6,293.7 460.3,292.3 463.2,294.7 461.3,297.5 457.5,297.5ZM473.8,435.5 472.3,430.8 475.4,424.5 476.2,418.2 480.1,415.1 486.4,414.3 492.6,412.0 494.2,406.5 500.5,403.3 505.2,404.1 508.3,407.3 509.1,412.0 506.7,415.1 513.0,413.5 517.7,407.3 522.4,402.6 527.1,397.9 533.4,394.7 538.1,391.6 541.2,388.5 539.6,382.2 542.8,380.6 545.9,383.8 547.5,386.9 550.6,390.0 553.7,396.3 554.5,404.1 555.3,412.0 556.1,419.8 560.0,426.1 558.4,430.8 555.3,435.5 552.2,438.6 550.6,443.3 552.2,448.0 549.0,440.2 547.5,433.9 544.3,430.8 541.2,432.3 539.6,437.0 538.1,441.7 541.2,446.4 542.8,452.7 541.2,459.0 538.1,463.7 534.9,460.5 533.4,455.8 530.2,457.4 525.5,455.8 520.8,454.3 516.1,451.1 513.0,446.4 511.4,440.2 511.4,433.9 514.6,429.2 511.4,424.5 505.2,421.4 498.9,421.4 492.6,422.9 487.9,426.1 484.8,424.5 481.7,427.6 480.1,433.9 477.0,435.5ZM525.5,369.7 531.8,368.1 534.9,374.4 533.4,379.1 528.7,377.5ZM545.9,379.1 550.6,377.5 552.2,383.8 547.5,385.3ZM470.7,441.7 477.0,440.2 480.1,443.3 475.4,446.4 470.7,444.9ZM502.3,392.4 505.2,392.4 505.2,395.0 502.3,395.0ZM515.3,417.4 517.4,417.4 517.4,419.8 515.3,419.8ZM524.9,440.9 526.5,440.9 526.5,442.5 524.9,442.5ZM536.5,464.3 538.4,464.3 538.4,466.2 536.5,466.2ZM561.6,484.0 564.7,482.5 565.5,490.3 563.1,496.6 560.8,493.4ZM538.1,498.1 540.4,497.3 542.4,502.8 539.6,504.4ZM536.7,514.7 538.1,514.7 538.1,516.1 536.7,516.1ZM536.7,522.6 538.1,522.6 538.1,524.0 536.7,524.0ZM535.9,527.3 537.3,527.3 537.3,528.7 535.9,528.7ZM554.7,541.4 556.1,541.4 556.1,542.8 554.7,542.8ZM520.8,538.9 525.5,535.7 527.1,538.9 522.4,542.0ZM164.1,510.3 167.2,509.8 167.7,513.3 165.3,514.3ZM173.9,503.9 177.1,503.7 177.3,508.8 175.1,509.3ZM174.1,514.8 175.6,514.8 175.6,516.3 174.1,516.3ZM203.8,510.8 205.0,510.8 205.0,512.0 203.8,512.0ZM223.5,510.6 225.5,510.6 225.7,514.3 223.7,514.0ZM226.5,519.5 229.5,519.7 229.3,521.2 226.7,520.9ZM197.4,547.9 200.8,547.4 201.0,549.2 197.7,549.4ZM169.0,509.8 170.2,509.8 170.2,511.0 169.0,511.0ZM134.8,513.6 137.8,513.6 137.8,516.9 134.8,516.9ZM134.4,524.2 135.8,524.2 135.8,525.2 134.4,525.2ZM126.7,546.4 131.7,544.4 135.6,546.4 137.6,551.3 135.6,556.3 130.7,553.3 126.7,552.3ZM139.6,543.4 144.5,544.4 146.5,549.4 145.5,553.3 141.5,552.3 140.1,548.4ZM119.8,547.4 123.8,546.4 124.7,551.3 121.8,554.3 118.8,552.3ZM111.9,547.4 114.9,548.4 117.8,553.3 114.9,556.3 111.9,555.3ZM135.6,559.2 139.6,560.2 141.5,564.2 138.6,566.2 136.1,564.2ZM147.5,547.4 148.7,547.4 148.7,548.6 147.5,548.6ZM221.1,551.8 222.4,551.8 222.4,553.1 221.1,553.1ZM193.4,564.0 194.4,564.0 194.4,565.0 193.4,565.0ZM359.6,6.7 362.9,4.5 364.0,10.0 361.8,14.4 366.2,15.5 369.5,14.4 372.7,16.6 370.6,22.0 367.3,23.1 364.0,18.8 360.7,14.4 358.5,11.1ZM361.8,26.4 365.1,25.3 368.4,27.5 366.2,29.7 362.9,29.7ZM425.4,120.2 427.6,120.2 427.6,122.4 425.4,122.4ZM292.6,14.2 294.9,13.5 295.6,15.7 293.4,16.2ZM299.5,24.2 301.0,24.2 301.0,25.7 299.5,25.7ZM307.5,1.6 310.5,0.8 312.0,3.8 309.0,4.6ZM2.2,540.8 6.7,539.7 11.2,542.0 15.7,546.5 17.4,549.9 15.7,555.5 13.4,556.7 11.2,553.3 7.8,547.6 4.4,543.1ZM29.3,563.4 33.8,563.7 34.9,565.1 30.4,565.7ZM27.0,535.8 31.0,535.2 33.8,536.9 31.5,538.4 27.6,537.7ZM94.7,538.0 101.5,537.7 104.3,540.8 101.5,542.0 97.0,540.3ZM104.9,546.5 110.6,545.4 115.1,548.7 117.3,553.3 113.9,555.5 109.4,552.1 106.0,549.9ZM120.2,547.6 123.0,546.5 124.1,553.3 121.8,555.5 119.6,552.1ZM127.5,547.6 135.4,545.4 143.3,544.2 145.6,548.7 141.0,553.3 135.4,555.5 129.8,553.3ZM85.7,544.8 87.1,544.8 87.1,546.2 85.7,546.2ZM98.7,553.8 100.1,553.8 100.1,555.0 98.7,555.0ZM446.5,217.7 451.2,215.7 457.5,215.7 461.4,217.7 465.4,219.7 467.7,221.6 471.6,222.0 474.8,220.8 476.3,216.9 478.7,218.5 480.2,221.6 477.9,224.7 477.1,227.9 476.3,231.8 477.9,237.3 481.0,240.4 482.6,242.8 483.4,245.9 481.8,249.8 479.5,253.7 477.1,257.7 475.5,260.8 473.2,261.6 470.1,262.4 466.9,263.9 465.4,266.3 466.1,269.4 464.6,272.6 463.0,275.7 462.2,278.0 463.8,280.4 464.6,283.5 466.1,286.7 445.8,294.5 443.4,292.9 441.8,289.8 439.5,287.4 437.9,285.9 437.1,282.7 436.4,278.0 434.8,274.1 434.0,269.4 433.2,265.5 431.7,264.7 431.7,260.0 432.4,258.1 434.0,257.7 436.4,260.0 438.7,262.4 441.8,262.4 443.4,260.8 442.6,257.7 441.8,254.5 442.2,251.4 443.4,247.5 443.4,243.6 444.2,239.6 442.6,236.5 443.4,233.4 445.0,229.4 445.8,225.5 446.9,221.6 446.5,217.7ZM64.6,312.6 75.9,312.1 73.5,323.8 77.7,327.6Z"/>
<use href="#coast"/>
<use href="#grid"/>
</g>
<use href="#axes"/>
</g>
<text transform="translate(732.6,24.1) scale(0.94,1)" font-size="29.6" font-weight="bold" style="font-family:'Liberation Sans',sans-serif">B</text>
<text x="1029.0" y="23.0" font-size="20" font-weight="bold" text-anchor="middle">2100</text>
<g transform="translate(48.1,691.9)">
<g clip-path="url(#clp)">
<defs><clipPath id="hC"><path d="M446.9,53.0 443.9,50.7 439.5,55.2 436.5,58.9 432.0,61.2 429.0,65.6 427.5,70.1 429.0,74.6 426.8,80.5 423.1,83.5 420.1,89.4 415.6,92.4 411.2,96.9 406.7,101.4 402.2,104.3 397.8,105.8 394.0,110.3 388.8,114.8 384.4,119.2 379.9,123.4 379.9,120.2 376.1,122.8 374.1,125.5 371.4,128.2 370.0,132.9 367.4,133.6 365.4,132.9 362.7,134.9 359.3,136.3 356.6,136.9 354.6,135.6 351.3,136.3 350.6,138.3 348.6,138.3 347.3,135.6 343.2,136.3 339.2,138.9 337.9,136.6 335.9,136.9 332.5,138.9 331.2,140.3 327.8,141.3 322.4,141.6 319.8,141.3 318.4,138.3 315.7,136.6 314.4,133.6 313.1,131.2 310.7,130.6 312.4,133.6 314.1,136.3 314.4,139.6 314.1,143.0 314.4,145.6 314.1,148.3 311.7,149.7 309.0,151.0 307.0,153.7 305.0,154.4 302.3,153.0 299.6,154.4 297.0,156.4 295.0,158.0 292.9,157.4 291.6,155.0 290.3,157.0 288.3,156.0 284.9,155.4 284.9,154.3 282.4,155.0 279.7,156.6 277.1,157.6 274.4,159.7 271.7,159.7 269.0,161.0 266.3,160.7 263.6,161.7 260.3,163.0 258.3,163.7 256.3,165.0 254.3,165.7 253.6,168.4 251.6,169.7 249.6,171.1 250.2,173.1 252.9,173.7 253.6,175.7 254.9,177.8 256.3,180.4 254.9,183.1 252.3,184.1 248.9,184.5 245.5,183.8 244.9,180.4 242.9,178.4 241.5,175.7 240.5,172.4 240.9,168.4 241.5,165.7 243.5,163.0 245.5,162.3 244.9,161.7 242.2,160.3 239.5,159.0 238.2,157.0 236.8,160.7 232.8,162.0 229.5,162.0 230.1,159.0 227.4,158.6 224.8,156.6 222.8,156.6 220.7,155.6 219.4,153.6 218.1,154.3 215.4,157.6 212.7,158.3 210.0,159.7 207.3,160.3 204.6,161.0 201.3,163.0 198.6,164.3 196.6,166.4 193.9,169.7 189.9,171.7 189.7,171.1 185.9,171.1 183.1,172.1 182.0,175.8 180.3,180.1 178.4,183.8 174.7,187.6 170.9,190.4 169.0,193.2 167.1,197.0 166.2,200.8 165.3,204.5 163.6,208.3 165.3,212.0 167.1,215.8 170.0,219.6 173.7,222.4 178.4,225.2 180.3,229.0 179.5,231.8 181.2,235.6 184.1,239.3 188.8,243.1 191.6,246.8 195.3,250.6 200.1,253.4 204.8,256.3 209.5,259.1 211.9,260.5 214.2,264.1 216.1,267.8 218.9,271.6 222.7,274.4 225.0,276.3 226.0,280.1 227.4,285.7 229.3,291.4 231.1,297.0 232.6,302.6 233.0,308.3 233.5,313.9 234.4,319.6 236.3,323.3 234.9,325.2 233.0,328.0 232.1,332.7 231.6,337.4 231.1,342.1 229.7,345.9 227.4,349.7 224.6,352.5 220.8,354.4 217.0,356.3 213.3,359.1 209.5,361.9 204.8,364.7 200.1,368.1 195.9,369.0 192.2,370.7 189.4,370.7 186.5,371.6 184.7,375.4 182.8,379.1 180.9,382.9 180.9,385.7 179.0,387.1 175.3,387.6 174.3,389.5 170.6,391.4 165.8,393.2 162.1,395.1 160.2,397.0 158.3,400.8 155.5,403.6 151.7,405.0 148.0,405.7 146.1,404.5 148.0,402.6 148.9,400.8 148.5,397.0 148.5,392.3 148.9,385.7 148.9,382.0 152.7,380.1 153.2,378.2 150.8,376.3 148.0,374.9 145.6,373.5 143.3,371.6 141.9,370.2 139.5,369.7 136.7,370.7 134.3,373.0 132.9,376.3 131.5,377.3 130.1,374.4 128.2,371.6 125.4,367.8 123.5,365.0 122.6,362.2 120.7,360.3 117.9,362.2 116.0,360.3 115.1,355.6 114.1,351.9 113.2,348.1 111.6,345.5 109.7,341.7 106.9,337.0 105.0,335.1 101.2,333.2 98.4,331.4 94.7,329.5 90.0,326.7 86.2,327.6 83.4,328.5 79.6,327.6 75.8,327.6 72.1,326.7 73.5,323.8 74.0,320.1 74.9,316.3 75.8,312.6 73.0,311.6 68.3,310.7 64.6,311.6 60.8,312.1 58.0,313.5 56.1,316.3 58.0,319.1 57.0,323.8 56.1,328.5 56.1,333.2 55.2,337.9 53.3,342.6 51.4,346.4 49.5,350.2 47.6,354.9 46.7,360.5 43.9,365.2 42.0,369.9 41.1,374.6 41.1,380.3 41.1,385.0 42.0,389.7 42.9,392.5 46.7,392.5 49.5,391.5 52.3,391.5 54.2,394.4 55.2,398.1 56.1,401.9 58.0,404.7 59.9,408.1 61.3,413.5 63.0,420.0 64.6,425.5 66.8,431.0 71.2,435.4 76.7,437.6 81.1,437.0 85.5,438.7 88.8,443.1 92.1,447.5 96.5,450.8 99.7,450.8 103.0,454.1 106.3,457.3 110.7,460.6 115.1,465.0 118.4,470.5 120.6,474.9 122.2,481.5 122.2,488.1 121.1,493.6 120.6,499.0 121.7,503.4 121.7,510.0 122.8,514.4 127.2,517.7 130.5,521.0 132.7,526.5 134.9,530.9 137.0,535.2 138.1,538.1 138.6,541.5 144.5,544.4 151.4,546.9 161.3,550.4 171.2,553.3 181.1,555.8 190.9,557.1 200.8,557.6 210.7,557.9 220.6,558.3 225.5,558.5 226.0,557.6 225.5,552.1 226.0,546.6 226.6,542.2 228.2,537.8 230.4,534.5 233.7,531.2 237.0,530.7 239.2,529.6 239.8,532.3 241.4,534.5 245.8,536.2 250.2,535.6 254.6,535.1 259.0,537.3 263.3,537.8 266.6,537.3 267.7,533.4 268.8,529.0 269.9,524.7 271.0,520.3 272.1,517.0 276.5,514.8 280.9,513.7 285.3,513.1 289.7,512.0 295.2,510.9 300.6,509.3 305.0,506.0 308.3,501.6 311.6,497.2 316.0,492.8 319.3,488.4 321.5,483.0 322.6,481.3 327.0,480.8 331.4,478.6 335.8,475.8 339.0,473.6 341.9,472.0 346.2,467.7 351.6,462.2 357.1,457.8 361.5,452.3 365.9,446.8 370.3,441.4 374.1,442.5 375.8,438.1 379.9,420.1 383.7,407.1 383.7,405.7 387.6,400.2 391.5,396.3 397.0,392.0 400.1,390.0 404.8,384.5 408.7,381.4 411.9,377.5 415.8,373.6 418.1,369.6 421.3,367.3 422.8,364.9 423.6,362.6 425.2,357.9 426.8,353.2 427.4,351.3 438.7,340.8 450.0,326.7 465.0,306.9 481.0,290.0 513.2,257.7 552.9,212.6 552.9,63.1 546.9,55.1 448.3,52.8Z"/></clipPath></defs><g clip-path="url(#hC)"><path fill="#fed976" d="M446.9,53.0 443.9,50.7 439.5,55.2 436.5,58.9 432.0,61.2 429.0,65.6 427.5,70.1 429.0,74.6 426.8,80.5 423.1,83.5 420.1,89.4 415.6,92.4 411.2,96.9 406.7,101.4 402.2,104.3 397.8,105.8 394.0,110.3 388.8,114.8 384.4,119.2 379.9,123.4 379.9,120.2 376.1,122.8 374.1,125.5 371.4,128.2 370.0,132.9 367.4,133.6 365.4,132.9 362.7,134.9 359.3,136.3 356.6,136.9 354.6,135.6 351.3,136.3 350.6,138.3 348.6,138.3 347.3,135.6 343.2,136.3 339.2,138.9 337.9,136.6 335.9,136.9 332.5,138.9 331.2,140.3 327.8,141.3 322.4,141.6 319.8,141.3 318.4,138.3 315.7,136.6 314.4,133.6 313.1,131.2 310.7,130.6 312.4,133.6 314.1,136.3 314.4,139.6 314.1,143.0 314.4,145.6 314.1,148.3 311.7,149.7 309.0,151.0 307.0,153.7 305.0,154.4 302.3,153.0 299.6,154.4 297.0,156.4 295.0,158.0 292.9,157.4 291.6,155.0 290.3,157.0 288.3,156.0 284.9,155.4 284.9,154.3 282.4,155.0 279.7,156.6 277.1,157.6 274.4,159.7 271.7,159.7 269.0,161.0 266.3,160.7 263.6,161.7 260.3,163.0 258.3,163.7 256.3,165.0 254.3,165.7 253.6,168.4 251.6,169.7 249.6,171.1 250.2,173.1 252.9,173.7 253.6,175.7 254.9,177.8 256.3,180.4 254.9,183.1 252.3,184.1 248.9,184.5 245.5,183.8 244.9,180.4 242.9,178.4 241.5,175.7 240.5,172.4 240.9,168.4 241.5,165.7 243.5,163.0 245.5,162.3 244.9,161.7 242.2,160.3 239.5,159.0 238.2,157.0 236.8,160.7 232.8,162.0 229.5,162.0 230.1,159.0 227.4,158.6 224.8,156.6 222.8,156.6 220.7,155.6 219.4,153.6 218.1,154.3 215.4,157.6 212.7,158.3 210.0,159.7 207.3,160.3 204.6,161.0 201.3,163.0 198.6,164.3 196.6,166.4 193.9,169.7 189.9,171.7 189.7,171.1 185.9,171.1 183.1,172.1 182.0,175.8 180.3,180.1 178.4,183.8 174.7,187.6 170.9,190.4 169.0,193.2 167.1,197.0 166.2,200.8 165.3,204.5 163.6,208.3 165.3,212.0 167.1,215.8 170.0,219.6 173.7,222.4 178.4,225.2 180.3,229.0 179.5,231.8 181.2,235.6 184.1,239.3 188.8,243.1 191.6,246.8 195.3,250.6 200.1,253.4 204.8,256.3 209.5,259.1 211.9,260.5 214.2,264.1 216.1,267.8 218.9,271.6 222.7,274.4 225.0,276.3 226.0,280.1 227.4,285.7 229.3,291.4 231.1,297.0 232.6,302.6 233.0,308.3 233.5,313.9 234.4,319.6 236.3,323.3 234.9,325.2 233.0,328.0 232.1,332.7 231.6,337.4 231.1,342.1 229.7,345.9 227.4,349.7 224.6,352.5 220.8,354.4 217.0,356.3 213.3,359.1 209.5,361.9 204.8,364.7 200.1,368.1 195.9,369.0 192.2,370.7 189.4,370.7 186.5,371.6 184.7,375.4 182.8,379.1 180.9,382.9 180.9,385.7 179.0,387.1 175.3,387.6 174.3,389.5 170.6,391.4 165.8,393.2 162.1,395.1 160.2,397.0 158.3,400.8 155.5,403.6 151.7,405.0 148.0,405.7 146.1,404.5 148.0,402.6 148.9,400.8 148.5,397.0 148.5,392.3 148.9,385.7 148.9,382.0 152.7,380.1 153.2,378.2 150.8,376.3 148.0,374.9 145.6,373.5 143.3,371.6 141.9,370.2 139.5,369.7 136.7,370.7 134.3,373.0 132.9,376.3 131.5,377.3 130.1,374.4 128.2,371.6 125.4,367.8 123.5,365.0 122.6,362.2 120.7,360.3 117.9,362.2 116.0,360.3 115.1,355.6 114.1,351.9 113.2,348.1 111.6,345.5 109.7,341.7 106.9,337.0 105.0,335.1 101.2,333.2 98.4,331.4 94.7,329.5 90.0,326.7 86.2,327.6 83.4,328.5 79.6,327.6 75.8,327.6 72.1,326.7 73.5,323.8 74.0,320.1 74.9,316.3 75.8,312.6 73.0,311.6 68.3,310.7 64.6,311.6 60.8,312.1 58.0,313.5 56.1,316.3 58.0,319.1 57.0,323.8 56.1,328.5 56.1,333.2 55.2,337.9 53.3,342.6 51.4,346.4 49.5,350.2 47.6,354.9 46.7,360.5 43.9,365.2 42.0,369.9 41.1,374.6 41.1,380.3 41.1,385.0 42.0,389.7 42.9,392.5 46.7,392.5 49.5,391.5 52.3,391.5 54.2,394.4 55.2,398.1 56.1,401.9 58.0,404.7 59.9,408.1 61.3,413.5 63.0,420.0 64.6,425.5 66.8,431.0 71.2,435.4 76.7,437.6 81.1,437.0 85.5,438.7 88.8,443.1 92.1,447.5 96.5,450.8 99.7,450.8 103.0,454.1 106.3,457.3 110.7,460.6 115.1,465.0 118.4,470.5 120.6,474.9 122.2,481.5 122.2,488.1 121.1,493.6 120.6,499.0 121.7,503.4 121.7,510.0 122.8,514.4 127.2,517.7 130.5,521.0 132.7,526.5 134.9,530.9 137.0,535.2 138.1,538.1 138.6,541.5 144.5,544.4 151.4,546.9 161.3,550.4 171.2,553.3 181.1,555.8 190.9,557.1 200.8,557.6 210.7,557.9 220.6,558.3 225.5,558.5 226.0,557.6 225.5,552.1 226.0,546.6 226.6,542.2 228.2,537.8 230.4,534.5 233.7,531.2 237.0,530.7 239.2,529.6 239.8,532.3 241.4,534.5 245.8,536.2 250.2,535.6 254.6,535.1 259.0,537.3 263.3,537.8 266.6,537.3 267.7,533.4 268.8,529.0 269.9,524.7 271.0,520.3 272.1,517.0 276.5,514.8 280.9,513.7 285.3,513.1 289.7,512.0 295.2,510.9 300.6,509.3 305.0,506.0 308.3,501.6 311.6,497.2 316.0,492.8 319.3,488.4 321.5,483.0 322.6,481.3 327.0,480.8 331.4,478.6 335.8,475.8 339.0,473.6 341.9,472.0 346.2,467.7 351.6,462.2 357.1,457.8 361.5,452.3 365.9,446.8 370.3,441.4 374.1,442.5 375.8,438.1 379.9,420.1 383.7,407.1 383.7,405.7 387.6,400.2 391.5,396.3 397.0,392.0 400.1,390.0 404.8,384.5 408.7,381.4 411.9,377.5 415.8,373.6 418.1,369.6 421.3,367.3 422.8,364.9 423.6,362.6 425.2,357.9 426.8,353.2 427.4,351.3 438.7,340.8 450.0,326.7 465.0,306.9 481.0,290.0 513.2,257.7 552.9,212.6 552.9,63.1 546.9,55.1 448.3,52.8Z"/><path fill="#feba55" d="M325.2,144.5 325.2,150.1 326.6,158.6 323.8,165.6 315.3,171.3 311.1,178.3 304.0,183.3 295.6,182.5 290.6,184.0 287.8,191.0 288.5,199.5 291.3,209.3 299.8,210.1 308.3,210.8 313.2,215.0 316.0,224.9 318.8,237.6 321.0,251.7 320.3,263.0 317.4,271.4 311.8,277.8 304.0,281.3 295.6,282.7 287.1,283.4 281.5,284.1 277.2,286.9 275.8,298.2 273.0,310.9 264.5,318.0 250.4,323.6 236.3,326.4 236.7,327.5 245.6,336.5 247.8,347.6 241.1,358.8 232.2,372.2 223.3,385.6 212.1,399.0 200.9,410.2 192.0,419.1 178.6,430.3 165.2,439.2 154.0,450.4 145.1,461.5 142.8,472.7 142.8,486.1 147.3,490.6 151.8,492.8 154.0,506.2 156.2,519.6 156.2,535.3 158.5,548.7 158.9,575.5 171.4,575.5 171.9,550.9 174.1,535.3 174.1,519.6 178.6,515.2 185.3,526.3 189.8,542.0 192.0,555.4 192.4,575.5 207.2,575.5 207.6,556.5 209.9,542.0 214.3,521.9 221.0,504.0 230.0,492.8 245.6,488.4 261.2,488.4 274.6,490.6 284.9,481.7 284.9,479.4 298.3,479.4 311.7,470.5 329.6,461.5 347.4,450.4 360.8,441.4 369.8,434.7 377.6,425.8 395.0,420.0 460.0,400.0 620.0,400.0 620.0,-10.0 330.0,-10.0Z"/><path fill="#fed976" d="M447.9,53.7 483.7,53.7 474.8,62.6 470.3,71.6 470.3,85.0 472.5,93.9 454.6,107.3 439.0,120.7 427.8,125.2 423.4,129.6 416.7,134.1 401.0,137.5 387.6,139.7 372.0,138.6 369.8,134.1 351.9,111.8 396.6,44.8Z"/><path fill="#feba55" d="M441.2,57.1 449.1,57.1 452.0,64.9 450.2,71.1 442.4,70.5 439.0,64.9Z"/><path fill="#fed976" d="M336.3,143.0 349.7,145.3 358.6,147.5 367.5,152.0 366.4,158.7 356.4,163.1 345.2,164.3 338.5,158.7Z"/><path fill="#fed976" d="M366.4,217.9 373.1,216.8 377.6,223.5 378.7,236.9 375.4,246.9 368.7,248.0 364.2,241.3 363.5,227.9Z"/><path fill="#fed976" d="M349.7,255.8 356.4,254.7 359.7,263.7 358.6,277.1 356.8,285.1 359.9,254.5 359.9,271.4 354.8,277.1 352.7,288.3 351.3,297.5 349.2,295.4 348.5,284.1 346.4,272.8 346.4,261.5 346.3,285.1 346.3,268.1Z"/><path fill="#fed976" d="M405.5,196.7 423.4,194.9 441.2,194.4 459.1,195.5 477.0,196.7 481.5,198.9 477.0,203.4 459.1,204.5 441.2,205.6 423.4,205.1 405.5,202.2 403.3,199.3Z"/><path fill="#feba55" d="M288.5,226.3 295.6,224.2 302.6,227.0 304.0,234.7 303.3,246.0 306.2,257.3 302.6,264.4 295.6,268.6 288.5,265.8 285.7,257.3 286.4,241.8Z"/><path fill="#feba55" d="M171.4,185.4 179.9,184.0 185.5,192.4 187.7,209.3 188.4,223.5 190.5,237.6 182.7,234.7 171.4,229.1Z"/><path fill="#feba55" d="M171.9,185.5 183.1,184.4 187.5,194.4 188.6,212.3 189.8,225.7 190.9,241.3 185.3,240.2 178.6,230.2 174.1,219.0 169.6,207.8 167.4,196.7Z"/><path fill="#feba55" d="M189.8,174.8 196.8,173.4 204.6,175.5 205.3,183.3 196.8,184.7 189.8,183.3Z"/><path fill="#feba55" d="M210.2,230.5 216.6,228.4 222.9,229.8 224.3,241.8 225.0,257.3 225.0,277.1 220.8,274.2 215.2,263.0 210.9,251.7 209.5,239.0Z"/><path fill="#feba55" d="M253.3,236.9 256.8,236.2 260.3,241.8 259.6,247.4 255.4,246.7 252.5,241.8Z"/><path fill="#feba55" d="M258.2,174.1 262.4,174.8 264.5,185.4 264.5,205.1 260.3,205.1 258.2,192.4Z"/><path fill="#feba55" d="M248.3,295.4 254.0,294.7 259.6,299.6 256.8,303.9 251.1,303.2Z"/><path fill="#feba55" d="M247.8,295.2 256.8,294.0 260.1,299.6 254.5,303.4 248.3,301.9Z"/><path fill="#feba55" d="M268.3,495.1 277.9,493.9 289.9,492.7 291.1,498.1 287.5,503.5 277.9,507.1 270.7,507.1 265.9,503.5Z"/><path fill="#feba55" d="M66.9,323.1 84.8,326.4 95.9,329.8 99.3,337.6 73.6,336.9 69.1,332.0Z"/><path fill="#fd7435" d="M58.4,312.3 66.9,312.3 70.9,320.8 64.7,322.0 59.8,317.5Z"/><path fill="#f74327" d="M58.4,312.3 64.7,312.3 66.9,316.4 62.4,316.4Z"/><path fill="#feba55" d="M89.2,422.5 107.1,421.8 107.6,428.0 90.4,428.0Z"/><path fill="#feba55" d="M116.0,428.0 120.5,429.2 126.1,441.4 122.7,442.6Z"/><path fill="#fd9c42" d="M405.5,230.2 423.4,226.8 441.2,225.7 463.6,226.1 485.9,227.9 499.3,232.4 506.0,236.9 510.5,245.8 516.1,253.6 530.6,268.1 541.8,285.1 508.3,285.1 463.6,329.8 445.7,338.7 427.8,339.8 414.4,335.4 401.0,327.5 389.9,316.4 384.3,303.0 383.2,285.1 380.9,285.1 383.2,268.1 389.9,250.3 396.6,236.9Z"/><ellipse fill="#fd7435" cx="451.5" cy="289.7" rx="22.0" ry="19.0"/></g><path fill="#fff" d="M68.7,64.1 69.9,63.8 70.2,65.9 69.0,66.4ZM59.2,76.8 60.7,76.3 61.7,79.0 62.4,82.3 61.2,82.9 60.2,79.8ZM110.4,102.1 111.9,101.9 111.6,105.1 110.7,106.1ZM104.1,119.2 105.9,118.9 106.2,120.1 104.4,120.4ZM196.6,166.4 199.3,164.7 201.0,167.0 200.0,171.1 197.9,173.7 196.3,172.4ZM250.9,152.6 252.6,153.6 253.3,156.6 251.9,157.0ZM229.1,169.4 230.1,169.4 230.0,170.4 229.1,170.4ZM203.6,170.0 205.7,169.7 205.3,171.1 204.0,171.4ZM463.3,8.3 469.2,6.8 475.2,9.0 473.7,15.0 470.0,16.5 467.8,12.0ZM472.2,0.1 478.2,0.1 481.2,1.6 476.7,3.8ZM455.1,32.1 458.8,30.6 461.1,35.8 458.1,40.3 455.8,37.3ZM427.5,59.7 432.0,58.9 434.2,63.4 431.3,66.4 428.3,64.1ZM427.5,81.3 432.0,82.0 432.8,85.7 429.0,87.2ZM395.5,102.8 400.7,101.4 404.5,104.3 400.7,106.6ZM426.1,120.0 429.0,119.2 430.2,122.5 427.3,123.4ZM491.6,104.3 493.4,104.3 493.4,105.8 491.6,105.8ZM506.5,106.1 509.4,105.5 511.7,108.1 508.0,108.8ZM513.9,105.1 517.6,103.6 517.2,106.6 514.7,107.0ZM523.1,101.1 524.6,101.1 524.6,102.2 523.1,102.2ZM532.5,97.6 535.5,96.9 538.0,99.6 534.8,100.6ZM562.5,68.3 563.9,68.3 563.9,69.8 562.5,69.8ZM463.3,138.3 464.8,138.3 464.8,139.8 463.3,139.8ZM464.0,149.7 466.0,150.2 465.5,151.7 464.0,151.2ZM469.8,173.6 471.3,173.6 471.0,176.5 469.8,176.1ZM471.0,181.0 473.7,180.0 473.4,182.5 471.0,184.4ZM465.5,88.7 469.2,90.9 473.0,93.9 470.7,96.1 471.5,101.4 469.2,107.3 467.0,113.3 465.5,119.2 464.8,125.2 462.5,131.1 458.8,135.6 455.1,140.1 453.6,144.5 452.9,149.0 452.1,152.7 449.1,152.7 448.4,147.5 445.4,143.0 442.4,138.6 440.2,134.1 438.0,131.1 438.7,125.2 438.7,120.7 441.7,116.2 445.4,110.3 449.9,104.3 454.4,98.4 457.3,93.9 461.8,91.7ZM325.1,143.0 327.8,142.6 327.1,144.3 325.5,144.6ZM294.3,158.0 298.3,156.7 300.7,157.7 299.3,159.7 295.0,159.4ZM329.8,116.1 333.2,114.1 335.9,115.5 334.5,118.2 330.5,118.5ZM196.3,166.0 200.1,164.1 204.8,161.3 209.5,159.9 208.5,163.1 201.0,166.9 199.1,172.6 196.3,173.5ZM182.2,170.2 186.9,170.2 191.1,173.5 189.7,175.8 185.0,173.5ZM204.3,170.2 205.7,170.2 205.7,171.1 204.3,171.1ZM135.2,242.1 136.6,242.6 137.5,244.0 136.1,244.5ZM102.2,249.7 106.0,249.7 106.0,254.4 104.6,252.0ZM122.0,251.1 123.9,250.6 122.9,253.0 121.2,253.9ZM221.1,202.0 224.5,199.7 227.9,197.5 230.7,195.2 230.7,193.5 233.0,191.8 235.8,192.4 238.0,190.7 241.4,189.6 244.8,190.1 247.1,190.7 249.9,189.0 252.7,188.4 255.5,189.0 257.8,190.1 259.5,187.0 261.7,189.0 264.6,189.6 265.7,192.9 266.3,196.3 264.0,196.9 261.7,198.6 259.5,201.4 258.4,204.2 257.2,207.1 256.1,209.9 255.8,212.1 254.4,213.8 251.6,215.0 248.8,217.2 247.1,219.5 244.2,220.0 242.0,221.7 240.9,223.4 238.6,224.0 236.3,222.9 233.5,221.7 230.1,221.2 227.3,220.0 224.5,218.9 221.7,217.8 221.1,215.0 220.5,212.1 220.5,207.6 220.8,204.2ZM237.2,200.8 238.6,200.8 240.3,202.3 238.0,202.5ZM203.0,170.4 205.3,169.8 205.9,170.6 204.2,171.5ZM229.0,169.5 230.1,169.5 229.8,170.6 229.1,170.4ZM219.7,341.7 221.0,341.7 221.0,342.9 219.7,342.9ZM130.1,369.7 132.9,369.3 134.3,373.0 132.9,376.8 131.1,376.3ZM122.0,391.2 123.3,391.2 123.3,392.3 122.0,392.3ZM180.9,402.6 183.0,401.7 182.8,403.8 181.4,404.3ZM144.7,381.5 145.6,381.5 145.6,382.4 144.7,382.4ZM127.6,317.3 131.9,315.4 131.9,324.8 128.5,321.0ZM55.2,385.9 58.0,385.9 58.0,389.7 55.6,389.7ZM56.6,382.1 58.2,382.6 58.0,384.0 56.6,383.8ZM52.8,375.6 54.2,376.0 54.0,377.4 52.8,377.3ZM50.0,386.4 51.2,386.7 50.9,387.8 50.0,387.6ZM121.9,391.1 123.1,391.1 123.1,392.3 121.9,392.3ZM100.3,337.0 102.7,337.9 102.2,340.8 100.8,340.3ZM104.5,344.5 105.9,345.5 105.5,348.3 104.5,347.3ZM14.7,298.4 15.8,298.6 15.7,299.9 14.7,299.6ZM17.1,304.6 18.3,304.8 18.1,306.4 17.1,306.2ZM21.3,303.1 23.7,303.6 23.2,309.7 21.3,308.8ZM15.7,324.8 16.8,325.0 16.6,326.2 15.7,325.9ZM18.0,332.3 21.3,332.8 20.8,337.0 18.5,335.1ZM23.2,327.6 26.0,326.7 27.9,329.5 26.9,333.2 24.1,332.3ZM26.0,340.8 30.7,340.8 34.5,344.5 30.7,348.3 26.9,346.4ZM19.4,343.6 20.8,344.1 20.4,347.3 19.2,346.4ZM21.3,349.2 23.7,349.7 23.2,353.0 21.3,352.0ZM16.1,360.5 17.5,361.0 17.4,362.4 16.1,362.2ZM20.4,359.6 22.2,360.5 21.8,363.3 20.2,362.4ZM27.9,357.7 32.6,358.2 31.6,362.4 28.4,363.3ZM17.1,368.0 19.0,368.5 18.5,370.4 17.1,369.9ZM21.3,374.6 23.7,375.1 23.2,378.4 21.1,377.4ZM25.1,380.3 28.8,380.7 27.9,383.1 25.5,383.1ZM23.7,393.4 26.0,393.9 26.5,398.1 24.1,397.7ZM11.9,342.2 12.8,342.2 12.8,343.6 11.9,343.6ZM28.4,514.4 31.7,513.3 35.0,516.6 38.3,521.0 40.5,523.2 36.1,523.7 32.8,519.9ZM24.6,413.5 27.3,412.4 27.9,420.0 24.6,420.6ZM28.4,410.2 31.7,409.1 32.3,416.8 29.5,417.8ZM48.2,444.2 51.5,442.0 53.7,446.4 51.5,449.7 49.3,447.5ZM59.1,420.0 60.5,420.0 60.5,421.4 59.1,421.4ZM64.6,426.6 66.8,427.2 67.0,432.1 64.9,431.6ZM60.2,463.9 63.0,464.5 63.0,468.3 60.5,467.8ZM70.7,491.9 73.4,492.5 73.2,495.2 71.0,494.7ZM80.5,510.0 82.4,510.6 82.2,513.5 80.5,513.1ZM109.1,455.4 110.2,455.4 110.2,456.5 109.1,456.5ZM113.5,457.6 114.6,457.6 114.6,458.7 113.5,458.7ZM135.1,513.5 136.8,513.9 136.5,516.0 135.1,515.7ZM134.3,523.7 135.7,524.1 135.4,525.2 134.3,524.9ZM83.3,529.8 88.8,528.1 90.4,533.1 86.6,536.3 83.3,534.2ZM8.4,256.1 12.1,254.3 13.5,256.1 11.2,259.9 8.8,259.0ZM54.0,204.9 55.2,204.9 55.2,205.9 54.0,205.9ZM102.4,249.6 106.6,250.0 105.7,254.3 104.3,252.4ZM126.7,316.8 129.5,315.8 133.3,317.7 136.1,321.5 138.9,325.2 140.8,329.0 138.0,329.9 134.2,327.1 130.5,324.3 127.6,321.5ZM101.3,249.5 106.0,250.0 105.1,254.7 104.1,251.9ZM121.1,251.9 124.3,250.9 122.9,253.7 120.6,254.2ZM208.5,490.6 212.9,487.9 216.7,493.9 214.0,498.3 210.1,499.4 207.9,495.0ZM206.8,478.0 208.5,477.7 208.3,479.7 206.8,479.4ZM203.5,510.9 205.0,510.9 205.0,512.0 203.5,512.0ZM223.3,510.4 225.2,510.6 225.5,514.2 223.6,513.9ZM226.9,519.4 229.3,520.0 229.1,521.1 226.9,520.5ZM221.1,551.9 222.5,551.9 222.5,553.2 221.1,553.2ZM270.1,515.9 272.1,515.3 273.2,520.3 271.0,521.4ZM284.7,548.2 288.6,547.7 289.7,552.1 286.4,553.7ZM383.7,405.7 387.6,400.2 391.5,396.3 397.0,392.0 400.1,390.0 404.8,384.5 408.7,381.4 411.9,377.5 415.8,373.6 418.1,369.6 421.3,367.3 422.8,364.9 423.6,362.6 425.2,357.9 426.8,353.2 427.4,351.6 429.4,354.1 428.4,358.1 428.9,361.1 426.8,362.6 428.3,364.2 429.9,366.5 429.1,369.6 426.0,371.2 422.8,373.6 420.5,377.5 415.8,378.3 412.7,379.8 411.9,383.7 409.5,387.7 406.4,392.4 403.2,393.9 400.1,395.5 397.8,399.4 394.6,401.8 391.5,403.3 387.6,404.9 383.7,408.0ZM421.3,359.1 425.2,352.5 429.0,355.8 428.5,362.4 425.2,363.5ZM430.6,367.8 433.9,366.2 436.1,367.3 433.4,369.5ZM431.2,349.7 432.8,349.7 432.8,351.4 431.2,351.4ZM453.7,355.8 455.0,355.8 455.0,356.9 453.7,356.9ZM455.0,361.8 456.4,361.8 456.4,362.9 455.0,362.9ZM378.0,416.1 380.2,413.9 380.7,418.3 379.1,420.0ZM382.4,410.6 385.1,410.1 385.7,412.8 382.9,413.1ZM406.5,434.8 407.8,434.8 407.8,436.1 406.5,436.1ZM452.6,454.5 459.2,452.3 465.8,453.4 471.9,451.2 471.9,455.6 463.6,456.7 457.0,457.8ZM444.9,449.0 449.3,446.8 451.5,448.5 447.1,451.2ZM450.4,462.2 453.7,461.1 454.2,463.3 450.9,463.5ZM465.8,441.4 468.0,442.5 471.9,441.4 471.9,444.7 469.0,444.7ZM431.7,469.9 440.5,466.6 442.7,469.9 437.2,472.1 431.7,472.1ZM424.1,476.5 426.8,475.9 427.1,479.2 424.6,479.5ZM431.7,474.3 433.7,474.3 433.7,477.3 431.7,477.3ZM388.5,487.6 391.4,484.7 395.4,486.6 396.4,490.6 392.4,492.6 389.4,490.6ZM381.5,499.5 386.5,498.5 391.4,500.5 395.4,501.9 391.4,506.4 386.5,505.4ZM407.7,525.2 410.2,525.7 409.7,528.1 408.0,527.6ZM424.5,475.8 426.5,474.8 427.0,478.7 425.0,479.7ZM431.9,471.8 438.8,467.4 442.8,469.8 440.8,471.8 433.9,473.8 431.9,473.8ZM432.4,476.3 433.7,476.3 433.7,477.5 432.4,477.5ZM452.7,456.0 456.6,453.0 461.6,454.0 466.5,453.0 472.4,452.1 471.9,455.0 466.5,456.0 460.6,457.0 456.6,458.0 453.7,457.5ZM444.3,450.6 445.8,450.1 445.6,451.6 444.3,451.9ZM462.2,201.2 464.6,200.8 465.4,203.2 463.4,204.0ZM459.1,205.9 459.9,205.5 460.3,207.9 459.5,207.9ZM459.9,210.2 463.0,209.9 463.8,211.0 460.7,211.4ZM470.8,209.9 473.2,208.3 474.0,209.9 471.6,212.2ZM472.4,198.1 474.0,198.1 473.6,199.3 472.6,199.3ZM470.1,282.7 474.8,282.3 474.8,286.7 473.2,290.2 471.6,289.0ZM456.0,292.9 459.1,292.1 462.2,294.5 463.8,296.1 460.7,296.8 457.5,295.3ZM436.4,304.6 440.6,305.5 443.4,309.3 439.6,308.3ZM442.5,312.6 448.1,311.6 455.6,312.6 461.3,315.4 465.0,320.1 464.1,325.7 463.2,330.4 460.3,334.2 456.6,336.1 453.8,332.3 451.9,327.6 450.9,322.9 449.1,318.2 445.3,315.4ZM470.7,311.6 474.4,310.7 476.3,313.5 474.4,316.3 471.2,315.4ZM482.4,331.4 485.7,330.4 487.1,333.2 484.8,334.2ZM474.4,328.5 476.3,327.6 475.4,335.1 472.6,342.6 476.3,344.5 482.0,347.3 485.7,348.3 491.4,349.2 495.1,350.2 495.1,355.8 491.4,359.6 487.6,361.5 484.8,363.3 481.0,365.2 476.3,367.1 472.6,369.9 472.6,363.3 473.5,353.9 474.4,344.5 471.6,343.6 472.6,337.0ZM493.3,359.6 500.8,360.5 502.7,363.3 500.8,368.0 498.0,372.7 496.1,377.4 495.1,382.1 496.1,386.8 498.0,391.5 495.1,395.3 491.4,395.3 488.6,391.5 485.7,389.7 482.0,385.9 481.0,381.2 483.8,378.4 488.6,377.4 489.5,372.7 488.6,368.0 487.6,363.3 490.4,361.5ZM510.2,353.9 512.5,355.8 511.6,363.3 509.2,369.9 506.4,374.6 503.6,379.3 500.8,383.1 498.9,387.8 496.1,385.9 497.0,381.2 499.8,376.5 502.7,372.7 505.5,368.0 508.3,362.4ZM508.3,378.4 513.9,375.6 518.6,374.6 521.5,376.5 520.5,382.1 515.8,385.0 510.2,385.9 507.4,384.0ZM517.7,329.5 523.3,328.5 529.9,327.6 534.6,330.4 536.5,337.0 539.9,338.9 539.9,355.8 534.6,353.9 529.9,349.2 523.3,348.3 519.6,344.5 517.7,339.8ZM519.6,348.3 525.2,348.3 529.9,353.9 530.9,361.5 532.8,368.0 534.6,374.6 535.6,378.4 530.9,375.6 528.1,370.9 525.2,365.2 523.3,359.6 519.6,355.8 518.6,352.0ZM498.0,329.5 500.8,330.4 506.4,335.1 510.2,338.9 513.0,344.5 510.2,343.6 504.5,339.8 499.8,336.1 497.0,341.7 496.1,337.9 498.0,334.2ZM513.9,302.2 515.8,300.3 517.7,302.2 518.6,306.9 516.8,310.7 513.9,309.7 513.0,306.0ZM492.3,319.1 495.1,318.2 498.9,323.8 500.8,326.7 498.0,325.7 494.2,322.9ZM504.5,327.6 506.4,328.5 507.4,333.2 505.5,334.2 504.1,331.4ZM454.2,300.8 455.6,300.8 455.6,302.2 454.2,302.2ZM467.4,322.4 468.6,322.4 468.6,323.6 467.4,323.6ZM474.3,322.0 475.6,322.0 475.6,325.7 474.3,325.7ZM461.3,337.0 464.1,337.9 466.0,342.2 463.6,342.6ZM453.3,355.3 454.5,355.3 454.5,356.6 453.3,356.6ZM454.9,361.6 456.2,361.6 456.2,363.0 454.9,363.0ZM431.2,349.2 433.1,349.2 433.3,351.1 431.4,351.1ZM502.2,392.0 505.0,391.5 505.7,394.8 502.7,395.1ZM522.4,392.5 524.8,392.3 525.2,395.3 522.9,395.3ZM478.0,328.4 480.1,328.4 480.1,330.4 478.0,330.4ZM434.0,335.1 437.8,334.2 442.5,338.9 440.6,344.5 434.9,346.4ZM431.2,366.2 435.4,366.6 435.9,369.0 431.7,369.0ZM456.6,293.7 460.3,292.3 463.2,294.7 461.3,297.5 457.5,297.5ZM473.8,435.5 472.3,430.8 475.4,424.5 476.2,418.2 480.1,415.1 486.4,414.3 492.6,412.0 494.2,406.5 500.5,403.3 505.2,404.1 508.3,407.3 509.1,412.0 506.7,415.1 513.0,413.5 517.7,407.3 522.4,402.6 527.1,397.9 533.4,394.7 538.1,391.6 541.2,388.5 539.6,382.2 542.8,380.6 545.9,383.8 547.5,386.9 550.6,390.0 553.7,396.3 554.5,404.1 555.3,412.0 556.1,419.8 560.0,426.1 558.4,430.8 555.3,435.5 552.2,438.6 550.6,443.3 552.2,448.0 549.0,440.2 547.5,433.9 544.3,430.8 541.2,432.3 539.6,437.0 538.1,441.7 541.2,446.4 542.8,452.7 541.2,459.0 538.1,463.7 534.9,460.5 533.4,455.8 530.2,457.4 525.5,455.8 520.8,454.3 516.1,451.1 513.0,446.4 511.4,440.2 511.4,433.9 514.6,429.2 511.4,424.5 505.2,421.4 498.9,421.4 492.6,422.9 487.9,426.1 484.8,424.5 481.7,427.6 480.1,433.9 477.0,435.5ZM525.5,369.7 531.8,368.1 534.9,374.4 533.4,379.1 528.7,377.5ZM545.9,379.1 550.6,377.5 552.2,383.8 547.5,385.3ZM470.7,441.7 477.0,440.2 480.1,443.3 475.4,446.4 470.7,444.9ZM502.3,392.4 505.2,392.4 505.2,395.0 502.3,395.0ZM515.3,417.4 517.4,417.4 517.4,419.8 515.3,419.8ZM524.9,440.9 526.5,440.9 526.5,442.5 524.9,442.5ZM536.5,464.3 538.4,464.3 538.4,466.2 536.5,466.2ZM561.6,484.0 564.7,482.5 565.5,490.3 563.1,496.6 560.8,493.4ZM538.1,498.1 540.4,497.3 542.4,502.8 539.6,504.4ZM536.7,514.7 538.1,514.7 538.1,516.1 536.7,516.1ZM536.7,522.6 538.1,522.6 538.1,524.0 536.7,524.0ZM535.9,527.3 537.3,527.3 537.3,528.7 535.9,528.7ZM554.7,541.4 556.1,541.4 556.1,542.8 554.7,542.8ZM520.8,538.9 525.5,535.7 527.1,538.9 522.4,542.0ZM164.1,510.3 167.2,509.8 167.7,513.3 165.3,514.3ZM173.9,503.9 177.1,503.7 177.3,508.8 175.1,509.3ZM174.1,514.8 175.6,514.8 175.6,516.3 174.1,516.3ZM203.8,510.8 205.0,510.8 205.0,512.0 203.8,512.0ZM223.5,510.6 225.5,510.6 225.7,514.3 223.7,514.0ZM226.5,519.5 229.5,519.7 229.3,521.2 226.7,520.9ZM197.4,547.9 200.8,547.4 201.0,549.2 197.7,549.4ZM169.0,509.8 170.2,509.8 170.2,511.0 169.0,511.0ZM134.8,513.6 137.8,513.6 137.8,516.9 134.8,516.9ZM134.4,524.2 135.8,524.2 135.8,525.2 134.4,525.2ZM126.7,546.4 131.7,544.4 135.6,546.4 137.6,551.3 135.6,556.3 130.7,553.3 126.7,552.3ZM139.6,543.4 144.5,544.4 146.5,549.4 145.5,553.3 141.5,552.3 140.1,548.4ZM119.8,547.4 123.8,546.4 124.7,551.3 121.8,554.3 118.8,552.3ZM111.9,547.4 114.9,548.4 117.8,553.3 114.9,556.3 111.9,555.3ZM135.6,559.2 139.6,560.2 141.5,564.2 138.6,566.2 136.1,564.2ZM147.5,547.4 148.7,547.4 148.7,548.6 147.5,548.6ZM221.1,551.8 222.4,551.8 222.4,553.1 221.1,553.1ZM193.4,564.0 194.4,564.0 194.4,565.0 193.4,565.0ZM359.6,6.7 362.9,4.5 364.0,10.0 361.8,14.4 366.2,15.5 369.5,14.4 372.7,16.6 370.6,22.0 367.3,23.1 364.0,18.8 360.7,14.4 358.5,11.1ZM361.8,26.4 365.1,25.3 368.4,27.5 366.2,29.7 362.9,29.7ZM425.4,120.2 427.6,120.2 427.6,122.4 425.4,122.4ZM292.6,14.2 294.9,13.5 295.6,15.7 293.4,16.2ZM299.5,24.2 301.0,24.2 301.0,25.7 299.5,25.7ZM307.5,1.6 310.5,0.8 312.0,3.8 309.0,4.6ZM2.2,540.8 6.7,539.7 11.2,542.0 15.7,546.5 17.4,549.9 15.7,555.5 13.4,556.7 11.2,553.3 7.8,547.6 4.4,543.1ZM29.3,563.4 33.8,563.7 34.9,565.1 30.4,565.7ZM27.0,535.8 31.0,535.2 33.8,536.9 31.5,538.4 27.6,537.7ZM94.7,538.0 101.5,537.7 104.3,540.8 101.5,542.0 97.0,540.3ZM104.9,546.5 110.6,545.4 115.1,548.7 117.3,553.3 113.9,555.5 109.4,552.1 106.0,549.9ZM120.2,547.6 123.0,546.5 124.1,553.3 121.8,555.5 119.6,552.1ZM127.5,547.6 135.4,545.4 143.3,544.2 145.6,548.7 141.0,553.3 135.4,555.5 129.8,553.3ZM85.7,544.8 87.1,544.8 87.1,546.2 85.7,546.2ZM98.7,553.8 100.1,553.8 100.1,555.0 98.7,555.0ZM446.5,217.7 451.2,215.7 457.5,215.7 461.4,217.7 465.4,219.7 467.7,221.6 471.6,222.0 474.8,220.8 476.3,216.9 478.7,218.5 480.2,221.6 477.9,224.7 477.1,227.9 476.3,231.8 477.9,237.3 481.0,240.4 482.6,242.8 483.4,245.9 481.8,249.8 479.5,253.7 477.1,257.7 475.5,260.8 473.2,261.6 470.1,262.4 466.9,263.9 465.4,266.3 466.1,269.4 464.6,272.6 463.0,275.7 462.2,278.0 463.8,280.4 464.6,283.5 466.1,286.7 445.8,294.5 443.4,292.9 441.8,289.8 439.5,287.4 437.9,285.9 437.1,282.7 436.4,278.0 434.8,274.1 434.0,269.4 433.2,265.5 431.7,264.7 431.7,260.0 432.4,258.1 434.0,257.7 436.4,260.0 438.7,262.4 441.8,262.4 443.4,260.8 442.6,257.7 441.8,254.5 442.2,251.4 443.4,247.5 443.4,243.6 444.2,239.6 442.6,236.5 443.4,233.4 445.0,229.4 445.8,225.5 446.9,221.6 446.5,217.7ZM64.6,312.6 75.9,312.1 73.5,323.8 77.7,327.6Z"/>
<use href="#coast"/>
<use href="#grid"/>
</g>
<use href="#axes"/>
</g>
<text transform="translate(51.3,684.0) scale(0.94,1)" font-size="29.6" font-weight="bold" style="font-family:'Liberation Sans',sans-serif">C</text>
<text x="346.4" y="682.9" font-size="20" font-weight="bold" text-anchor="middle">2200</text>
<g transform="translate(729.4,691.7)">
<g clip-path="url(#clp)">
<defs><clipPath id="hD"><path d="M446.9,53.0 443.9,50.7 439.5,55.2 436.5,58.9 432.0,61.2 429.0,65.6 427.5,70.1 429.0,74.6 426.8,80.5 423.1,83.5 420.1,89.4 415.6,92.4 411.2,96.9 406.7,101.4 402.2,104.3 397.8,105.8 394.0,110.3 388.8,114.8 384.4,119.2 379.9,123.4 379.9,120.2 376.1,122.8 374.1,125.5 371.4,128.2 370.0,132.9 367.4,133.6 365.4,132.9 362.7,134.9 359.3,136.3 356.6,136.9 354.6,135.6 351.3,136.3 350.6,138.3 348.6,138.3 347.3,135.6 343.2,136.3 339.2,138.9 337.9,136.6 335.9,136.9 332.5,138.9 331.2,140.3 327.8,141.3 322.4,141.6 319.8,141.3 318.4,138.3 315.7,136.6 314.4,133.6 313.1,131.2 310.7,130.6 312.4,133.6 314.1,136.3 314.4,139.6 314.1,143.0 314.4,145.6 314.1,148.3 311.7,149.7 309.0,151.0 307.0,153.7 305.0,154.4 302.3,153.0 299.6,154.4 297.0,156.4 295.0,158.0 292.9,157.4 291.6,155.0 290.3,157.0 288.3,156.0 284.9,155.4 284.9,154.3 282.4,155.0 279.7,156.6 277.1,157.6 274.4,159.7 271.7,159.7 269.0,161.0 266.3,160.7 263.6,161.7 260.3,163.0 258.3,163.7 256.3,165.0 254.3,165.7 253.6,168.4 251.6,169.7 249.6,171.1 250.2,173.1 252.9,173.7 253.6,175.7 254.9,177.8 256.3,180.4 254.9,183.1 252.3,184.1 248.9,184.5 245.5,183.8 244.9,180.4 242.9,178.4 241.5,175.7 240.5,172.4 240.9,168.4 241.5,165.7 243.5,163.0 245.5,162.3 244.9,161.7 242.2,160.3 239.5,159.0 238.2,157.0 236.8,160.7 232.8,162.0 229.5,162.0 230.1,159.0 227.4,158.6 224.8,156.6 222.8,156.6 220.7,155.6 219.4,153.6 218.1,154.3 215.4,157.6 212.7,158.3 210.0,159.7 207.3,160.3 204.6,161.0 201.3,163.0 198.6,164.3 196.6,166.4 193.9,169.7 189.9,171.7 189.7,171.1 185.9,171.1 183.1,172.1 182.0,175.8 180.3,180.1 178.4,183.8 174.7,187.6 170.9,190.4 169.0,193.2 167.1,197.0 166.2,200.8 165.3,204.5 163.6,208.3 165.3,212.0 167.1,215.8 170.0,219.6 173.7,222.4 178.4,225.2 180.3,229.0 179.5,231.8 181.2,235.6 184.1,239.3 188.8,243.1 191.6,246.8 195.3,250.6 200.1,253.4 204.8,256.3 209.5,259.1 211.9,260.5 214.2,264.1 216.1,267.8 218.9,271.6 222.7,274.4 225.0,276.3 226.0,280.1 227.4,285.7 229.3,291.4 231.1,297.0 232.6,302.6 233.0,308.3 233.5,313.9 234.4,319.6 236.3,323.3 234.9,325.2 233.0,328.0 232.1,332.7 231.6,337.4 231.1,342.1 229.7,345.9 227.4,349.7 224.6,352.5 220.8,354.4 217.0,356.3 213.3,359.1 209.5,361.9 204.8,364.7 200.1,368.1 195.9,369.0 192.2,370.7 189.4,370.7 186.5,371.6 184.7,375.4 182.8,379.1 180.9,382.9 180.9,385.7 179.0,387.1 175.3,387.6 174.3,389.5 170.6,391.4 165.8,393.2 162.1,395.1 160.2,397.0 158.3,400.8 155.5,403.6 151.7,405.0 148.0,405.7 146.1,404.5 148.0,402.6 148.9,400.8 148.5,397.0 148.5,392.3 148.9,385.7 148.9,382.0 152.7,380.1 153.2,378.2 150.8,376.3 148.0,374.9 145.6,373.5 143.3,371.6 141.9,370.2 139.5,369.7 136.7,370.7 134.3,373.0 132.9,376.3 131.5,377.3 130.1,374.4 128.2,371.6 125.4,367.8 123.5,365.0 122.6,362.2 120.7,360.3 117.9,362.2 116.0,360.3 115.1,355.6 114.1,351.9 113.2,348.1 111.6,345.5 109.7,341.7 106.9,337.0 105.0,335.1 101.2,333.2 98.4,331.4 94.7,329.5 90.0,326.7 86.2,327.6 83.4,328.5 79.6,327.6 75.8,327.6 72.1,326.7 73.5,323.8 74.0,320.1 74.9,316.3 75.8,312.6 73.0,311.6 68.3,310.7 64.6,311.6 60.8,312.1 58.0,313.5 56.1,316.3 58.0,319.1 57.0,323.8 56.1,328.5 56.1,333.2 55.2,337.9 53.3,342.6 51.4,346.4 49.5,350.2 47.6,354.9 46.7,360.5 43.9,365.2 42.0,369.9 41.1,374.6 41.1,380.3 41.1,385.0 42.0,389.7 42.9,392.5 46.7,392.5 49.5,391.5 52.3,391.5 54.2,394.4 55.2,398.1 56.1,401.9 58.0,404.7 59.9,408.1 61.3,413.5 63.0,420.0 64.6,425.5 66.8,431.0 71.2,435.4 76.7,437.6 81.1,437.0 85.5,438.7 88.8,443.1 92.1,447.5 96.5,450.8 99.7,450.8 103.0,454.1 106.3,457.3 110.7,460.6 115.1,465.0 118.4,470.5 120.6,474.9 122.2,481.5 122.2,488.1 121.1,493.6 120.6,499.0 121.7,503.4 121.7,510.0 122.8,514.4 127.2,517.7 130.5,521.0 132.7,526.5 134.9,530.9 137.0,535.2 138.1,538.1 138.6,541.5 144.5,544.4 151.4,546.9 161.3,550.4 171.2,553.3 181.1,555.8 190.9,557.1 200.8,557.6 210.7,557.9 220.6,558.3 225.5,558.5 226.0,557.6 225.5,552.1 226.0,546.6 226.6,542.2 228.2,537.8 230.4,534.5 233.7,531.2 237.0,530.7 239.2,529.6 239.8,532.3 241.4,534.5 245.8,536.2 250.2,535.6 254.6,535.1 259.0,537.3 263.3,537.8 266.6,537.3 267.7,533.4 268.8,529.0 269.9,524.7 271.0,520.3 272.1,517.0 276.5,514.8 280.9,513.7 285.3,513.1 289.7,512.0 295.2,510.9 300.6,509.3 305.0,506.0 308.3,501.6 311.6,497.2 316.0,492.8 319.3,488.4 321.5,483.0 322.6,481.3 327.0,480.8 331.4,478.6 335.8,475.8 339.0,473.6 341.9,472.0 346.2,467.7 351.6,462.2 357.1,457.8 361.5,452.3 365.9,446.8 370.3,441.4 374.1,442.5 375.8,438.1 379.9,420.1 383.7,407.1 383.7,405.7 387.6,400.2 391.5,396.3 397.0,392.0 400.1,390.0 404.8,384.5 408.7,381.4 411.9,377.5 415.8,373.6 418.1,369.6 421.3,367.3 422.8,364.9 423.6,362.6 425.2,357.9 426.8,353.2 427.4,351.3 438.7,340.8 450.0,326.7 465.0,306.9 481.0,290.0 513.2,257.7 552.9,212.6 552.9,63.1 546.9,55.1 448.3,52.8Z"/></clipPath></defs><g clip-path="url(#hD)"><path fill="#fd9c42" d="M446.9,53.0 443.9,50.7 439.5,55.2 436.5,58.9 432.0,61.2 429.0,65.6 427.5,70.1 429.0,74.6 426.8,80.5 423.1,83.5 420.1,89.4 415.6,92.4 411.2,96.9 406.7,101.4 402.2,104.3 397.8,105.8 394.0,110.3 388.8,114.8 384.4,119.2 379.9,123.4 379.9,120.2 376.1,122.8 374.1,125.5 371.4,128.2 370.0,132.9 367.4,133.6 365.4,132.9 362.7,134.9 359.3,136.3 356.6,136.9 354.6,135.6 351.3,136.3 350.6,138.3 348.6,138.3 347.3,135.6 343.2,136.3 339.2,138.9 337.9,136.6 335.9,136.9 332.5,138.9 331.2,140.3 327.8,141.3 322.4,141.6 319.8,141.3 318.4,138.3 315.7,136.6 314.4,133.6 313.1,131.2 310.7,130.6 312.4,133.6 314.1,136.3 314.4,139.6 314.1,143.0 314.4,145.6 314.1,148.3 311.7,149.7 309.0,151.0 307.0,153.7 305.0,154.4 302.3,153.0 299.6,154.4 297.0,156.4 295.0,158.0 292.9,157.4 291.6,155.0 290.3,157.0 288.3,156.0 284.9,155.4 284.9,154.3 282.4,155.0 279.7,156.6 277.1,157.6 274.4,159.7 271.7,159.7 269.0,161.0 266.3,160.7 263.6,161.7 260.3,163.0 258.3,163.7 256.3,165.0 254.3,165.7 253.6,168.4 251.6,169.7 249.6,171.1 250.2,173.1 252.9,173.7 253.6,175.7 254.9,177.8 256.3,180.4 254.9,183.1 252.3,184.1 248.9,184.5 245.5,183.8 244.9,180.4 242.9,178.4 241.5,175.7 240.5,172.4 240.9,168.4 241.5,165.7 243.5,163.0 245.5,162.3 244.9,161.7 242.2,160.3 239.5,159.0 238.2,157.0 236.8,160.7 232.8,162.0 229.5,162.0 230.1,159.0 227.4,158.6 224.8,156.6 222.8,156.6 220.7,155.6 219.4,153.6 218.1,154.3 215.4,157.6 212.7,158.3 210.0,159.7 207.3,160.3 204.6,161.0 201.3,163.0 198.6,164.3 196.6,166.4 193.9,169.7 189.9,171.7 189.7,171.1 185.9,171.1 183.1,172.1 182.0,175.8 180.3,180.1 178.4,183.8 174.7,187.6 170.9,190.4 169.0,193.2 167.1,197.0 166.2,200.8 165.3,204.5 163.6,208.3 165.3,212.0 167.1,215.8 170.0,219.6 173.7,222.4 178.4,225.2 180.3,229.0 179.5,231.8 181.2,235.6 184.1,239.3 188.8,243.1 191.6,246.8 195.3,250.6 200.1,253.4 204.8,256.3 209.5,259.1 211.9,260.5 214.2,264.1 216.1,267.8 218.9,271.6 222.7,274.4 225.0,276.3 226.0,280.1 227.4,285.7 229.3,291.4 231.1,297.0 232.6,302.6 233.0,308.3 233.5,313.9 234.4,319.6 236.3,323.3 234.9,325.2 233.0,328.0 232.1,332.7 231.6,337.4 231.1,342.1 229.7,345.9 227.4,349.7 224.6,352.5 220.8,354.4 217.0,356.3 213.3,359.1 209.5,361.9 204.8,364.7 200.1,368.1 195.9,369.0 192.2,370.7 189.4,370.7 186.5,371.6 184.7,375.4 182.8,379.1 180.9,382.9 180.9,385.7 179.0,387.1 175.3,387.6 174.3,389.5 170.6,391.4 165.8,393.2 162.1,395.1 160.2,397.0 158.3,400.8 155.5,403.6 151.7,405.0 148.0,405.7 146.1,404.5 148.0,402.6 148.9,400.8 148.5,397.0 148.5,392.3 148.9,385.7 148.9,382.0 152.7,380.1 153.2,378.2 150.8,376.3 148.0,374.9 145.6,373.5 143.3,371.6 141.9,370.2 139.5,369.7 136.7,370.7 134.3,373.0 132.9,376.3 131.5,377.3 130.1,374.4 128.2,371.6 125.4,367.8 123.5,365.0 122.6,362.2 120.7,360.3 117.9,362.2 116.0,360.3 115.1,355.6 114.1,351.9 113.2,348.1 111.6,345.5 109.7,341.7 106.9,337.0 105.0,335.1 101.2,333.2 98.4,331.4 94.7,329.5 90.0,326.7 86.2,327.6 83.4,328.5 79.6,327.6 75.8,327.6 72.1,326.7 73.5,323.8 74.0,320.1 74.9,316.3 75.8,312.6 73.0,311.6 68.3,310.7 64.6,311.6 60.8,312.1 58.0,313.5 56.1,316.3 58.0,319.1 57.0,323.8 56.1,328.5 56.1,333.2 55.2,337.9 53.3,342.6 51.4,346.4 49.5,350.2 47.6,354.9 46.7,360.5 43.9,365.2 42.0,369.9 41.1,374.6 41.1,380.3 41.1,385.0 42.0,389.7 42.9,392.5 46.7,392.5 49.5,391.5 52.3,391.5 54.2,394.4 55.2,398.1 56.1,401.9 58.0,404.7 59.9,408.1 61.3,413.5 63.0,420.0 64.6,425.5 66.8,431.0 71.2,435.4 76.7,437.6 81.1,437.0 85.5,438.7 88.8,443.1 92.1,447.5 96.5,450.8 99.7,450.8 103.0,454.1 106.3,457.3 110.7,460.6 115.1,465.0 118.4,470.5 120.6,474.9 122.2,481.5 122.2,488.1 121.1,493.6 120.6,499.0 121.7,503.4 121.7,510.0 122.8,514.4 127.2,517.7 130.5,521.0 132.7,526.5 134.9,530.9 137.0,535.2 138.1,538.1 138.6,541.5 144.5,544.4 151.4,546.9 161.3,550.4 171.2,553.3 181.1,555.8 190.9,557.1 200.8,557.6 210.7,557.9 220.6,558.3 225.5,558.5 226.0,557.6 225.5,552.1 226.0,546.6 226.6,542.2 228.2,537.8 230.4,534.5 233.7,531.2 237.0,530.7 239.2,529.6 239.8,532.3 241.4,534.5 245.8,536.2 250.2,535.6 254.6,535.1 259.0,537.3 263.3,537.8 266.6,537.3 267.7,533.4 268.8,529.0 269.9,524.7 271.0,520.3 272.1,517.0 276.5,514.8 280.9,513.7 285.3,513.1 289.7,512.0 295.2,510.9 300.6,509.3 305.0,506.0 308.3,501.6 311.6,497.2 316.0,492.8 319.3,488.4 321.5,483.0 322.6,481.3 327.0,480.8 331.4,478.6 335.8,475.8 339.0,473.6 341.9,472.0 346.2,467.7 351.6,462.2 357.1,457.8 361.5,452.3 365.9,446.8 370.3,441.4 374.1,442.5 375.8,438.1 379.9,420.1 383.7,407.1 383.7,405.7 387.6,400.2 391.5,396.3 397.0,392.0 400.1,390.0 404.8,384.5 408.7,381.4 411.9,377.5 415.8,373.6 418.1,369.6 421.3,367.3 422.8,364.9 423.6,362.6 425.2,357.9 426.8,353.2 427.4,351.3 438.7,340.8 450.0,326.7 465.0,306.9 481.0,290.0 513.2,257.7 552.9,212.6 552.9,63.1 546.9,55.1 448.3,52.8Z"/><path fill="#fd7435" d="M395.6,215.4 552.4,213.8 552.4,260.4 443.8,384.6 409.6,384.6 397.2,372.2 386.3,369.1 377.0,362.9 370.8,353.6 367.7,338.0 366.9,307.0 366.9,275.9 369.2,262.0 378.5,254.2 387.1,244.9 387.9,224.7Z"/><path fill="#f74327" d="M406.5,232.5 420.5,228.6 437.5,226.2 459.3,225.5 482.6,227.8 499.6,232.5 507.4,238.7 513.6,252.6 521.4,275.9 459.3,353.6 443.8,338.0 432.9,339.6 420.5,338.0 408.0,333.4 395.6,327.2 386.3,317.8 381.7,307.0 380.1,291.5 380.9,269.7 386.3,260.4 395.6,251.1 398.7,241.8Z"/><path fill="#e2191c" d="M412.7,285.2 415.8,271.3 423.6,262.0 434.4,257.3 446.9,255.7 459.3,257.3 471.7,260.4 482.6,266.6 488.0,277.5 487.2,288.3 481.0,294.6 471.7,303.9 462.4,311.6 450.0,316.3 437.5,316.3 425.1,311.6 416.6,303.9 412.7,294.6Z"/><ellipse fill="#fd7435" cx="176.0" cy="202.2" rx="7.0" ry="11.0"/><ellipse fill="#f74327" cx="176.5" cy="204.0" rx="3.0" ry="4.0"/><path fill="#feba55" d="M165.8,201.3 171.6,203.6 172.9,219.2 167.1,218.3Z"/><path fill="#fd7435" d="M290.0,241.5 296.7,239.3 298.0,257.2 290.9,259.4Z"/><path fill="#e2191c" d="M58.6,313.0 66.6,312.1 72.0,321.0 62.1,320.1Z"/><path fill="#fd7435" d="M62.1,320.1 72.0,321.0 75.5,325.5 64.4,326.4Z"/><ellipse fill="#feba55" cx="238.6" cy="308.5" rx="3.0" ry="4.0"/><ellipse fill="#feba55" cx="103.2" cy="444.8" rx="4.0" ry="3.0"/><ellipse fill="#feba55" cx="139.0" cy="536.4" rx="3.0" ry="4.0"/><ellipse fill="#feba55" cx="247.5" cy="183.5" rx="6.0" ry="3.0"/></g><path fill="#fff" d="M68.7,64.1 69.9,63.8 70.2,65.9 69.0,66.4ZM59.2,76.8 60.7,76.3 61.7,79.0 62.4,82.3 61.2,82.9 60.2,79.8ZM110.4,102.1 111.9,101.9 111.6,105.1 110.7,106.1ZM104.1,119.2 105.9,118.9 106.2,120.1 104.4,120.4ZM196.6,166.4 199.3,164.7 201.0,167.0 200.0,171.1 197.9,173.7 196.3,172.4ZM250.9,152.6 252.6,153.6 253.3,156.6 251.9,157.0ZM229.1,169.4 230.1,169.4 230.0,170.4 229.1,170.4ZM203.6,170.0 205.7,169.7 205.3,171.1 204.0,171.4ZM463.3,8.3 469.2,6.8 475.2,9.0 473.7,15.0 470.0,16.5 467.8,12.0ZM472.2,0.1 478.2,0.1 481.2,1.6 476.7,3.8ZM455.1,32.1 458.8,30.6 461.1,35.8 458.1,40.3 455.8,37.3ZM427.5,59.7 432.0,58.9 434.2,63.4 431.3,66.4 428.3,64.1ZM427.5,81.3 432.0,82.0 432.8,85.7 429.0,87.2ZM395.5,102.8 400.7,101.4 404.5,104.3 400.7,106.6ZM426.1,120.0 429.0,119.2 430.2,122.5 427.3,123.4ZM491.6,104.3 493.4,104.3 493.4,105.8 491.6,105.8ZM506.5,106.1 509.4,105.5 511.7,108.1 508.0,108.8ZM513.9,105.1 517.6,103.6 517.2,106.6 514.7,107.0ZM523.1,101.1 524.6,101.1 524.6,102.2 523.1,102.2ZM532.5,97.6 535.5,96.9 538.0,99.6 534.8,100.6ZM562.5,68.3 563.9,68.3 563.9,69.8 562.5,69.8ZM463.3,138.3 464.8,138.3 464.8,139.8 463.3,139.8ZM464.0,149.7 466.0,150.2 465.5,151.7 464.0,151.2ZM469.8,173.6 471.3,173.6 471.0,176.5 469.8,176.1ZM471.0,181.0 473.7,180.0 473.4,182.5 471.0,184.4ZM465.5,88.7 469.2,90.9 473.0,93.9 470.7,96.1 471.5,101.4 469.2,107.3 467.0,113.3 465.5,119.2 464.8,125.2 462.5,131.1 458.8,135.6 455.1,140.1 453.6,144.5 452.9,149.0 452.1,152.7 449.1,152.7 448.4,147.5 445.4,143.0 442.4,138.6 440.2,134.1 438.0,131.1 438.7,125.2 438.7,120.7 441.7,116.2 445.4,110.3 449.9,104.3 454.4,98.4 457.3,93.9 461.8,91.7ZM325.1,143.0 327.8,142.6 327.1,144.3 325.5,144.6ZM294.3,158.0 298.3,156.7 300.7,157.7 299.3,159.7 295.0,159.4ZM329.8,116.1 333.2,114.1 335.9,115.5 334.5,118.2 330.5,118.5ZM196.3,166.0 200.1,164.1 204.8,161.3 209.5,159.9 208.5,163.1 201.0,166.9 199.1,172.6 196.3,173.5ZM182.2,170.2 186.9,170.2 191.1,173.5 189.7,175.8 185.0,173.5ZM204.3,170.2 205.7,170.2 205.7,171.1 204.3,171.1ZM135.2,242.1 136.6,242.6 137.5,244.0 136.1,244.5ZM102.2,249.7 106.0,249.7 106.0,254.4 104.6,252.0ZM122.0,251.1 123.9,250.6 122.9,253.0 121.2,253.9ZM221.1,202.0 224.5,199.7 227.9,197.5 230.7,195.2 230.7,193.5 233.0,191.8 235.8,192.4 238.0,190.7 241.4,189.6 244.8,190.1 247.1,190.7 249.9,189.0 252.7,188.4 255.5,189.0 257.8,190.1 259.5,187.0 261.7,189.0 264.6,189.6 265.7,192.9 266.3,196.3 264.0,196.9 261.7,198.6 259.5,201.4 258.4,204.2 257.2,207.1 256.1,209.9 255.8,212.1 254.4,213.8 251.6,215.0 248.8,217.2 247.1,219.5 244.2,220.0 242.0,221.7 240.9,223.4 238.6,224.0 236.3,222.9 233.5,221.7 230.1,221.2 227.3,220.0 224.5,218.9 221.7,217.8 221.1,215.0 220.5,212.1 220.5,207.6 220.8,204.2ZM237.2,200.8 238.6,200.8 240.3,202.3 238.0,202.5ZM203.0,170.4 205.3,169.8 205.9,170.6 204.2,171.5ZM229.0,169.5 230.1,169.5 229.8,170.6 229.1,170.4ZM219.7,341.7 221.0,341.7 221.0,342.9 219.7,342.9ZM130.1,369.7 132.9,369.3 134.3,373.0 132.9,376.8 131.1,376.3ZM122.0,391.2 123.3,391.2 123.3,392.3 122.0,392.3ZM180.9,402.6 183.0,401.7 182.8,403.8 181.4,404.3ZM144.7,381.5 145.6,381.5 145.6,382.4 144.7,382.4ZM127.6,317.3 131.9,315.4 131.9,324.8 128.5,321.0ZM55.2,385.9 58.0,385.9 58.0,389.7 55.6,389.7ZM56.6,382.1 58.2,382.6 58.0,384.0 56.6,383.8ZM52.8,375.6 54.2,376.0 54.0,377.4 52.8,377.3ZM50.0,386.4 51.2,386.7 50.9,387.8 50.0,387.6ZM121.9,391.1 123.1,391.1 123.1,392.3 121.9,392.3ZM100.3,337.0 102.7,337.9 102.2,340.8 100.8,340.3ZM104.5,344.5 105.9,345.5 105.5,348.3 104.5,347.3ZM14.7,298.4 15.8,298.6 15.7,299.9 14.7,299.6ZM17.1,304.6 18.3,304.8 18.1,306.4 17.1,306.2ZM21.3,303.1 23.7,303.6 23.2,309.7 21.3,308.8ZM15.7,324.8 16.8,325.0 16.6,326.2 15.7,325.9ZM18.0,332.3 21.3,332.8 20.8,337.0 18.5,335.1ZM23.2,327.6 26.0,326.7 27.9,329.5 26.9,333.2 24.1,332.3ZM26.0,340.8 30.7,340.8 34.5,344.5 30.7,348.3 26.9,346.4ZM19.4,343.6 20.8,344.1 20.4,347.3 19.2,346.4ZM21.3,349.2 23.7,349.7 23.2,353.0 21.3,352.0ZM16.1,360.5 17.5,361.0 17.4,362.4 16.1,362.2ZM20.4,359.6 22.2,360.5 21.8,363.3 20.2,362.4ZM27.9,357.7 32.6,358.2 31.6,362.4 28.4,363.3ZM17.1,368.0 19.0,368.5 18.5,370.4 17.1,369.9ZM21.3,374.6 23.7,375.1 23.2,378.4 21.1,377.4ZM25.1,380.3 28.8,380.7 27.9,383.1 25.5,383.1ZM23.7,393.4 26.0,393.9 26.5,398.1 24.1,397.7ZM11.9,342.2 12.8,342.2 12.8,343.6 11.9,343.6ZM28.4,514.4 31.7,513.3 35.0,516.6 38.3,521.0 40.5,523.2 36.1,523.7 32.8,519.9ZM24.6,413.5 27.3,412.4 27.9,420.0 24.6,420.6ZM28.4,410.2 31.7,409.1 32.3,416.8 29.5,417.8ZM48.2,444.2 51.5,442.0 53.7,446.4 51.5,449.7 49.3,447.5ZM59.1,420.0 60.5,420.0 60.5,421.4 59.1,421.4ZM64.6,426.6 66.8,427.2 67.0,432.1 64.9,431.6ZM60.2,463.9 63.0,464.5 63.0,468.3 60.5,467.8ZM70.7,491.9 73.4,492.5 73.2,495.2 71.0,494.7ZM80.5,510.0 82.4,510.6 82.2,513.5 80.5,513.1ZM109.1,455.4 110.2,455.4 110.2,456.5 109.1,456.5ZM113.5,457.6 114.6,457.6 114.6,458.7 113.5,458.7ZM135.1,513.5 136.8,513.9 136.5,516.0 135.1,515.7ZM134.3,523.7 135.7,524.1 135.4,525.2 134.3,524.9ZM83.3,529.8 88.8,528.1 90.4,533.1 86.6,536.3 83.3,534.2ZM8.4,256.1 12.1,254.3 13.5,256.1 11.2,259.9 8.8,259.0ZM54.0,204.9 55.2,204.9 55.2,205.9 54.0,205.9ZM102.4,249.6 106.6,250.0 105.7,254.3 104.3,252.4ZM126.7,316.8 129.5,315.8 133.3,317.7 136.1,321.5 138.9,325.2 140.8,329.0 138.0,329.9 134.2,327.1 130.5,324.3 127.6,321.5ZM101.3,249.5 106.0,250.0 105.1,254.7 104.1,251.9ZM121.1,251.9 124.3,250.9 122.9,253.7 120.6,254.2ZM208.5,490.6 212.9,487.9 216.7,493.9 214.0,498.3 210.1,499.4 207.9,495.0ZM206.8,478.0 208.5,477.7 208.3,479.7 206.8,479.4ZM203.5,510.9 205.0,510.9 205.0,512.0 203.5,512.0ZM223.3,510.4 225.2,510.6 225.5,514.2 223.6,513.9ZM226.9,519.4 229.3,520.0 229.1,521.1 226.9,520.5ZM221.1,551.9 222.5,551.9 222.5,553.2 221.1,553.2ZM270.1,515.9 272.1,515.3 273.2,520.3 271.0,521.4ZM284.7,548.2 288.6,547.7 289.7,552.1 286.4,553.7ZM383.7,405.7 387.6,400.2 391.5,396.3 397.0,392.0 400.1,390.0 404.8,384.5 408.7,381.4 411.9,377.5 415.8,373.6 418.1,369.6 421.3,367.3 422.8,364.9 423.6,362.6 425.2,357.9 426.8,353.2 427.4,351.6 429.4,354.1 428.4,358.1 428.9,361.1 426.8,362.6 428.3,364.2 429.9,366.5 429.1,369.6 426.0,371.2 422.8,373.6 420.5,377.5 415.8,378.3 412.7,379.8 411.9,383.7 409.5,387.7 406.4,392.4 403.2,393.9 400.1,395.5 397.8,399.4 394.6,401.8 391.5,403.3 387.6,404.9 383.7,408.0ZM421.3,359.1 425.2,352.5 429.0,355.8 428.5,362.4 425.2,363.5ZM430.6,367.8 433.9,366.2 436.1,367.3 433.4,369.5ZM431.2,349.7 432.8,349.7 432.8,351.4 431.2,351.4ZM453.7,355.8 455.0,355.8 455.0,356.9 453.7,356.9ZM455.0,361.8 456.4,361.8 456.4,362.9 455.0,362.9ZM378.0,416.1 380.2,413.9 380.7,418.3 379.1,420.0ZM382.4,410.6 385.1,410.1 385.7,412.8 382.9,413.1ZM406.5,434.8 407.8,434.8 407.8,436.1 406.5,436.1ZM452.6,454.5 459.2,452.3 465.8,453.4 471.9,451.2 471.9,455.6 463.6,456.7 457.0,457.8ZM444.9,449.0 449.3,446.8 451.5,448.5 447.1,451.2ZM450.4,462.2 453.7,461.1 454.2,463.3 450.9,463.5ZM465.8,441.4 468.0,442.5 471.9,441.4 471.9,444.7 469.0,444.7ZM431.7,469.9 440.5,466.6 442.7,469.9 437.2,472.1 431.7,472.1ZM424.1,476.5 426.8,475.9 427.1,479.2 424.6,479.5ZM431.7,474.3 433.7,474.3 433.7,477.3 431.7,477.3ZM388.5,487.6 391.4,484.7 395.4,486.6 396.4,490.6 392.4,492.6 389.4,490.6ZM381.5,499.5 386.5,498.5 391.4,500.5 395.4,501.9 391.4,506.4 386.5,505.4ZM407.7,525.2 410.2,525.7 409.7,528.1 408.0,527.6ZM424.5,475.8 426.5,474.8 427.0,478.7 425.0,479.7ZM431.9,471.8 438.8,467.4 442.8,469.8 440.8,471.8 433.9,473.8 431.9,473.8ZM432.4,476.3 433.7,476.3 433.7,477.5 432.4,477.5ZM452.7,456.0 456.6,453.0 461.6,454.0 466.5,453.0 472.4,452.1 471.9,455.0 466.5,456.0 460.6,457.0 456.6,458.0 453.7,457.5ZM444.3,450.6 445.8,450.1 445.6,451.6 444.3,451.9ZM462.2,201.2 464.6,200.8 465.4,203.2 463.4,204.0ZM459.1,205.9 459.9,205.5 460.3,207.9 459.5,207.9ZM459.9,210.2 463.0,209.9 463.8,211.0 460.7,211.4ZM470.8,209.9 473.2,208.3 474.0,209.9 471.6,212.2ZM472.4,198.1 474.0,198.1 473.6,199.3 472.6,199.3ZM470.1,282.7 474.8,282.3 474.8,286.7 473.2,290.2 471.6,289.0ZM456.0,292.9 459.1,292.1 462.2,294.5 463.8,296.1 460.7,296.8 457.5,295.3ZM436.4,304.6 440.6,305.5 443.4,309.3 439.6,308.3ZM442.5,312.6 448.1,311.6 455.6,312.6 461.3,315.4 465.0,320.1 464.1,325.7 463.2,330.4 460.3,334.2 456.6,336.1 453.8,332.3 451.9,327.6 450.9,322.9 449.1,318.2 445.3,315.4ZM470.7,311.6 474.4,310.7 476.3,313.5 474.4,316.3 471.2,315.4ZM482.4,331.4 485.7,330.4 487.1,333.2 484.8,334.2ZM474.4,328.5 476.3,327.6 475.4,335.1 472.6,342.6 476.3,344.5 482.0,347.3 485.7,348.3 491.4,349.2 495.1,350.2 495.1,355.8 491.4,359.6 487.6,361.5 484.8,363.3 481.0,365.2 476.3,367.1 472.6,369.9 472.6,363.3 473.5,353.9 474.4,344.5 471.6,343.6 472.6,337.0ZM493.3,359.6 500.8,360.5 502.7,363.3 500.8,368.0 498.0,372.7 496.1,377.4 495.1,382.1 496.1,386.8 498.0,391.5 495.1,395.3 491.4,395.3 488.6,391.5 485.7,389.7 482.0,385.9 481.0,381.2 483.8,378.4 488.6,377.4 489.5,372.7 488.6,368.0 487.6,363.3 490.4,361.5ZM510.2,353.9 512.5,355.8 511.6,363.3 509.2,369.9 506.4,374.6 503.6,379.3 500.8,383.1 498.9,387.8 496.1,385.9 497.0,381.2 499.8,376.5 502.7,372.7 505.5,368.0 508.3,362.4ZM508.3,378.4 513.9,375.6 518.6,374.6 521.5,376.5 520.5,382.1 515.8,385.0 510.2,385.9 507.4,384.0ZM517.7,329.5 523.3,328.5 529.9,327.6 534.6,330.4 536.5,337.0 539.9,338.9 539.9,355.8 534.6,353.9 529.9,349.2 523.3,348.3 519.6,344.5 517.7,339.8ZM519.6,348.3 525.2,348.3 529.9,353.9 530.9,361.5 532.8,368.0 534.6,374.6 535.6,378.4 530.9,375.6 528.1,370.9 525.2,365.2 523.3,359.6 519.6,355.8 518.6,352.0ZM498.0,329.5 500.8,330.4 506.4,335.1 510.2,338.9 513.0,344.5 510.2,343.6 504.5,339.8 499.8,336.1 497.0,341.7 496.1,337.9 498.0,334.2ZM513.9,302.2 515.8,300.3 517.7,302.2 518.6,306.9 516.8,310.7 513.9,309.7 513.0,306.0ZM492.3,319.1 495.1,318.2 498.9,323.8 500.8,326.7 498.0,325.7 494.2,322.9ZM504.5,327.6 506.4,328.5 507.4,333.2 505.5,334.2 504.1,331.4ZM454.2,300.8 455.6,300.8 455.6,302.2 454.2,302.2ZM467.4,322.4 468.6,322.4 468.6,323.6 467.4,323.6ZM474.3,322.0 475.6,322.0 475.6,325.7 474.3,325.7ZM461.3,337.0 464.1,337.9 466.0,342.2 463.6,342.6ZM453.3,355.3 454.5,355.3 454.5,356.6 453.3,356.6ZM454.9,361.6 456.2,361.6 456.2,363.0 454.9,363.0ZM431.2,349.2 433.1,349.2 433.3,351.1 431.4,351.1ZM502.2,392.0 505.0,391.5 505.7,394.8 502.7,395.1ZM522.4,392.5 524.8,392.3 525.2,395.3 522.9,395.3ZM478.0,328.4 480.1,328.4 480.1,330.4 478.0,330.4ZM434.0,335.1 437.8,334.2 442.5,338.9 440.6,344.5 434.9,346.4ZM431.2,366.2 435.4,366.6 435.9,369.0 431.7,369.0ZM456.6,293.7 460.3,292.3 463.2,294.7 461.3,297.5 457.5,297.5ZM473.8,435.5 472.3,430.8 475.4,424.5 476.2,418.2 480.1,415.1 486.4,414.3 492.6,412.0 494.2,406.5 500.5,403.3 505.2,404.1 508.3,407.3 509.1,412.0 506.7,415.1 513.0,413.5 517.7,407.3 522.4,402.6 527.1,397.9 533.4,394.7 538.1,391.6 541.2,388.5 539.6,382.2 542.8,380.6 545.9,383.8 547.5,386.9 550.6,390.0 553.7,396.3 554.5,404.1 555.3,412.0 556.1,419.8 560.0,426.1 558.4,430.8 555.3,435.5 552.2,438.6 550.6,443.3 552.2,448.0 549.0,440.2 547.5,433.9 544.3,430.8 541.2,432.3 539.6,437.0 538.1,441.7 541.2,446.4 542.8,452.7 541.2,459.0 538.1,463.7 534.9,460.5 533.4,455.8 530.2,457.4 525.5,455.8 520.8,454.3 516.1,451.1 513.0,446.4 511.4,440.2 511.4,433.9 514.6,429.2 511.4,424.5 505.2,421.4 498.9,421.4 492.6,422.9 487.9,426.1 484.8,424.5 481.7,427.6 480.1,433.9 477.0,435.5ZM525.5,369.7 531.8,368.1 534.9,374.4 533.4,379.1 528.7,377.5ZM545.9,379.1 550.6,377.5 552.2,383.8 547.5,385.3ZM470.7,441.7 477.0,440.2 480.1,443.3 475.4,446.4 470.7,444.9ZM502.3,392.4 505.2,392.4 505.2,395.0 502.3,395.0ZM515.3,417.4 517.4,417.4 517.4,419.8 515.3,419.8ZM524.9,440.9 526.5,440.9 526.5,442.5 524.9,442.5ZM536.5,464.3 538.4,464.3 538.4,466.2 536.5,466.2ZM561.6,484.0 564.7,482.5 565.5,490.3 563.1,496.6 560.8,493.4ZM538.1,498.1 540.4,497.3 542.4,502.8 539.6,504.4ZM536.7,514.7 538.1,514.7 538.1,516.1 536.7,516.1ZM536.7,522.6 538.1,522.6 538.1,524.0 536.7,524.0ZM535.9,527.3 537.3,527.3 537.3,528.7 535.9,528.7ZM554.7,541.4 556.1,541.4 556.1,542.8 554.7,542.8ZM520.8,538.9 525.5,535.7 527.1,538.9 522.4,542.0ZM164.1,510.3 167.2,509.8 167.7,513.3 165.3,514.3ZM173.9,503.9 177.1,503.7 177.3,508.8 175.1,509.3ZM174.1,514.8 175.6,514.8 175.6,516.3 174.1,516.3ZM203.8,510.8 205.0,510.8 205.0,512.0 203.8,512.0ZM223.5,510.6 225.5,510.6 225.7,514.3 223.7,514.0ZM226.5,519.5 229.5,519.7 229.3,521.2 226.7,520.9ZM197.4,547.9 200.8,547.4 201.0,549.2 197.7,549.4ZM169.0,509.8 170.2,509.8 170.2,511.0 169.0,511.0ZM134.8,513.6 137.8,513.6 137.8,516.9 134.8,516.9ZM134.4,524.2 135.8,524.2 135.8,525.2 134.4,525.2ZM126.7,546.4 131.7,544.4 135.6,546.4 137.6,551.3 135.6,556.3 130.7,553.3 126.7,552.3ZM139.6,543.4 144.5,544.4 146.5,549.4 145.5,553.3 141.5,552.3 140.1,548.4ZM119.8,547.4 123.8,546.4 124.7,551.3 121.8,554.3 118.8,552.3ZM111.9,547.4 114.9,548.4 117.8,553.3 114.9,556.3 111.9,555.3ZM135.6,559.2 139.6,560.2 141.5,564.2 138.6,566.2 136.1,564.2ZM147.5,547.4 148.7,547.4 148.7,548.6 147.5,548.6ZM221.1,551.8 222.4,551.8 222.4,553.1 221.1,553.1ZM193.4,564.0 194.4,564.0 194.4,565.0 193.4,565.0ZM359.6,6.7 362.9,4.5 364.0,10.0 361.8,14.4 366.2,15.5 369.5,14.4 372.7,16.6 370.6,22.0 367.3,23.1 364.0,18.8 360.7,14.4 358.5,11.1ZM361.8,26.4 365.1,25.3 368.4,27.5 366.2,29.7 362.9,29.7ZM425.4,120.2 427.6,120.2 427.6,122.4 425.4,122.4ZM292.6,14.2 294.9,13.5 295.6,15.7 293.4,16.2ZM299.5,24.2 301.0,24.2 301.0,25.7 299.5,25.7ZM307.5,1.6 310.5,0.8 312.0,3.8 309.0,4.6ZM2.2,540.8 6.7,539.7 11.2,542.0 15.7,546.5 17.4,549.9 15.7,555.5 13.4,556.7 11.2,553.3 7.8,547.6 4.4,543.1ZM29.3,563.4 33.8,563.7 34.9,565.1 30.4,565.7ZM27.0,535.8 31.0,535.2 33.8,536.9 31.5,538.4 27.6,537.7ZM94.7,538.0 101.5,537.7 104.3,540.8 101.5,542.0 97.0,540.3ZM104.9,546.5 110.6,545.4 115.1,548.7 117.3,553.3 113.9,555.5 109.4,552.1 106.0,549.9ZM120.2,547.6 123.0,546.5 124.1,553.3 121.8,555.5 119.6,552.1ZM127.5,547.6 135.4,545.4 143.3,544.2 145.6,548.7 141.0,553.3 135.4,555.5 129.8,553.3ZM85.7,544.8 87.1,544.8 87.1,546.2 85.7,546.2ZM98.7,553.8 100.1,553.8 100.1,555.0 98.7,555.0ZM446.5,217.7 451.2,215.7 457.5,215.7 461.4,217.7 465.4,219.7 467.7,221.6 471.6,222.0 474.8,220.8 476.3,216.9 478.7,218.5 480.2,221.6 477.9,224.7 477.1,227.9 476.3,231.8 477.9,237.3 481.0,240.4 482.6,242.8 483.4,245.9 481.8,249.8 479.5,253.7 477.1,257.7 475.5,260.8 473.2,261.6 470.1,262.4 466.9,263.9 465.4,266.3 466.1,269.4 464.6,272.6 463.0,275.7 462.2,278.0 463.8,280.4 464.6,283.5 466.1,286.7 445.8,294.5 443.4,292.9 441.8,289.8 439.5,287.4 437.9,285.9 437.1,282.7 436.4,278.0 434.8,274.1 434.0,269.4 433.2,265.5 431.7,264.7 431.7,260.0 432.4,258.1 434.0,257.7 436.4,260.0 438.7,262.4 441.8,262.4 443.4,260.8 442.6,257.7 441.8,254.5 442.2,251.4 443.4,247.5 443.4,243.6 444.2,239.6 442.6,236.5 443.4,233.4 445.0,229.4 445.8,225.5 446.9,221.6 446.5,217.7ZM64.6,312.6 75.9,312.1 73.5,323.8 77.7,327.6Z"/>
<use href="#coast"/>
<use href="#grid"/>
</g>
<use href="#axes"/>
</g>
<text transform="translate(732.6,683.8) scale(0.94,1)" font-size="29.6" font-weight="bold" style="font-family:'Liberation Sans',sans-serif">D</text>
<text x="1029.0" y="682.7" font-size="20" font-weight="bold" text-anchor="middle">2300</text>
<g>
<rect x="1337.3" y="886.03" width="32.6" height="60.77" fill="#fff8bb"/>
<rect x="1337.3" y="825.86" width="32.6" height="60.77" fill="#ffe998"/>
<rect x="1337.3" y="765.69" width="32.6" height="60.77" fill="#fed976"/>
<rect x="1337.3" y="705.52" width="32.6" height="60.77" fill="#feba55"/>
<rect x="1337.3" y="645.35" width="32.6" height="60.77" fill="#fd9c42"/>
<rect x="1337.3" y="585.18" width="32.6" height="60.77" fill="#fd7435"/>
<rect x="1337.3" y="525.01" width="32.6" height="60.77" fill="#f74327"/>
<rect x="1337.3" y="464.84" width="32.6" height="60.77" fill="#e2191c"/>
<rect x="1337.3" y="404.67" width="32.6" height="60.77" fill="#c40524"/>
<rect x="1337.3" y="344.50" width="32.6" height="60.77" fill="#970026"/>
<polygon points="1337.3,345.1 1353.60,315.0 1369.9,345.1" fill="#800026"/>
<polygon points="1337.3,946.2 1353.60,976.4 1369.9,946.2" fill="#ffffcc"/>
<path d="M1337.3,344.8 L1337.3,946.5 L1353.60,976.4 L1369.9,946.5 L1369.9,344.8 L1353.60,315.0 Z" fill="none" stroke="#000" stroke-width="1.1"/>
<g stroke="#222" stroke-width="0.9">
<line x1="1369.9" y1="946.50" x2="1375.4" y2="946.50"/>
<line x1="1369.9" y1="886.33" x2="1375.4" y2="886.33"/>
<line x1="1369.9" y1="826.16" x2="1375.4" y2="826.16"/>
<line x1="1369.9" y1="765.99" x2="1375.4" y2="765.99"/>
<line x1="1369.9" y1="705.82" x2="1375.4" y2="705.82"/>
<line x1="1369.9" y1="645.65" x2="1375.4" y2="645.65"/>
<line x1="1369.9" y1="585.48" x2="1375.4" y2="585.48"/>
<line x1="1369.9" y1="525.31" x2="1375.4" y2="525.31"/>
<line x1="1369.9" y1="465.14" x2="1375.4" y2="465.14"/>
<line x1="1369.9" y1="404.97" x2="1375.4" y2="404.97"/>
<line x1="1369.9" y1="344.80" x2="1375.4" y2="344.80"/>
</g><g font-size="11" fill="#222">
<text x="1380.6" y="950.10">0.0</text>
<text x="1380.6" y="889.93">0.5</text>
<text x="1380.6" y="829.76">1.0</text>
<text x="1380.6" y="769.59">1.5</text>
<text x="1380.6" y="709.42">2.0</text>
<text x="1380.6" y="649.25">2.5</text>
<text x="1380.6" y="589.08">3.0</text>
<text x="1380.6" y="528.91">3.5</text>
<text x="1380.6" y="468.74">4.0</text>
<text x="1380.6" y="408.57">4.5</text>
<text x="1380.6" y="348.40">5.0</text>
</g>
<text transform="translate(1413.8,713) rotate(-90)" font-size="17" fill="#9a0c0c">Sea level change (m)</text>
</g>
</svg></body></html>
